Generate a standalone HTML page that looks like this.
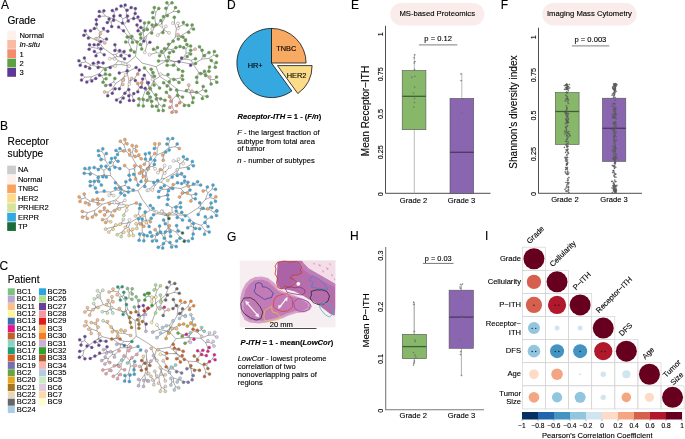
<!DOCTYPE html>
<html><head><meta charset="utf-8"><style>
html,body{margin:0;padding:0;background:#fff;width:685px;height:439px;overflow:hidden}
svg{display:block;will-change:transform}
text{font-family:"Liberation Sans", sans-serif;stroke:currentColor;stroke-width:0.12px}
</style></head><body>
<svg width="685" height="439" viewBox="0 0 685 439" font-family='"Liberation Sans", sans-serif'>
<rect width="685" height="439" fill="#fff"/>
<g id="tissue">
<defs><filter id="tb" x="-5%" y="-5%" width="110%" height="110%"><feGaussianBlur stdDeviation="0.6"/></filter><clipPath id="tc"><rect x="239.7" y="260.6" width="95.8" height="67.2"/></clipPath></defs>
<rect x="239.7" y="260.6" width="95.8" height="66.8" fill="#F7EEF1"/>
<line x1="282" y1="261" x2="335.5" y2="261" stroke="#ddd3d8" stroke-width="0.6"/>
<g filter="url(#tb)" clip-path="url(#tc)">
<!-- fringe (stroma) -->
<path d="M300,260.8 L335.5,260.8 L335.5,284 L326,278.5 L317.3,273.5 L308.7,268.5 L303.5,262.9 Z" fill="#F3DEE8"/>
<path d="M318,264 l3,1 l-1,2 z M326,267 l3,2 l-2,1 z M322,270 l2,1 l-1,2z M331,274 l2,1 l-1,2z M313,262.5 l2,1 l-1,1.5z M329,263 l2,1 l-1,1.5z M334,278 l1.5,1 l-1,1.5z" fill="#E394BA"/>
<!-- left lobe + middle band -->
<path d="M240.3,297.5 L242,290.6 L245.5,283.7 L249.8,279.4 L255,277.1 L262,276.4 L268,278.1 L273.2,282 L277.5,286.3 L280.1,289.7 L287.9,293.2 L293.1,294.1 L301.8,297.5 L308.7,301 L312.1,306.2 L310.4,309.6 L305.2,312.2 L296.6,313.1 L287.9,315.7 L282.7,318.3 L275.8,320 L267.1,322.6 L258.5,323.5 L249.8,322.6 L244.7,320 L241.2,313.1 L240.3,304.5 Z" fill="#D4A2C8"/>
<path d="M243.5,298 L245.5,290 L249,284.5 L254,280.5 L262,279.5 L268,281.5 L273,286 L278,291 L287,295.5 L295,297 L302,300 L307.5,303.5 L308.5,307.5 L303,310.5 L295,311 L287,313.5 L280,316.5 L272,319 L264,320.5 L256,320.8 L249,319.5 L245,315.5 L243.5,309 Z" fill="#C27CB5"/>
<!-- right lobe -->
<path d="M277.5,262 L282.7,260.8 L301.8,260.8 L303.5,262.9 L308.7,268.5 L317.3,273.5 L326,278.5 L335.5,284 L335.5,308 L334.6,315.7 L330.3,314 L322.5,308 L315.6,302.7 L308.7,299.3 L301.8,294.9 L294.8,291.5 L287.9,289.7 L281,288.9 L277.5,285.4 L276.7,276.8 L277.5,268.1 Z" fill="#B56DAB"/>
<path d="M300,262 L303.5,263 L308.7,268.5 L317.3,273.5 L326,278.5 L335.5,284 L335.5,288 L326,283 L316,278 L308,273 L302,268 Z" fill="#C586BD" opacity="0.7"/>
<path d="M278,263 L296,262 L301,268 L300,274 L292,276 L295,281 L289,287 L280,288 L277,282 L277,272 Z" fill="#A65CA5" opacity="0.6"/>
</g>
<!-- white gap and spot -->
<path d="M277.5,288.2 L285,290.6 L294.8,294.4 L302,297.3 L310.4,301.3 L310.1,302.1 L301.7,298.3 L294.4,295.4 L284.7,291.5 L277.3,289 Z" fill="#F6ECF1"/>
<circle cx="298.3" cy="283.8" r="1.9" fill="#fff"/>
<!-- outlines -->
<g fill="none" stroke-width="0.75" stroke-linejoin="round">
<path d="M277.5,262.3 L284,261.2 L290,262 L296.7,261.5 L300.5,265 L301.8,268 L300,270 L302.2,272.5 L298.3,274.9 L292,275.3 L290.2,278 L294,279.5 L296.5,282 L293,285 L289,287.5 L285,286 L282,289 L278.5,288 L276.5,283 L277.5,278 L275,274 L276,269 L275,266 Z" stroke="#C0402A" stroke-width="0.85"/>
<path d="M285.3,288.3 L290,286.8 L295,287.8 L300,287 L304.5,289.5 L305.2,292.5 L302,295 L297,294.3 L292,293.5 L287,292.3 Z" stroke="#8E2F6E"/>
<path d="M255.5,284 L259,282.5 L262,284 L262.5,287 L266,287 L270,289.5 L272.5,292.5 L273.3,292.9 L271.4,297.7 L267,298.5 L264.7,299.6 L261,297 L259,295.7 L256,294 L254,291 L255.5,288 Z" stroke="#3E3BA8"/>
<path d="M240.8,303.4 L243.7,298.1 L250.4,297.7 L255.1,300.5 L259.9,306.3 L262.8,312 L260.9,318.7 L256.1,320.1 L250.4,317.8 L244.6,313.9 L241.3,309.1 Z" stroke="#2a2040"/>
<path d="M276.2,296.7 L282,294.3 L287.7,293.8 L292.5,299.6 L292.5,307.2 L287.7,311 L281.9,311.5 L276.2,309.1 L273.3,306.3 L273.8,300.5 Z" stroke="#E23A3A"/>
<path d="M264.7,310.6 L268,308.5 L271.4,306.3 L272.4,312 L277.1,313 L281,317.8 L278.1,319.7 L271.4,320.6 L264.7,320.6 L263.8,316.8 Z" stroke="#EBC038"/>
<path d="M293.5,302 L298,298.5 L303,299.5 L307.5,301.5 L310.5,305 L309,309.5 L304,311.5 L298.5,311 L294.5,308 Z" stroke="#9A3EAC"/>
<path d="M312.3,275.7 L315,277 L318.8,279 L322,281.5 L324.6,283.9 L327.8,289.2 L322,289 L316,288 L311.4,287.2 L313.1,282.3 L309,280.2 Z" stroke="#3C86D6"/>
<path d="M311,291.5 L316,290 L322,289.8 L327,291.5 L329.5,296 L328,301 L324,304 L318,304.5 L313,302.5 L310,298 L311.5,295 Z" stroke="#222"/>
<path d="M319.5,305 L324,303.5 L328,304 L331,306 L333.5,309.5 L333,314 L329.5,317 L325.5,315 L322,311 L320,308 Z" stroke="#3FB3C4"/>
</g>
<!-- arrows -->
<g stroke="#fff" stroke-width="1.2" fill="#fff">
<line x1="246.6" y1="302.7" x2="258" y2="315.6"/>
<path d="M259.2,317.2 L255.3,315.8 L258.1,313.5 Z" stroke-width="0.3"/>
<path d="M245.4,301.1 L249.3,302.5 L246.5,304.8 Z" stroke-width="0.3"/>
<line x1="286.4" y1="298.6" x2="279.4" y2="307.3"/>
<path d="M287.4,297.1 L287.1,300.9 L284.5,299.5 Z" stroke-width="0.3"/>
<path d="M278.4,308.8 L278.7,305.0 L281.3,306.4 Z" stroke-width="0.3"/>
</g>
<!-- scale bar -->
<line x1="245" y1="328.5" x2="316.5" y2="328.5" stroke="#4a4a4a" stroke-width="1"/>
<text x="281.3" y="326.6" font-size="7.6" text-anchor="middle">20 mm</text>
</g>

<path d="M123.4,79.5L123.3,79.7 M123.4,79.5L123.1,80.3 M184.2,39.0L185.5,39.7 M184.2,39.0L185.3,40.5 M147.7,92.5L147.5,93.2 M147.7,92.5L148.5,93.2 M148.2,83.5L147.5,82.7 M148.2,83.5L148.5,82.7 M140.7,34.9L140.3,34.2 M140.7,34.9L140.9,38.0 M208.3,70.4L209.5,67.1 M208.3,70.4L209.0,71.2 M171.7,51.3L173.5,51.6 M171.7,51.3L169.5,52.8 M152.9,26.8L152.2,25.0 M152.9,26.8L152.2,28.9 M137.3,74.1L139.3,70.0 M137.3,74.1L137.8,74.0 M102.9,41.3L100.7,41.6 M102.9,41.3L104.7,42.9 M214.4,63.6L216.3,62.6 M214.4,63.6L215.3,67.3 M164.5,49.2L164.5,48.7 M164.5,49.2L161.5,51.4 M176.0,47.9L175.9,47.6 M176.0,47.9L180.1,46.5 M150.9,99.9L150.3,97.1 M150.9,99.9L151.7,101.3 M207.0,75.4L205.6,75.5 M207.0,75.4L209.8,77.0 M96.9,45.5L94.1,44.7 M96.9,45.5L98.3,44.4 M213.4,55.2L214.4,51.4 M213.4,55.2L216.8,55.8 M156.8,97.3L155.9,94.8 M156.8,97.3L156.4,99.0 M214.5,79.6L216.5,77.0 M214.5,79.6L216.8,82.2 M191.5,50.7L190.6,50.2 M191.5,50.7L195.1,49.1 M141.7,84.5L141.2,87.2 M141.7,84.5L141.7,82.7 M173.4,109.8L172.0,112.2 M173.4,109.8L176.2,111.8 M164.5,18.1L167.4,15.6 M164.5,18.1L163.5,16.6 M184.6,104.2L184.3,105.5 M184.6,104.2L188.8,105.5 M102.9,12.8L99.3,11.4 M102.9,12.8L103.9,10.8 M88.8,66.6L85.5,66.6 M88.8,66.6L89.7,68.2 M113.4,18.5L113.8,16.0 M113.4,18.5L113.6,20.3 M96.6,24.1L96.3,19.7 M96.6,24.1L96.5,24.2 M86.7,34.6L85.2,30.8 M86.7,34.6L83.9,35.2 M190.9,28.7L192.1,24.9 M190.9,28.7L193.5,29.1 M187.8,46.5L186.9,44.4 M187.8,46.5L190.6,46.0 M201.5,50.6L199.5,46.8 M201.5,50.6L202.1,50.3 M157.9,106.8L156.4,106.2 M157.9,106.8L158.5,110.4 M166.5,84.8L163.6,82.7 M166.5,84.8L167.1,85.9 M124.2,7.3L121.0,6.0 M124.2,7.3L125.2,5.0 M203.6,72.9L204.5,71.2 M203.6,72.9L200.6,73.6 M92.6,79.6L95.8,78.4 M92.6,79.6L91.8,80.9 M178.7,68.7L178.3,69.6 M178.7,68.7L182.7,71.3 M192.3,98.1L193.4,97.8 M192.3,98.1L192.7,102.4 M193.1,91.6L196.6,92.2 M193.1,91.6L191.9,91.1 M188.8,54.4L190.6,53.9 M188.8,54.4L187.1,56.6 M99.5,63.1L98.3,62.3 M99.5,63.1L103.1,62.9 M109.2,21.3L109.1,18.9 M109.2,21.3L107.3,22.6 M114.2,12.2L112.3,10.5 M114.2,12.2L116.5,9.1 M202.5,95.9L207.1,96.4 M202.5,95.9L202.4,98.5 M137.1,18.7L138.0,17.0 M137.1,18.7L140.3,20.7 M134.8,12.9L135.4,8.6 M134.8,12.9L135.2,13.5 M81.6,62.6L78.9,60.7 M81.6,62.6L80.2,65.2 M113.8,58.0L109.8,58.7 M113.8,58.0L114.7,58.9 M121.6,99.1L123.3,98.0 M121.6,99.1L120.4,102.0 M93.9,29.2L94.4,28.4 M93.9,29.2L90.5,30.8 M179.0,103.2L179.7,102.7 M179.0,103.2L176.6,105.5 M127.1,18.2L127.5,16.0 M127.1,18.2L128.3,21.0 M183.3,24.7L183.4,22.4 M183.3,24.7L187.1,25.0 M168.5,5.1L166.9,2.8 M168.5,5.1L172.0,2.8 M170.0,98.2L169.5,96.7 M170.0,98.2L170.9,101.3 M202.3,90.0L203.2,86.4 M202.3,90.0L205.8,90.9 M103.6,79.0L106.0,78.7 M103.6,79.0L103.1,82.2 M103.8,30.5L103.5,28.4 M103.8,30.5L107.8,31.2 M180.5,37.5L183.0,37.1 M180.5,37.5L178.3,39.1 M173.2,11.6L175.5,7.6 M173.2,11.6L178.5,11.6 M154.3,10.9L154.3,7.6 M154.3,10.9L152.7,12.6 M110.3,67.2L110.2,67.5 M110.3,67.2L115.1,66.1 M180.2,78.0L182.2,75.7 M180.2,78.0L182.7,79.4 M91.8,47.4L89.5,44.7 M91.8,47.4L89.1,49.2 M179.4,95.7L177.6,95.6 M179.4,95.7L182.5,97.1 M113.3,90.2L115.1,88.8 M113.3,90.2L112.3,93.2 M192.4,63.0L195.5,63.4 M192.4,63.0L190.6,65.2 M105.9,74.7L105.4,74.0 M105.9,74.7L109.8,74.7 M121.4,84.7L119.4,88.8 M121.4,84.7L122.8,84.5 M205.4,54.4L209.0,52.6 M205.4,54.4L204.4,55.8 M169.7,44.3L173.2,41.1 M169.7,44.3L168.5,44.2 M109.9,84.2L110.5,85.1 M109.9,84.2L105.7,85.4 M129.4,96.7L128.8,95.7 M129.4,96.7L129.4,100.4 M161.6,22.7L160.9,20.5 M161.6,22.7L161.3,25.5 M84.9,77.2L81.8,74.7 M84.9,77.2L81.5,80.1 M162.0,106.6L164.0,105.5 M162.0,106.6L163.2,110.6 M128.2,9.6L131.2,7.6 M128.2,9.6L127.0,10.2 M197.4,77.3L196.6,77.3 M197.4,77.3L196.9,82.4 M178.5,26.1L178.0,23.3 M178.5,26.1L178.0,28.4 M138.6,29.4L137.0,24.9 M138.6,29.4L138.0,30.8 M161.2,99.0L160.6,98.8 M161.2,99.0L165.0,100.3 M185.9,49.1L183.7,47.6 M185.9,49.1L187.8,46.5 M176.1,80.3L173.8,79.4 M176.1,80.3L179.0,82.4 M97.0,53.3L94.4,51.4 M97.0,53.3L96.0,55.8 M122.4,51.7L119.6,50.5 M122.4,51.7L124.1,51.4 M126.3,91.8L128.8,89.6 M126.3,91.8L124.9,93.2 M105.6,16.1L99.3,16.3 M105.6,16.1L102.9,12.8 M174.5,23.1L174.3,17.3 M174.5,23.1L172.9,23.1 M142.9,28.2L140.9,27.6 M142.9,28.2L143.8,30.2 M171.8,65.2L167.1,65.2 M171.8,65.2L173.4,65.2 M143.1,100.9L143.3,99.5 M143.1,100.9L143.3,105.9 M154.3,26.4L156.1,24.7 M154.3,26.4L152.9,26.8 M211.5,60.8L211.3,60.5 M211.5,60.8L214.4,63.6 M140.1,100.5L138.9,98.8 M140.1,100.5L138.5,105.3 M148.6,85.0L150.3,88.5 M148.6,85.0L148.2,83.5 M141.7,44.9L140.3,44.4 M141.7,44.9L141.7,48.9 M172.0,105.5L169.9,107.4 M172.0,105.5L173.4,109.8 M91.1,37.9L88.4,38.0 M91.1,37.9L86.7,34.6 M180.1,36.4L178.0,34.7 M180.1,36.4L180.5,37.5 M156.0,12.4L158.8,8.4 M156.0,12.4L154.3,10.9 M108.2,92.1L107.7,95.7 M108.2,92.1L104.6,92.0 M123.4,31.2L118.6,27.1 M123.4,31.2L123.5,30.7 M166.6,9.6L165.9,8.2 M166.6,9.6L168.5,5.1 M205.6,73.8L207.0,75.4 M205.6,73.8L203.6,72.9 M210.2,79.5L211.1,84.0 M210.2,79.5L214.5,79.6 M146.9,27.0L147.3,29.4 M146.9,27.0L148.8,22.6 M182.1,59.6L181.6,57.9 M182.1,59.6L179.0,61.8 M98.2,47.5L100.9,48.7 M98.2,47.5L96.9,45.5 M130.7,80.8L131.5,78.4 M130.7,80.8L129.3,84.1 M187.0,32.1L188.7,32.3 M187.0,32.1L190.9,28.7 M163.5,30.3L162.9,32.6 M163.5,30.3L165.9,26.3 M147.1,91.2L145.2,88.3 M147.1,91.2L147.7,92.5 M111.3,22.3L111.7,26.5 M111.3,22.3L109.2,21.3 M150.6,101.4L152.2,106.2 M150.6,101.4L150.9,99.9 M132.4,96.0L133.8,93.6 M132.4,96.0L133.6,100.4 M131.5,39.0L131.9,36.4 M131.5,39.0L132.5,42.3 M168.8,85.7L170.6,89.4 M168.8,85.7L166.5,84.8 M155.8,49.8L157.5,47.6 M155.8,49.8L153.5,49.2 M90.3,79.5L86.8,82.0 M90.3,79.5L92.6,79.6 M97.2,64.2L93.3,63.3 M97.2,64.2L99.5,63.1 M103.4,39.3L106.5,39.1 M103.4,39.3L102.9,41.3 M153.2,74.0L153.0,72.6 M153.2,74.0L154.5,76.3 M144.1,26.7L144.5,22.9 M144.1,26.7L142.9,28.2 M153.8,27.6L151.7,33.1 M153.8,27.6L154.3,26.4 M153.8,82.1L152.7,79.4 M153.8,82.1L154.1,85.1 M142.2,83.5L142.7,78.9 M142.2,83.5L141.7,84.5 M206.3,73.0L208.3,70.4 M206.3,73.0L205.6,73.8 M188.7,89.1L186.4,90.6 M188.7,89.1L188.8,85.1 M85.7,61.9L84.4,57.9 M85.7,61.9L81.6,62.6 M120.8,56.9L121.0,55.6 M120.8,56.9L124.6,58.7 M148.8,98.2L147.3,100.3 M148.8,98.2L150.6,101.4 M191.2,60.3L195.5,58.7 M191.2,60.3L192.4,63.0 M121.1,97.2L116.5,99.9 M121.1,97.2L121.6,99.1 M122.7,18.8L120.1,15.6 M122.7,18.8L122.5,23.1 M126.3,11.0L124.2,7.3 M126.3,11.0L128.2,9.6 M169.7,96.5L166.4,92.2 M169.7,96.5L170.0,98.2 M178.1,94.3L176.6,90.1 M178.1,94.3L179.4,95.7 M133.8,16.6L133.6,18.6 M133.8,16.6L134.8,12.9 M98.8,66.3L98.1,67.6 M98.8,66.3L97.2,64.2 M188.8,52.7L191.5,50.7 M188.8,52.7L188.8,54.4 M105.6,68.0L105.4,69.7 M105.6,68.0L110.3,67.2 M102.4,75.3L99.6,75.2 M102.4,75.3L105.9,74.7 M131.2,48.3L130.7,50.2 M131.2,48.3L134.3,51.9 M99.0,36.6L100.4,33.6 M99.0,36.6L96.0,38.6 M190.8,91.6L193.1,91.6 M190.8,91.6L188.7,89.1 M179.4,26.6L183.3,24.7 M179.4,26.6L178.5,26.1 M162.5,22.2L164.5,18.1 M162.5,22.2L161.6,22.7 M112.9,19.2L113.4,18.5 M112.9,19.2L111.3,22.3 M181.9,36.9L184.2,39.0 M181.9,36.9L180.1,36.4 M158.7,103.7L157.9,106.8 M158.7,103.7L162.0,106.6 M154.8,17.8L153.0,17.7 M154.8,17.8L156.0,12.4 M139.3,87.5L137.8,91.7 M139.3,87.5L137.8,83.5 M197.9,92.7L202.5,95.9 M197.9,92.7L202.3,90.0 M142.8,97.3L143.1,100.9 M142.8,97.3L140.1,100.5 M129.9,93.9L129.4,96.7 M129.9,93.9L132.4,96.0 M202.9,54.7L201.5,50.6 M202.9,54.7L205.4,54.4 M132.9,18.3L137.1,18.7 M132.9,18.3L133.8,16.6 M165.0,60.6L158.5,61.0 M165.0,60.6L167.2,61.0 M123.7,78.4L125.7,74.7 M123.7,78.4L123.4,79.5 M134.7,78.2L135.4,80.6 M134.7,78.2L137.3,74.1 M180.7,101.5L184.6,104.2 M180.7,101.5L179.0,103.2 M156.3,52.7L149.6,54.7 M156.3,52.7L155.8,49.8 M172.0,49.5L171.7,51.3 M172.0,49.5L176.0,47.9 M125.2,71.6L127.2,70.8 M125.2,71.6L119.3,72.9 M123.4,53.3L129.4,55.8 M123.4,53.3L122.4,51.7 M112.4,88.6L113.3,90.2 M112.4,88.6L108.2,92.1 M100.7,37.6L103.4,39.3 M100.7,37.6L99.0,36.6 M96.9,28.4L96.6,24.1 M96.9,28.4L93.9,29.2 M208.9,58.4L213.4,55.2 M208.9,58.4L211.5,60.8 M100.5,52.6L104.2,54.7 M100.5,52.6L97.0,53.3 M96.8,48.2L91.8,47.4 M96.8,48.2L98.2,47.5 M130.1,38.2L127.2,37.0 M130.1,38.2L131.5,39.0 M158.1,98.0L156.8,97.3 M158.1,98.0L161.2,99.0 M161.8,31.9L157.8,35.2 M161.8,31.9L163.5,30.3 M140.8,32.5L140.7,34.9 M140.8,32.5L138.6,29.4 M101.7,76.0L103.6,79.0 M101.7,76.0L102.4,75.3 M144.7,28.9L146.9,27.0 M144.7,28.9L144.1,26.7 M169.2,83.0L169.2,81.7 M169.2,83.0L168.8,85.7 M154.6,81.8L159.6,88.0 M154.6,81.8L153.8,82.1 M125.4,17.7L127.1,18.2 M125.4,17.7L122.7,18.8 M91.1,65.1L88.8,66.6 M91.1,65.1L85.7,61.9 M175.6,79.0L180.2,78.0 M175.6,79.0L176.1,80.3 M113.5,82.0L114.9,78.4 M113.5,82.0L109.9,84.2 M166.4,75.8L168.0,74.5 M166.4,75.8L160.6,74.2 M165.5,15.5L173.2,11.6 M165.5,15.5L166.6,9.6 M148.4,92.8L147.1,91.2 M148.4,92.8L148.8,98.2 M116.1,49.2L114.9,44.7 M116.1,49.2L114.9,50.5 M169.4,59.8L168.5,57.0 M169.4,59.8L165.0,60.6 M143.2,41.3L143.8,41.1 M143.2,41.3L141.7,44.9 M186.1,53.1L185.9,49.1 M186.1,53.1L188.8,52.7 M91.5,76.8L84.9,77.2 M91.5,76.8L90.3,79.5 M167.5,47.6L164.5,49.2 M167.5,47.6L169.7,44.3 M125.1,92.7L126.3,91.8 M125.1,92.7L121.1,97.2 M190.7,94.0L192.3,98.1 M190.7,94.0L190.8,91.6 M176.4,28.9L174.5,23.1 M176.4,28.9L179.4,26.6 M128.6,42.7L125.7,41.9 M128.6,42.7L131.2,48.3 M164.1,30.2L169.0,32.9 M164.1,30.2L161.8,31.9 M156.2,97.7L158.7,103.7 M156.2,97.7L158.1,98.0 M100.3,49.7L100.5,52.6 M100.3,49.7L96.8,48.2 M118.5,52.3L123.4,53.3 M118.5,52.3L116.1,49.2 M205.0,74.9L210.2,79.5 M205.0,74.9L206.3,73.0 M152.2,73.1L151.2,69.2 M152.2,73.1L153.2,74.0 M122.1,80.9L121.4,84.7 M122.1,80.9L123.7,78.4 M147.4,83.1L144.3,75.2 M147.4,83.1L148.6,85.0 M178.4,97.1L178.1,94.3 M178.4,97.1L180.7,101.5 M146.9,44.7L144.8,52.4 M146.9,44.7L149.9,42.3 M113.9,16.9L114.2,12.2 M113.9,16.9L112.9,19.2 M100.1,31.9L103.8,30.5 M100.1,31.9L96.9,28.4 M175.0,65.2L178.7,68.7 M175.0,65.2L171.8,65.2 M142.2,87.2L142.2,83.5 M142.2,87.2L139.3,87.5 M126.5,16.2L126.3,11.0 M126.5,16.2L125.4,17.7 M143.2,33.1L140.8,32.5 M143.2,33.1L144.7,28.9 M181.4,35.4L187.0,32.1 M181.4,35.4L181.9,36.9 M114.6,19.2L105.6,16.1 M114.6,19.2L113.9,16.9 M116.9,56.5L113.8,58.0 M116.9,56.5L120.8,56.9 M201.7,59.2L202.9,54.7 M201.7,59.2L208.9,58.4 M131.7,38.7L137.0,41.9 M131.7,38.7L130.1,38.2 M188.9,92.3L197.9,92.7 M188.9,92.3L190.7,94.0 M115.7,83.4L112.4,88.6 M115.7,83.4L113.5,82.0 M198.6,72.2L197.4,77.3 M198.6,72.2L205.0,74.9 M185.7,59.1L182.1,59.6 M185.7,59.1L191.2,60.3 M101.1,67.0L98.8,66.3 M101.1,67.0L105.6,68.0 M172.7,99.1L172.0,105.5 M172.7,99.1L169.7,96.5 M122.3,64.7L122.8,63.3 M122.3,64.7L129.1,66.1 M161.5,25.7L162.5,22.2 M161.5,25.7L164.1,30.2 M128.0,89.1L129.9,93.9 M128.0,89.1L125.1,92.7 M168.3,49.3L172.0,49.5 M168.3,49.3L167.5,47.6 M99.7,36.9L100.7,37.6 M99.7,36.9L100.1,31.9 M176.4,95.5L178.4,97.1 M176.4,95.5L172.7,99.1 M127.9,19.7L132.9,18.3 M127.9,19.7L126.5,16.2 M165.3,50.7L159.6,55.8 M165.3,50.7L168.3,49.3 M149.2,89.1L148.4,92.8 M149.2,89.1L147.4,83.1 M98.2,41.1L91.1,37.9 M98.2,41.1L99.7,36.9 M155.5,23.4L153.8,27.6 M155.5,23.4L154.8,17.8 M131.4,79.8L130.7,80.8 M131.4,79.8L134.7,78.2 M170.6,78.8L175.6,79.0 M170.6,78.8L166.4,75.8 M183.7,57.5L186.1,53.1 M183.7,57.5L185.7,59.1 M144.1,38.0L143.2,41.3 M144.1,38.0L143.2,33.1 M121.2,79.6L122.1,80.9 M121.2,79.6L115.7,83.4 M99.2,73.7L101.7,76.0 M99.2,73.7L91.5,76.8 M128.0,35.9L123.4,31.2 M128.0,35.9L131.7,38.7 M175.3,37.1L176.4,28.9 M175.3,37.1L181.4,35.4 M129.0,71.2L136.1,67.5 M129.0,71.2L125.2,71.6 M145.1,90.6L142.8,97.3 M145.1,90.6L142.2,87.2 M169.7,81.5L169.2,83.0 M169.7,81.5L170.6,78.8 M157.9,24.8L161.5,25.7 M157.9,24.8L155.5,23.4 M150.5,75.3L144.5,67.9 M150.5,75.3L154.6,81.8 M98.8,66.9L91.1,65.1 M98.8,66.9L101.1,67.0 M129.0,37.8L128.6,42.7 M129.0,37.8L128.0,35.9 M152.0,91.4L156.2,97.7 M152.0,91.4L149.2,89.1 M174.6,61.8L169.4,59.8 M174.6,61.8L175.0,65.2 M116.0,54.4L118.5,52.3 M116.0,54.4L116.9,56.5 M193.3,64.4L201.7,59.2 M193.3,64.4L198.6,72.2 M103.7,48.4L100.3,49.7 M103.7,48.4L98.2,41.1 M104.3,68.4L99.2,73.7 M104.3,68.4L98.8,66.9 M156.7,25.3L165.5,15.5 M156.7,25.3L157.9,24.8 M128.9,80.6L128.0,89.1 M128.9,80.6L131.4,79.8 M152.3,76.1L152.2,73.1 M152.3,76.1L150.5,75.3 M125.8,74.6L121.2,79.6 M125.8,74.6L129.0,71.2 M179.4,60.4L183.7,57.5 M179.4,60.4L174.6,61.8 M145.9,39.5L146.9,44.7 M145.9,39.5L144.1,38.0 M178.2,90.1L188.9,92.3 M178.2,90.1L176.4,95.5 M124.2,24.6L114.6,19.2 M124.2,24.6L127.9,19.7 M168.1,47.1L165.3,50.7 M168.1,47.1L175.3,37.1 M150.4,87.3L145.1,90.6 M150.4,87.3L152.0,91.4 M169.2,82.7L169.7,81.5 M169.2,82.7L178.2,90.1 M112.6,54.6L116.0,54.4 M112.6,54.6L103.7,48.4 M130.2,34.9L129.0,37.8 M130.2,34.9L124.2,24.6 M179.7,61.8L193.3,64.4 M179.7,61.8L179.4,60.4 M114.9,64.6L122.3,64.7 M114.9,64.6L104.3,68.4 M163.7,53.5L156.3,52.7 M163.7,53.5L168.1,47.1 M127.2,72.8L128.9,80.6 M127.2,72.8L125.8,74.6 M146.7,35.7L156.7,25.3 M146.7,35.7L145.9,39.5 M154.2,80.0L152.3,76.1 M154.2,80.0L150.4,87.3 M118.2,60.8L112.6,54.6 M118.2,60.8L114.9,64.6 M166.5,60.7L179.7,61.8 M166.5,60.7L163.7,53.5 M159.8,76.5L169.2,82.7 M159.8,76.5L154.2,80.0 M137.5,42.3L130.2,34.9 M137.5,42.3L146.7,35.7 M127.0,63.3L127.2,72.8 M127.0,63.3L118.2,60.8 M156.1,66.7L166.5,60.7 M156.1,66.7L159.8,76.5 M135.5,56.2L137.5,42.3 M135.5,56.2L127.0,63.3 M142.0,63.0L156.1,66.7 M142.0,63.0L135.5,56.2" stroke="#5a5a5a" stroke-width="0.5" fill="none"/>
<g stroke="#808080" stroke-width="0.4">
<circle cx="121.0" cy="6.0" r="1.5" fill="#643A9A"/>
<circle cx="125.2" cy="5.0" r="1.5" fill="#643A9A"/>
<circle cx="131.2" cy="7.6" r="1.5" fill="#643A9A"/>
<circle cx="135.4" cy="8.6" r="1.5" fill="#643A9A"/>
<circle cx="127.0" cy="10.2" r="1.5" fill="#643A9A"/>
<circle cx="112.3" cy="10.5" r="1.5" fill="#643A9A"/>
<circle cx="116.5" cy="9.1" r="1.5" fill="#643A9A"/>
<circle cx="99.3" cy="11.4" r="1.5" fill="#643A9A"/>
<circle cx="103.9" cy="10.8" r="1.5" fill="#643A9A"/>
<circle cx="135.2" cy="13.5" r="1.5" fill="#643A9A"/>
<circle cx="113.8" cy="16.0" r="1.5" fill="#643A9A"/>
<circle cx="120.1" cy="15.6" r="1.5" fill="#643A9A"/>
<circle cx="127.5" cy="16.0" r="1.5" fill="#643A9A"/>
<circle cx="138.0" cy="17.0" r="1.5" fill="#643A9A"/>
<circle cx="99.3" cy="16.3" r="1.5" fill="#643A9A"/>
<circle cx="109.1" cy="18.9" r="1.5" fill="#643A9A"/>
<circle cx="113.6" cy="20.3" r="1.5" fill="#643A9A"/>
<circle cx="133.6" cy="18.6" r="1.5" fill="#643A9A"/>
<circle cx="140.3" cy="20.7" r="1.5" fill="#643A9A"/>
<circle cx="96.3" cy="19.7" r="1.5" fill="#643A9A"/>
<circle cx="107.3" cy="22.6" r="1.5" fill="#643A9A"/>
<circle cx="122.5" cy="23.1" r="1.5" fill="#643A9A"/>
<circle cx="128.3" cy="21.0" r="1.5" fill="#643A9A"/>
<circle cx="137.0" cy="24.9" r="1.5" fill="#643A9A"/>
<circle cx="96.5" cy="24.2" r="1.5" fill="#643A9A"/>
<circle cx="111.7" cy="26.5" r="1.5" fill="#643A9A"/>
<circle cx="118.6" cy="27.1" r="1.5" fill="#643A9A"/>
<circle cx="103.5" cy="28.4" r="1.5" fill="#643A9A"/>
<circle cx="94.4" cy="28.4" r="1.5" fill="#643A9A"/>
<circle cx="90.5" cy="30.8" r="1.5" fill="#643A9A"/>
<circle cx="85.2" cy="30.8" r="1.5" fill="#643A9A"/>
<circle cx="107.8" cy="31.2" r="1.5" fill="#643A9A"/>
<circle cx="123.5" cy="30.7" r="1.5" fill="#643A9A"/>
<circle cx="138.0" cy="30.8" r="1.5" fill="#643A9A"/>
<circle cx="140.9" cy="27.6" r="1.5" fill="#643A9A"/>
<circle cx="83.9" cy="35.2" r="1.5" fill="#643A9A"/>
<circle cx="88.4" cy="38.0" r="1.5" fill="#643A9A"/>
<circle cx="106.5" cy="39.1" r="1.5" fill="#643A9A"/>
<circle cx="100.4" cy="33.6" r="1.5" fill="#F9BBA4"/>
<circle cx="96.0" cy="38.6" r="1.5" fill="#F9BBA4"/>
<circle cx="144.5" cy="22.9" r="1.5" fill="#5BA23F"/>
<circle cx="127.2" cy="37.0" r="1.5" fill="#5BA23F"/>
<circle cx="131.9" cy="36.4" r="1.5" fill="#5BA23F"/>
<circle cx="143.8" cy="30.2" r="1.5" fill="#5BA23F"/>
<circle cx="140.3" cy="34.2" r="1.5" fill="#5BA23F"/>
<circle cx="140.9" cy="38.0" r="1.5" fill="#5BA23F"/>
<circle cx="147.3" cy="29.4" r="1.5" fill="#5BA23F"/>
<circle cx="166.9" cy="2.8" r="1.5" fill="#5BA23F"/>
<circle cx="172.0" cy="2.8" r="1.5" fill="#5BA23F"/>
<circle cx="154.3" cy="7.6" r="1.5" fill="#5BA23F"/>
<circle cx="158.8" cy="8.4" r="1.5" fill="#5BA23F"/>
<circle cx="165.9" cy="8.2" r="1.5" fill="#5BA23F"/>
<circle cx="175.5" cy="7.6" r="1.5" fill="#5BA23F"/>
<circle cx="178.5" cy="11.6" r="1.5" fill="#5BA23F"/>
<circle cx="152.7" cy="12.6" r="1.5" fill="#5BA23F"/>
<circle cx="167.4" cy="15.6" r="1.5" fill="#5BA23F"/>
<circle cx="163.5" cy="16.6" r="1.5" fill="#5BA23F"/>
<circle cx="174.3" cy="17.3" r="1.5" fill="#5BA23F"/>
<circle cx="153.0" cy="17.7" r="1.5" fill="#5BA23F"/>
<circle cx="160.9" cy="20.5" r="1.5" fill="#5BA23F"/>
<circle cx="148.8" cy="22.6" r="1.5" fill="#5BA23F"/>
<circle cx="152.2" cy="25.0" r="1.5" fill="#5BA23F"/>
<circle cx="156.1" cy="24.7" r="1.5" fill="#5BA23F"/>
<circle cx="183.4" cy="22.4" r="1.5" fill="#5BA23F"/>
<circle cx="187.1" cy="25.0" r="1.5" fill="#5BA23F"/>
<circle cx="192.1" cy="24.9" r="1.5" fill="#5BA23F"/>
<circle cx="193.5" cy="29.1" r="1.5" fill="#5BA23F"/>
<circle cx="188.7" cy="32.3" r="1.5" fill="#5BA23F"/>
<circle cx="162.9" cy="32.6" r="1.5" fill="#5BA23F"/>
<circle cx="151.7" cy="33.1" r="1.5" fill="#5BA23F"/>
<circle cx="183.0" cy="37.1" r="1.5" fill="#5BA23F"/>
<circle cx="178.3" cy="39.1" r="1.5" fill="#5BA23F"/>
<circle cx="185.5" cy="39.7" r="1.5" fill="#5BA23F"/>
<circle cx="172.9" cy="23.1" r="1.5" fill="#FEF0EA"/>
<circle cx="178.0" cy="23.3" r="1.5" fill="#FEF0EA"/>
<circle cx="161.3" cy="25.5" r="1.5" fill="#FEF0EA"/>
<circle cx="165.9" cy="26.3" r="1.5" fill="#FEF0EA"/>
<circle cx="178.0" cy="28.4" r="1.5" fill="#FEF0EA"/>
<circle cx="152.2" cy="28.9" r="1.5" fill="#FEF0EA"/>
<circle cx="169.0" cy="32.9" r="1.5" fill="#FEF0EA"/>
<circle cx="157.8" cy="35.2" r="1.5" fill="#FEF0EA"/>
<circle cx="178.0" cy="34.7" r="1.5" fill="#F9BBA4"/>
<circle cx="100.7" cy="41.6" r="1.5" fill="#643A9A"/>
<circle cx="89.5" cy="44.7" r="1.5" fill="#643A9A"/>
<circle cx="94.1" cy="44.7" r="1.5" fill="#643A9A"/>
<circle cx="98.3" cy="44.4" r="1.5" fill="#643A9A"/>
<circle cx="114.9" cy="44.7" r="1.5" fill="#643A9A"/>
<circle cx="89.1" cy="49.2" r="1.5" fill="#643A9A"/>
<circle cx="100.9" cy="48.7" r="1.5" fill="#643A9A"/>
<circle cx="94.4" cy="51.4" r="1.5" fill="#643A9A"/>
<circle cx="114.9" cy="50.5" r="1.5" fill="#643A9A"/>
<circle cx="119.6" cy="50.5" r="1.5" fill="#643A9A"/>
<circle cx="124.1" cy="51.4" r="1.5" fill="#643A9A"/>
<circle cx="96.0" cy="55.8" r="1.5" fill="#643A9A"/>
<circle cx="104.2" cy="54.7" r="1.5" fill="#643A9A"/>
<circle cx="121.0" cy="55.6" r="1.5" fill="#643A9A"/>
<circle cx="129.4" cy="55.8" r="1.5" fill="#643A9A"/>
<circle cx="124.6" cy="58.7" r="1.5" fill="#643A9A"/>
<circle cx="84.4" cy="57.9" r="1.5" fill="#643A9A"/>
<circle cx="78.9" cy="60.7" r="1.5" fill="#643A9A"/>
<circle cx="93.3" cy="63.3" r="1.5" fill="#643A9A"/>
<circle cx="98.3" cy="62.3" r="1.5" fill="#643A9A"/>
<circle cx="103.1" cy="62.9" r="1.5" fill="#643A9A"/>
<circle cx="80.2" cy="65.2" r="1.5" fill="#643A9A"/>
<circle cx="85.5" cy="66.6" r="1.5" fill="#643A9A"/>
<circle cx="89.7" cy="68.2" r="1.5" fill="#643A9A"/>
<circle cx="98.1" cy="67.6" r="1.5" fill="#643A9A"/>
<circle cx="110.2" cy="67.5" r="1.5" fill="#643A9A"/>
<circle cx="136.1" cy="67.5" r="1.5" fill="#643A9A"/>
<circle cx="139.3" cy="70.0" r="1.5" fill="#643A9A"/>
<circle cx="127.2" cy="70.8" r="1.5" fill="#643A9A"/>
<circle cx="119.3" cy="72.9" r="1.5" fill="#643A9A"/>
<circle cx="81.8" cy="74.7" r="1.5" fill="#643A9A"/>
<circle cx="99.6" cy="75.2" r="1.5" fill="#643A9A"/>
<circle cx="95.8" cy="78.4" r="1.5" fill="#643A9A"/>
<circle cx="144.3" cy="75.2" r="1.5" fill="#643A9A"/>
<circle cx="142.7" cy="78.9" r="1.5" fill="#643A9A"/>
<circle cx="143.8" cy="41.1" r="1.5" fill="#643A9A"/>
<circle cx="125.7" cy="41.9" r="1.5" fill="#5BA23F"/>
<circle cx="132.5" cy="42.3" r="1.5" fill="#5BA23F"/>
<circle cx="137.0" cy="41.9" r="1.5" fill="#5BA23F"/>
<circle cx="140.3" cy="44.4" r="1.5" fill="#5BA23F"/>
<circle cx="130.7" cy="50.2" r="1.5" fill="#5BA23F"/>
<circle cx="134.3" cy="51.9" r="1.5" fill="#5BA23F"/>
<circle cx="141.7" cy="48.9" r="1.5" fill="#5BA23F"/>
<circle cx="105.4" cy="69.7" r="1.5" fill="#5BA23F"/>
<circle cx="105.4" cy="74.0" r="1.5" fill="#5BA23F"/>
<circle cx="109.8" cy="74.7" r="1.5" fill="#5BA23F"/>
<circle cx="106.0" cy="78.7" r="1.5" fill="#5BA23F"/>
<circle cx="114.9" cy="78.4" r="1.5" fill="#5BA23F"/>
<circle cx="144.5" cy="67.9" r="1.5" fill="#5BA23F"/>
<circle cx="109.8" cy="58.7" r="1.5" fill="#FEF0EA"/>
<circle cx="114.7" cy="58.9" r="1.5" fill="#FEF0EA"/>
<circle cx="122.8" cy="63.3" r="1.5" fill="#FEF0EA"/>
<circle cx="115.1" cy="66.1" r="1.5" fill="#FEF0EA"/>
<circle cx="129.1" cy="66.1" r="1.5" fill="#FEF0EA"/>
<circle cx="125.7" cy="74.7" r="1.5" fill="#FEF0EA"/>
<circle cx="144.8" cy="52.4" r="1.5" fill="#FEF0EA"/>
<circle cx="104.7" cy="42.9" r="1.5" fill="#F9BBA4"/>
<circle cx="137.8" cy="74.0" r="1.5" fill="#F48C6E"/>
<circle cx="131.5" cy="78.4" r="1.5" fill="#F9BBA4"/>
<circle cx="123.3" cy="79.7" r="1.5" fill="#F9BBA4"/>
<circle cx="173.2" cy="41.1" r="1.5" fill="#5BA23F"/>
<circle cx="185.3" cy="40.5" r="1.5" fill="#5BA23F"/>
<circle cx="168.5" cy="44.2" r="1.5" fill="#5BA23F"/>
<circle cx="186.9" cy="44.4" r="1.5" fill="#5BA23F"/>
<circle cx="190.6" cy="46.0" r="1.5" fill="#5BA23F"/>
<circle cx="199.5" cy="46.8" r="1.5" fill="#5BA23F"/>
<circle cx="175.9" cy="47.6" r="1.5" fill="#5BA23F"/>
<circle cx="180.1" cy="46.5" r="1.5" fill="#5BA23F"/>
<circle cx="183.7" cy="47.6" r="1.5" fill="#5BA23F"/>
<circle cx="157.5" cy="47.6" r="1.5" fill="#5BA23F"/>
<circle cx="153.5" cy="49.2" r="1.5" fill="#5BA23F"/>
<circle cx="164.5" cy="48.7" r="1.5" fill="#5BA23F"/>
<circle cx="190.6" cy="50.2" r="1.5" fill="#5BA23F"/>
<circle cx="202.1" cy="50.3" r="1.5" fill="#5BA23F"/>
<circle cx="161.5" cy="51.4" r="1.5" fill="#5BA23F"/>
<circle cx="173.5" cy="51.6" r="1.5" fill="#5BA23F"/>
<circle cx="169.5" cy="52.8" r="1.5" fill="#5BA23F"/>
<circle cx="190.6" cy="53.9" r="1.5" fill="#5BA23F"/>
<circle cx="209.0" cy="52.6" r="1.5" fill="#5BA23F"/>
<circle cx="214.4" cy="51.4" r="1.5" fill="#5BA23F"/>
<circle cx="159.6" cy="55.8" r="1.5" fill="#5BA23F"/>
<circle cx="204.4" cy="55.8" r="1.5" fill="#5BA23F"/>
<circle cx="216.8" cy="55.8" r="1.5" fill="#5BA23F"/>
<circle cx="168.5" cy="57.0" r="1.5" fill="#5BA23F"/>
<circle cx="187.1" cy="56.6" r="1.5" fill="#5BA23F"/>
<circle cx="195.5" cy="58.7" r="1.5" fill="#5BA23F"/>
<circle cx="158.5" cy="61.0" r="1.5" fill="#5BA23F"/>
<circle cx="167.2" cy="61.0" r="1.5" fill="#5BA23F"/>
<circle cx="211.3" cy="60.5" r="1.5" fill="#5BA23F"/>
<circle cx="216.3" cy="62.6" r="1.5" fill="#5BA23F"/>
<circle cx="195.5" cy="63.4" r="1.5" fill="#5BA23F"/>
<circle cx="167.1" cy="65.2" r="1.5" fill="#5BA23F"/>
<circle cx="173.4" cy="65.2" r="1.5" fill="#5BA23F"/>
<circle cx="209.5" cy="67.1" r="1.5" fill="#5BA23F"/>
<circle cx="215.3" cy="67.3" r="1.5" fill="#5BA23F"/>
<circle cx="151.2" cy="69.2" r="1.5" fill="#5BA23F"/>
<circle cx="178.3" cy="69.6" r="1.5" fill="#5BA23F"/>
<circle cx="182.7" cy="71.3" r="1.5" fill="#5BA23F"/>
<circle cx="204.5" cy="71.2" r="1.5" fill="#5BA23F"/>
<circle cx="209.0" cy="71.2" r="1.5" fill="#5BA23F"/>
<circle cx="153.0" cy="72.6" r="1.5" fill="#5BA23F"/>
<circle cx="200.6" cy="73.6" r="1.5" fill="#5BA23F"/>
<circle cx="168.0" cy="74.5" r="1.5" fill="#5BA23F"/>
<circle cx="182.2" cy="75.7" r="1.5" fill="#5BA23F"/>
<circle cx="205.6" cy="75.5" r="1.5" fill="#5BA23F"/>
<circle cx="154.5" cy="76.3" r="1.5" fill="#5BA23F"/>
<circle cx="196.6" cy="77.3" r="1.5" fill="#5BA23F"/>
<circle cx="216.5" cy="77.0" r="1.5" fill="#5BA23F"/>
<circle cx="173.8" cy="79.4" r="1.5" fill="#5BA23F"/>
<circle cx="182.7" cy="79.4" r="1.5" fill="#5BA23F"/>
<circle cx="149.9" cy="42.3" r="1.5" fill="#643A9A"/>
<circle cx="181.6" cy="57.9" r="1.5" fill="#643A9A"/>
<circle cx="179.0" cy="61.8" r="1.5" fill="#643A9A"/>
<circle cx="190.6" cy="65.2" r="1.5" fill="#643A9A"/>
<circle cx="149.6" cy="54.7" r="1.5" fill="#FEF0EA"/>
<circle cx="160.6" cy="74.2" r="1.5" fill="#FEF0EA"/>
<circle cx="152.7" cy="79.4" r="1.5" fill="#FEF0EA"/>
<circle cx="195.1" cy="49.1" r="1.5" fill="#F9BBA4"/>
<circle cx="209.8" cy="77.0" r="1.5" fill="#F9BBA4"/>
<circle cx="81.5" cy="80.1" r="1.5" fill="#643A9A"/>
<circle cx="86.8" cy="82.0" r="1.5" fill="#643A9A"/>
<circle cx="91.8" cy="80.9" r="1.5" fill="#643A9A"/>
<circle cx="110.5" cy="85.1" r="1.5" fill="#643A9A"/>
<circle cx="115.1" cy="88.8" r="1.5" fill="#643A9A"/>
<circle cx="119.4" cy="88.8" r="1.5" fill="#643A9A"/>
<circle cx="112.3" cy="93.2" r="1.5" fill="#643A9A"/>
<circle cx="107.7" cy="95.7" r="1.5" fill="#643A9A"/>
<circle cx="135.4" cy="80.6" r="1.5" fill="#643A9A"/>
<circle cx="141.2" cy="87.2" r="1.5" fill="#643A9A"/>
<circle cx="145.2" cy="88.3" r="1.5" fill="#643A9A"/>
<circle cx="128.8" cy="89.6" r="1.5" fill="#643A9A"/>
<circle cx="137.8" cy="91.7" r="1.5" fill="#643A9A"/>
<circle cx="133.8" cy="93.6" r="1.5" fill="#643A9A"/>
<circle cx="124.9" cy="93.2" r="1.5" fill="#643A9A"/>
<circle cx="128.8" cy="95.7" r="1.5" fill="#643A9A"/>
<circle cx="123.3" cy="98.0" r="1.5" fill="#643A9A"/>
<circle cx="116.5" cy="99.9" r="1.5" fill="#643A9A"/>
<circle cx="120.4" cy="102.0" r="1.5" fill="#643A9A"/>
<circle cx="129.4" cy="100.4" r="1.5" fill="#643A9A"/>
<circle cx="133.6" cy="100.4" r="1.5" fill="#643A9A"/>
<circle cx="147.5" cy="82.7" r="1.5" fill="#643A9A"/>
<circle cx="103.1" cy="82.2" r="1.5" fill="#5BA23F"/>
<circle cx="105.7" cy="85.4" r="1.5" fill="#5BA23F"/>
<circle cx="138.9" cy="98.8" r="1.5" fill="#5BA23F"/>
<circle cx="143.3" cy="99.5" r="1.5" fill="#5BA23F"/>
<circle cx="147.3" cy="100.3" r="1.5" fill="#5BA23F"/>
<circle cx="138.5" cy="105.3" r="1.5" fill="#5BA23F"/>
<circle cx="143.3" cy="105.9" r="1.5" fill="#5BA23F"/>
<circle cx="147.5" cy="93.2" r="1.5" fill="#5BA23F"/>
<circle cx="123.1" cy="80.3" r="1.5" fill="#F9BBA4"/>
<circle cx="122.8" cy="84.5" r="1.5" fill="#F9BBA4"/>
<circle cx="104.6" cy="92.0" r="1.5" fill="#F9BBA4"/>
<circle cx="137.8" cy="83.5" r="1.5" fill="#F48C6E"/>
<circle cx="141.7" cy="82.7" r="1.5" fill="#F48C6E"/>
<circle cx="129.3" cy="84.1" r="1.5" fill="#FEF0EA"/>
<circle cx="163.6" cy="82.7" r="1.5" fill="#5BA23F"/>
<circle cx="169.2" cy="81.7" r="1.5" fill="#5BA23F"/>
<circle cx="179.0" cy="82.4" r="1.5" fill="#5BA23F"/>
<circle cx="154.1" cy="85.1" r="1.5" fill="#5BA23F"/>
<circle cx="159.6" cy="88.0" r="1.5" fill="#5BA23F"/>
<circle cx="167.1" cy="85.9" r="1.5" fill="#5BA23F"/>
<circle cx="150.3" cy="88.5" r="1.5" fill="#5BA23F"/>
<circle cx="170.6" cy="89.4" r="1.5" fill="#5BA23F"/>
<circle cx="176.6" cy="90.1" r="1.5" fill="#5BA23F"/>
<circle cx="186.4" cy="90.6" r="1.5" fill="#5BA23F"/>
<circle cx="196.9" cy="82.4" r="1.5" fill="#5BA23F"/>
<circle cx="203.2" cy="86.4" r="1.5" fill="#5BA23F"/>
<circle cx="205.8" cy="90.9" r="1.5" fill="#5BA23F"/>
<circle cx="196.6" cy="92.2" r="1.5" fill="#5BA23F"/>
<circle cx="211.1" cy="84.0" r="1.5" fill="#5BA23F"/>
<circle cx="216.8" cy="82.2" r="1.5" fill="#5BA23F"/>
<circle cx="166.4" cy="92.2" r="1.5" fill="#5BA23F"/>
<circle cx="148.5" cy="93.2" r="1.5" fill="#5BA23F"/>
<circle cx="155.9" cy="94.8" r="1.5" fill="#5BA23F"/>
<circle cx="177.6" cy="95.6" r="1.5" fill="#5BA23F"/>
<circle cx="182.5" cy="97.1" r="1.5" fill="#5BA23F"/>
<circle cx="193.4" cy="97.8" r="1.5" fill="#5BA23F"/>
<circle cx="207.1" cy="96.4" r="1.5" fill="#5BA23F"/>
<circle cx="202.4" cy="98.5" r="1.5" fill="#5BA23F"/>
<circle cx="150.3" cy="97.1" r="1.5" fill="#5BA23F"/>
<circle cx="156.4" cy="99.0" r="1.5" fill="#5BA23F"/>
<circle cx="160.6" cy="98.8" r="1.5" fill="#5BA23F"/>
<circle cx="165.0" cy="100.3" r="1.5" fill="#5BA23F"/>
<circle cx="151.7" cy="101.3" r="1.5" fill="#5BA23F"/>
<circle cx="192.7" cy="102.4" r="1.5" fill="#5BA23F"/>
<circle cx="184.3" cy="105.5" r="1.5" fill="#5BA23F"/>
<circle cx="188.8" cy="105.5" r="1.5" fill="#5BA23F"/>
<circle cx="152.2" cy="106.2" r="1.5" fill="#5BA23F"/>
<circle cx="156.4" cy="106.2" r="1.5" fill="#5BA23F"/>
<circle cx="164.0" cy="105.5" r="1.5" fill="#5BA23F"/>
<circle cx="158.5" cy="110.4" r="1.5" fill="#5BA23F"/>
<circle cx="163.2" cy="110.6" r="1.5" fill="#5BA23F"/>
<circle cx="169.5" cy="96.7" r="1.5" fill="#F48C6E"/>
<circle cx="170.9" cy="101.3" r="1.5" fill="#F48C6E"/>
<circle cx="179.7" cy="102.7" r="1.5" fill="#F48C6E"/>
<circle cx="176.6" cy="105.5" r="1.5" fill="#F48C6E"/>
<circle cx="169.9" cy="107.4" r="1.5" fill="#F48C6E"/>
<circle cx="172.0" cy="112.2" r="1.5" fill="#F48C6E"/>
<circle cx="176.2" cy="111.8" r="1.5" fill="#F48C6E"/>
<circle cx="188.8" cy="85.1" r="1.5" fill="#F9BBA4"/>
<circle cx="191.9" cy="91.1" r="1.5" fill="#F9BBA4"/>
<circle cx="148.5" cy="82.7" r="1.5" fill="#643A9A"/>
</g>
<path d="M215.7,211.3L216.8,210.7 M215.7,211.3L216.8,211.1 M148.7,168.1L147.5,168.8 M148.7,168.1L148.2,168.8 M163.5,212.2L162.2,211.1 M163.5,212.2L161.7,211.6 M160.4,170.6L160.4,169.6 M160.4,170.6L158.0,172.5 M104.4,175.8L102.8,176.7 M104.4,175.8L106.3,177.0 M213.6,212.0L216.5,215.5 M213.6,212.0L215.7,211.3 M162.6,187.6L164.3,185.7 M162.6,187.6L160.8,187.8 M213.7,198.5L215.5,201.2 M213.7,198.5L215.8,196.7 M196.2,228.2L195.5,228.4 M196.2,228.2L199.7,228.7 M153.0,208.4L150.3,205.6 M153.0,208.4L153.0,208.3 M184.1,183.0L181.6,183.6 M184.1,183.0L184.6,180.9 M209.8,207.7L211.9,207.7 M209.8,207.7L207.7,208.8 M88.2,202.8L85.5,202.7 M88.2,202.8L89.1,204.6 M166.5,151.7L169.2,149.9 M166.5,151.7L165.7,152.0 M152.5,234.8L150.1,232.3 M152.5,234.8L151.7,236.3 M154.1,163.7L154.8,160.2 M154.1,163.7L154.3,164.4 M93.0,181.7L90.2,181.5 M93.0,181.7L94.4,181.2 M184.1,239.7L188.5,241.0 M184.1,239.7L184.3,241.3 M115.5,160.5L115.2,157.8 M115.5,160.5L118.0,161.2 M118.6,152.0L116.0,150.4 M118.6,152.0L117.5,154.6 M94.4,214.0L92.3,217.1 M94.4,214.0L96.0,214.7 M212.1,189.1L213.0,185.1 M212.1,189.1L215.5,189.3 M111.1,194.3L109.1,195.3 M111.1,194.3L113.6,195.6 M101.7,158.5L98.9,155.6 M101.7,158.5L101.0,159.6 M187.1,192.1L190.0,190.1 M187.1,192.1L187.4,193.0 M106.4,168.6L106.0,166.2 M106.4,168.6L109.4,169.3 M193.0,233.4L193.2,234.0 M193.0,233.4L192.4,238.4 M97.8,168.5L98.3,169.6 M97.8,168.5L94.1,167.5 M157.3,232.0L157.2,234.0 M157.3,232.0L155.1,229.8 M125.3,142.8L124.9,139.6 M125.3,142.8L127.0,143.8 M88.7,169.9L84.9,168.5 M88.7,169.9L89.5,167.9 M179.4,231.2L178.3,231.0 M179.4,231.2L182.5,232.9 M135.3,148.6L136.4,146.2 M135.3,148.6L136.2,150.9 M155.5,147.0L154.3,148.5 M155.5,147.0L154.8,143.8 M165.6,223.2L163.6,220.0 M165.6,223.2L165.3,223.7 M173.7,185.0L177.6,182.7 M173.7,185.0L173.2,184.6 M190.7,164.8L192.4,161.4 M190.7,164.8L193.4,165.8 M96.5,199.9L92.8,199.9 M96.5,199.9L97.5,199.1 M195.1,183.6L193.4,184.1 M195.1,183.6L197.6,181.8 M179.8,174.6L181.6,173.6 M179.8,174.6L177.2,175.4 M81.5,198.8L79.2,196.9 M81.5,198.8L80.0,201.4 M130.5,152.4L129.3,150.1 M130.5,152.4L129.8,154.9 M170.5,189.0L172.7,188.6 M170.5,189.0L168.5,190.7 M169.7,140.4L167.8,138.8 M169.7,140.4L172.7,138.5 M205.0,230.5L209.2,231.9 M205.0,230.5L204.5,234.2 M118.2,209.2L114.7,210.7 M118.2,209.2L119.3,209.0 M177.7,206.7L175.9,207.2 M177.7,206.7L180.6,207.2 M170.8,244.4L169.9,242.4 M170.8,244.4L171.6,247.0 M122.0,150.2L119.9,148.6 M122.0,150.2L123.8,150.9 M191.2,223.4L189.5,220.5 M191.2,223.4L193.4,223.5 M122.2,233.7L123.8,232.3 M122.2,233.7L121.2,236.6 M184.3,159.4L183.4,156.7 M184.3,159.4L187.1,159.3 M101.9,151.5L102.8,148.8 M101.9,151.5L98.3,150.7 M98.6,180.1L98.3,177.3 M98.6,180.1L98.6,181.2 M206.0,223.9L205.0,222.4 M206.0,223.9L208.1,226.6 M162.9,245.3L163.6,243.4 M162.9,245.3L162.7,248.0 M192.4,198.2L195.3,198.8 M192.4,198.2L190.9,200.9 M175.2,146.7L177.2,143.9 M175.2,146.7L179.3,148.5 M111.9,229.4L113.0,229.2 M111.9,229.4L108.8,232.1 M138.6,156.6L138.9,154.9 M138.6,156.6L141.2,158.8 M145.7,158.1L145.4,153.9 M145.7,158.1L145.4,159.1 M113.9,203.3L109.4,203.7 M113.9,203.3L114.4,202.5 M85.9,216.0L82.5,217.1 M85.9,216.0L87.4,218.4 M111.7,161.1L111.5,158.5 M111.7,161.1L110.2,162.5 M149.8,188.6L147.3,190.4 M149.8,188.6L148.5,190.1 M187.5,184.3L187.9,182.3 M187.5,184.3L188.5,186.2 M135.1,177.0L133.6,174.3 M135.1,177.0L135.7,179.1 M178.8,238.6L180.1,238.2 M178.8,238.6L176.6,241.0 M181.7,213.7L181.8,212.3 M181.7,213.7L185.3,215.8 M209.9,206.7L211.1,203.0 M209.9,206.7L209.8,207.7 M169.6,233.1L170.3,231.5 M169.6,233.1L170.6,236.3 M177.3,161.3L173.5,160.9 M177.3,161.3L178.5,159.1 M93.4,185.4L90.2,185.7 M93.4,185.4L95.4,188.0 M171.2,177.5L172.2,177.0 M171.2,177.5L167.7,180.6 M178.7,217.3L177.2,217.6 M178.7,217.3L182.5,220.0 M107.8,221.0L105.7,222.4 M107.8,221.0L110.7,221.8 M121.8,222.5L120.1,224.2 M121.8,222.5L123.3,219.5 M163.5,156.2L162.7,155.1 M163.5,156.2L163.2,160.2 M206.2,190.2L207.4,186.9 M206.2,190.2L203.2,190.9 M142.7,173.8L142.7,170.9 M142.7,173.8L143.3,176.4 M137.3,224.9L136.8,228.4 M137.3,224.9L136.1,223.7 M129.1,232.2L128.3,230.8 M129.1,232.2L129.1,235.5 M106.5,212.6L107.5,211.1 M106.5,212.6L104.6,215.0 M103.9,210.4L104.4,208.1 M103.9,210.4L100.0,211.4 M129.5,174.9L129.1,175.2 M129.5,174.9L130.1,179.9 M88.7,173.5L84.2,173.3 M88.7,173.5L90.2,174.1 M144.1,236.8L143.8,234.7 M144.1,236.8L143.8,240.8 M121.9,193.1L120.7,193.0 M121.9,193.1L124.6,195.3 M194.2,184.9L200.6,185.1 M194.2,184.9L195.1,183.6 M133.3,148.7L132.2,145.5 M133.3,148.7L135.3,148.6 M145.4,180.8L144.8,186.5 M145.4,180.8L145.9,180.4 M207.2,218.9L205.3,216.8 M207.2,218.9L211.6,217.1 M140.3,235.4L139.6,234.0 M140.3,235.4L139.1,240.3 M154.9,239.2L152.4,241.0 M154.9,239.2L156.6,240.7 M157.3,148.6L159.4,143.8 M157.3,148.6L155.5,147.0 M123.9,145.1L120.4,141.2 M123.9,145.1L125.3,142.8 M171.0,243.9L176.2,246.6 M171.0,243.9L170.8,244.4 M182.4,162.3L183.2,163.5 M182.4,162.3L184.3,159.4 M115.9,167.1L114.9,167.2 M115.9,167.1L119.9,168.6 M209.8,197.6L210.5,194.9 M209.8,197.6L213.7,198.5 M168.6,144.0L166.9,144.1 M168.6,144.0L169.7,140.4 M168.0,226.0L169.5,225.8 M168.0,226.0L165.6,223.2 M147.1,222.9L146.2,222.6 M147.1,222.9L149.1,226.6 M150.4,156.4L149.3,153.0 M150.4,156.4L150.6,159.1 M100.9,168.3L101.2,166.2 M100.9,168.3L97.8,168.5 M184.0,193.1L182.2,193.0 M184.0,193.1L187.1,192.1 M118.3,187.9L115.4,188.3 M118.3,187.9L120.7,188.6 M139.4,208.9L140.1,204.4 M139.4,208.9L139.6,208.3 M155.0,182.8L157.7,180.6 M155.0,182.8L153.8,182.5 M91.7,173.2L88.7,169.9 M91.7,173.2L88.7,173.5 M186.3,167.2L188.5,168.5 M186.3,167.2L190.7,164.8 M201.2,207.1L199.7,202.8 M201.2,207.1L203.2,208.3 M162.4,244.4L158.3,247.3 M162.4,244.4L162.9,245.3 M161.5,234.2L160.6,232.1 M161.5,234.2L164.3,238.2 M149.2,220.1L151.2,218.2 M149.2,220.1L150.3,221.8 M168.0,231.4L165.3,232.1 M168.0,231.4L169.6,233.1 M186.2,184.4L184.1,183.0 M186.2,184.4L187.5,184.3 M144.6,234.9L147.3,235.8 M144.6,234.9L144.1,236.8 M141.5,222.4L140.3,223.9 M141.5,222.4L142.2,218.9 M104.5,155.1L106.3,153.5 M104.5,155.1L101.9,151.5 M132.0,231.6L132.8,229.1 M132.0,231.6L133.3,235.5 M140.7,171.2L140.3,166.4 M140.7,171.2L139.6,173.3 M155.7,211.3L156.4,211.9 M155.7,211.3L153.0,208.4 M85.3,198.0L84.2,194.1 M85.3,198.0L81.5,198.8 M180.5,174.8L184.6,176.7 M180.5,174.8L179.8,174.6 M113.9,227.0L115.9,225.0 M113.9,227.0L111.9,229.4 M99.1,200.7L102.8,199.6 M99.1,200.7L96.5,199.9 M94.5,182.4L93.0,181.7 M94.5,182.4L93.4,185.4 M151.4,157.0L154.8,153.5 M151.4,157.0L150.4,156.4 M87.7,212.6L82.3,211.4 M87.7,212.6L85.9,216.0 M122.2,151.1L118.6,152.0 M122.2,151.1L122.0,150.2 M121.7,232.1L117.2,234.7 M121.7,232.1L122.2,233.7 M191.0,195.0L195.8,194.1 M191.0,195.0L192.4,198.2 M153.2,166.4L155.1,168.8 M153.2,166.4L154.1,163.7 M146.3,161.2L144.3,164.3 M146.3,161.2L145.7,158.1 M135.7,156.1L135.1,156.5 M135.7,156.1L138.6,156.6 M98.0,202.5L98.1,204.1 M98.0,202.5L99.1,200.7 M103.9,191.8L104.2,191.1 M103.9,191.8L96.8,192.2 M177.3,229.6L176.6,225.6 M177.3,229.6L179.4,231.2 M162.8,169.8L164.6,165.6 M162.8,169.8L160.4,170.6 M99.0,181.8L101.4,185.1 M99.0,181.8L98.6,180.1 M178.1,213.0L176.2,211.1 M178.1,213.0L181.7,213.7 M166.0,171.2L169.9,167.0 M166.0,171.2L164.8,173.3 M113.4,162.4L115.5,160.5 M113.4,162.4L111.7,161.1 M138.9,222.6L138.5,218.7 M138.9,222.6L137.3,224.9 M204.8,222.7L206.0,223.9 M204.8,222.7L207.2,218.9 M126.8,225.1L125.4,227.3 M126.8,225.1L129.4,220.0 M129.0,187.8L128.6,187.8 M129.0,187.8L133.3,190.1 M155.8,235.8L152.5,234.8 M155.8,235.8L154.9,239.2 M164.5,153.3L166.5,151.7 M164.5,153.3L163.5,156.2 M107.3,211.6L106.5,212.6 M107.3,211.6L103.9,210.4 M176.7,205.7L180.4,202.8 M176.7,205.7L177.7,206.7 M129.9,230.2L129.1,232.2 M129.9,230.2L132.0,231.6 M105.3,160.3L101.7,158.5 M105.3,160.3L104.5,155.1 M190.8,226.2L187.7,227.7 M190.8,226.2L191.2,223.4 M106.9,218.7L102.5,219.7 M106.9,218.7L107.8,221.0 M142.1,224.3L143.8,226.3 M142.1,224.3L141.5,222.4 M166.5,213.9L169.5,213.7 M166.5,213.9L163.5,212.2 M179.6,236.7L184.1,239.7 M179.6,236.7L178.8,238.6 M208.7,209.3L213.6,212.0 M208.7,209.3L209.9,206.7 M126.1,210.3L126.7,210.0 M126.1,210.3L123.8,215.3 M113.8,226.7L105.6,229.1 M113.8,226.7L113.9,227.0 M135.9,177.6L138.0,185.1 M135.9,177.6L135.1,177.0 M162.8,189.4L158.7,191.4 M162.8,189.4L162.6,187.6 M145.0,215.6L143.8,215.3 M145.0,215.6L145.2,211.9 M142.1,174.0L142.7,173.8 M142.1,174.0L140.7,171.2 M207.9,192.9L212.1,189.1 M207.9,192.9L206.2,190.2 M193.5,227.4L196.2,228.2 M193.5,227.4L190.8,226.2 M164.4,195.8L167.8,195.1 M164.4,195.8L158.7,197.2 M159.5,232.2L157.3,232.0 M159.5,232.2L161.5,234.2 M132.4,152.1L130.5,152.4 M132.4,152.1L133.3,148.7 M110.3,215.4L112.6,215.8 M110.3,215.4L106.9,218.7 M177.1,173.1L177.2,169.8 M177.1,173.1L180.5,174.8 M179.8,164.0L177.3,161.3 M179.8,164.0L182.4,162.3 M166.5,215.8L169.0,218.4 M166.5,215.8L166.5,213.9 M97.0,180.1L94.5,182.4 M97.0,180.1L99.0,181.8 M90.1,201.2L88.2,202.8 M90.1,201.2L85.3,198.0 M121.4,202.6L124.9,200.4 M121.4,202.6L121.4,203.7 M182.8,194.2L179.5,197.0 M182.8,194.2L184.0,193.1 M113.0,165.6L115.9,167.1 M113.0,165.6L113.4,162.4 M170.4,187.8L173.7,185.0 M170.4,187.8L170.5,189.0 M176.3,214.3L178.7,217.3 M176.3,214.3L178.1,213.0 M118.7,186.9L115.4,182.7 M118.7,186.9L118.3,187.9 M142.3,232.0L140.3,235.4 M142.3,232.0L144.6,234.9 M125.0,185.4L125.9,181.7 M125.0,185.4L129.0,187.8 M120.7,207.9L127.0,206.2 M120.7,207.9L118.2,209.2 M94.8,210.3L94.4,214.0 M94.8,210.3L87.7,212.6 M200.6,210.2L198.2,214.4 M200.6,210.2L201.2,207.1 M142.9,177.0L141.0,181.5 M142.9,177.0L142.1,174.0 M205.3,199.5L209.8,197.6 M205.3,199.5L207.9,192.9 M159.7,230.6L159.6,226.0 M159.7,230.6L159.5,232.2 M103.8,170.2L106.4,168.6 M103.8,170.2L100.9,168.3 M166.8,195.2L168.0,199.3 M166.8,195.2L164.4,195.8 M149.0,161.3L151.4,157.0 M149.0,161.3L146.3,161.2 M169.1,147.6L175.2,146.7 M169.1,147.6L168.6,144.0 M133.4,155.2L135.7,156.1 M133.4,155.2L132.4,152.1 M163.4,173.3L162.8,169.8 M163.4,173.3L166.0,171.2 M201.2,225.3L205.0,230.5 M201.2,225.3L204.8,222.7 M138.5,214.1L135.4,216.1 M138.5,214.1L139.4,208.9 M193.4,227.9L193.0,233.4 M193.4,227.9L193.5,227.4 M117.9,203.7L113.9,203.3 M117.9,203.7L121.4,202.6 M187.0,186.0L194.2,184.9 M187.0,186.0L186.2,184.4 M110.7,192.0L111.1,194.3 M110.7,192.0L103.9,191.8 M173.7,174.8L171.2,177.5 M173.7,174.8L177.1,173.1 M126.1,151.2L123.9,145.1 M126.1,151.2L122.2,151.1 M146.1,219.6L147.1,222.9 M146.1,219.6L145.0,215.6 M172.0,207.6L167.1,204.6 M172.0,207.6L176.7,205.7 M153.5,185.4L149.8,188.6 M153.5,185.4L155.0,182.8 M175.9,231.9L177.3,229.6 M175.9,231.9L179.6,236.7 M169.0,228.9L168.0,226.0 M169.0,228.9L168.0,231.4 M184.7,192.6L191.0,195.0 M184.7,192.6L182.8,194.2 M104.1,173.8L104.4,175.8 M104.1,173.8L103.8,170.2 M150.4,166.7L148.7,168.1 M150.4,166.7L153.2,166.4 M122.5,189.9L128.3,192.0 M122.5,189.9L118.7,186.9 M125.8,228.1L121.7,232.1 M125.8,228.1L126.8,225.1 M129.2,169.7L124.6,165.6 M129.2,169.7L129.5,174.9 M166.0,240.8L171.0,243.9 M166.0,240.8L162.4,244.4 M122.0,223.9L121.8,222.5 M122.0,223.9L113.8,226.7 M179.6,168.3L186.3,167.2 M179.6,168.3L179.8,164.0 M141.1,224.2L138.9,222.6 M141.1,224.2L142.1,224.3 M202.5,209.1L208.7,209.3 M202.5,209.1L200.6,210.2 M134.8,170.7L134.7,165.8 M134.8,170.7L135.9,177.6 M149.2,165.5L149.0,161.3 M149.2,165.5L150.4,166.7 M146.1,220.3L149.2,220.1 M146.1,220.3L146.1,219.6 M96.9,202.6L98.0,202.5 M96.9,202.6L90.1,201.2 M163.5,152.0L164.5,153.3 M163.5,152.0L169.1,147.6 M127.7,205.6L136.4,203.0 M127.7,205.6L126.1,210.3 M167.0,189.2L162.8,189.4 M167.0,189.2L170.4,187.8 M160.1,233.4L155.8,235.8 M160.1,233.4L159.7,230.6 M128.7,226.9L129.9,230.2 M128.7,226.9L125.8,228.1 M97.6,176.2L91.7,173.2 M97.6,176.2L97.0,180.1 M111.5,211.8L107.3,211.6 M111.5,211.8L110.3,215.4 M157.8,213.7L153.5,214.7 M157.8,213.7L155.7,211.3 M120.5,191.0L121.9,193.1 M120.5,191.0L122.5,189.9 M172.1,212.5L176.3,214.3 M172.1,212.5L172.0,207.6 M155.8,184.8L152.4,190.1 M155.8,184.8L153.5,185.4 M193.8,222.8L201.2,225.3 M193.8,222.8L193.4,227.9 M109.7,167.2L105.3,160.3 M109.7,167.2L113.0,165.6 M156.9,155.1L157.3,148.6 M156.9,155.1L163.5,152.0 M142.1,225.8L142.3,232.0 M142.1,225.8L141.1,224.2 M180.5,188.6L187.0,186.0 M180.5,188.6L184.7,192.6 M170.9,229.5L175.9,231.9 M170.9,229.5L169.0,228.9 M133.6,168.6L129.2,169.7 M133.6,168.6L134.8,170.7 M198.2,207.9L205.3,199.5 M198.2,207.9L202.5,209.1 M116.9,208.3L120.7,207.9 M116.9,208.3L111.5,211.8 M164.6,233.9L166.0,240.8 M164.6,233.9L160.1,233.4 M145.5,175.5L145.4,180.8 M145.5,175.5L142.9,177.0 M132.1,157.3L133.4,155.2 M132.1,157.3L126.1,151.2 M172.8,173.8L173.7,174.8 M172.8,173.8L179.6,168.3 M104.1,175.2L104.1,173.8 M104.1,175.2L97.6,176.2 M164.1,215.0L166.5,215.8 M164.1,215.0L157.8,213.7 M102.4,204.3L94.8,210.3 M102.4,204.3L96.9,202.6 M161.4,178.8L163.4,173.3 M161.4,178.8L155.8,184.8 M148.3,168.6L149.2,165.5 M148.3,168.6L145.5,175.5 M117.1,189.9L110.7,192.0 M117.1,189.9L120.5,191.0 M118.5,205.2L117.9,203.7 M118.5,205.2L116.9,208.3 M130.3,222.5L122.0,223.9 M130.3,222.5L128.7,226.9 M142.9,221.1L146.1,220.3 M142.9,221.1L142.1,225.8 M167.8,190.5L166.8,195.2 M167.8,190.5L167.0,189.2 M167.9,227.6L170.9,229.5 M167.9,227.6L164.6,233.9 M169.7,187.1L180.5,188.6 M169.7,187.1L167.8,190.5 M120.6,203.6L127.7,205.6 M120.6,203.6L118.5,205.2 M186.8,215.2L193.8,222.8 M186.8,215.2L198.2,207.9 M110.7,175.7L109.7,167.2 M110.7,175.7L104.1,175.2 M136.9,165.5L133.6,168.6 M136.9,165.5L132.1,157.3 M168.1,215.6L172.1,212.5 M168.1,215.6L164.1,215.0 M140.6,217.3L138.5,214.1 M140.6,217.3L142.9,221.1 M165.0,178.3L172.8,173.8 M165.0,178.3L161.4,178.8 M150.1,164.7L156.9,155.1 M150.1,164.7L148.3,168.6 M115.7,199.9L102.4,204.3 M115.7,199.9L120.6,203.6 M120.1,186.7L125.0,185.4 M120.1,186.7L117.1,189.9 M118.3,184.7L110.7,175.7 M118.3,184.7L120.1,186.7 M160.9,182.2L169.7,187.1 M160.9,182.2L165.0,178.3 M168.1,219.3L167.9,227.6 M168.1,219.3L168.1,215.6 M145.0,170.4L136.9,165.5 M145.0,170.4L150.1,164.7 M140.4,216.6L130.3,222.5 M140.4,216.6L140.6,217.3 M168.4,214.9L186.8,215.2 M168.4,214.9L168.1,219.3 M124.0,191.8L115.7,199.9 M124.0,191.8L118.3,184.7 M148.0,181.1L160.9,182.2 M148.0,181.1L145.0,170.4 M150.3,210.2L140.4,216.6 M150.3,210.2L168.4,214.9 M138.0,190.6L124.0,191.8 M138.0,190.6L148.0,181.1 M142.0,199.0L150.3,210.2 M142.0,199.0L138.0,190.6" stroke="#5a5a5a" stroke-width="0.5" fill="none"/>
<g stroke="#808080" stroke-width="0.4">
<circle cx="102.8" cy="148.8" r="1.5" fill="#35A8E0"/>
<circle cx="98.3" cy="150.7" r="1.5" fill="#35A8E0"/>
<circle cx="106.3" cy="153.5" r="1.5" fill="#35A8E0"/>
<circle cx="98.9" cy="155.6" r="1.5" fill="#35A8E0"/>
<circle cx="101.0" cy="159.6" r="1.5" fill="#35A8E0"/>
<circle cx="116.0" cy="150.4" r="1.5" fill="#35A8E0"/>
<circle cx="119.9" cy="148.6" r="1.5" fill="#35A8E0"/>
<circle cx="117.5" cy="154.6" r="1.5" fill="#35A8E0"/>
<circle cx="115.2" cy="157.8" r="1.5" fill="#35A8E0"/>
<circle cx="111.5" cy="158.5" r="1.5" fill="#35A8E0"/>
<circle cx="118.0" cy="161.2" r="1.5" fill="#35A8E0"/>
<circle cx="110.2" cy="162.5" r="1.5" fill="#35A8E0"/>
<circle cx="101.2" cy="166.2" r="1.5" fill="#35A8E0"/>
<circle cx="106.0" cy="166.2" r="1.5" fill="#35A8E0"/>
<circle cx="114.9" cy="167.2" r="1.5" fill="#35A8E0"/>
<circle cx="119.9" cy="168.6" r="1.5" fill="#35A8E0"/>
<circle cx="109.4" cy="169.3" r="1.5" fill="#35A8E0"/>
<circle cx="98.3" cy="169.6" r="1.5" fill="#35A8E0"/>
<circle cx="84.9" cy="168.5" r="1.5" fill="#35A8E0"/>
<circle cx="89.5" cy="167.9" r="1.5" fill="#35A8E0"/>
<circle cx="94.1" cy="167.5" r="1.5" fill="#35A8E0"/>
<circle cx="145.4" cy="153.9" r="1.5" fill="#35A8E0"/>
<circle cx="145.4" cy="159.1" r="1.5" fill="#35A8E0"/>
<circle cx="147.5" cy="168.8" r="1.5" fill="#35A8E0"/>
<circle cx="120.4" cy="141.2" r="1.5" fill="#F7A35E"/>
<circle cx="124.9" cy="139.6" r="1.5" fill="#F7A35E"/>
<circle cx="127.0" cy="143.8" r="1.5" fill="#F7A35E"/>
<circle cx="132.2" cy="145.5" r="1.5" fill="#F7A35E"/>
<circle cx="136.4" cy="146.2" r="1.5" fill="#F7A35E"/>
<circle cx="123.8" cy="150.9" r="1.5" fill="#F7A35E"/>
<circle cx="129.3" cy="150.1" r="1.5" fill="#F7A35E"/>
<circle cx="136.2" cy="150.9" r="1.5" fill="#F7A35E"/>
<circle cx="129.8" cy="154.9" r="1.5" fill="#F7A35E"/>
<circle cx="135.1" cy="156.5" r="1.5" fill="#F7A35E"/>
<circle cx="138.9" cy="154.9" r="1.5" fill="#F7A35E"/>
<circle cx="141.2" cy="158.8" r="1.5" fill="#F7A35E"/>
<circle cx="124.6" cy="165.6" r="1.5" fill="#F7A35E"/>
<circle cx="134.7" cy="165.8" r="1.5" fill="#F7A35E"/>
<circle cx="140.3" cy="166.4" r="1.5" fill="#F7A35E"/>
<circle cx="144.3" cy="164.3" r="1.5" fill="#F7A35E"/>
<circle cx="142.7" cy="170.9" r="1.5" fill="#F7A35E"/>
<circle cx="167.8" cy="138.8" r="1.5" fill="#35A8E0"/>
<circle cx="172.7" cy="138.5" r="1.5" fill="#35A8E0"/>
<circle cx="166.9" cy="144.1" r="1.5" fill="#35A8E0"/>
<circle cx="177.2" cy="143.9" r="1.5" fill="#35A8E0"/>
<circle cx="154.3" cy="148.5" r="1.5" fill="#35A8E0"/>
<circle cx="169.2" cy="149.9" r="1.5" fill="#35A8E0"/>
<circle cx="165.7" cy="152.0" r="1.5" fill="#35A8E0"/>
<circle cx="149.3" cy="153.0" r="1.5" fill="#35A8E0"/>
<circle cx="183.4" cy="156.7" r="1.5" fill="#35A8E0"/>
<circle cx="187.1" cy="159.3" r="1.5" fill="#35A8E0"/>
<circle cx="150.6" cy="159.1" r="1.5" fill="#35A8E0"/>
<circle cx="154.8" cy="160.2" r="1.5" fill="#35A8E0"/>
<circle cx="154.3" cy="164.4" r="1.5" fill="#35A8E0"/>
<circle cx="192.4" cy="161.4" r="1.5" fill="#35A8E0"/>
<circle cx="193.4" cy="165.8" r="1.5" fill="#35A8E0"/>
<circle cx="188.5" cy="168.5" r="1.5" fill="#35A8E0"/>
<circle cx="154.8" cy="143.8" r="1.5" fill="#F7A35E"/>
<circle cx="159.4" cy="143.8" r="1.5" fill="#F7A35E"/>
<circle cx="179.3" cy="148.5" r="1.5" fill="#F7A35E"/>
<circle cx="154.8" cy="153.5" r="1.5" fill="#F7A35E"/>
<circle cx="162.7" cy="155.1" r="1.5" fill="#F7A35E"/>
<circle cx="163.2" cy="160.2" r="1.5" fill="#F7A35E"/>
<circle cx="160.4" cy="169.6" r="1.5" fill="#F7A35E"/>
<circle cx="148.2" cy="168.8" r="1.5" fill="#F7A35E"/>
<circle cx="173.5" cy="160.9" r="1.5" fill="#FEF0EA"/>
<circle cx="178.5" cy="159.1" r="1.5" fill="#FEF0EA"/>
<circle cx="164.6" cy="165.6" r="1.5" fill="#FEF0EA"/>
<circle cx="169.9" cy="167.0" r="1.5" fill="#FEF0EA"/>
<circle cx="183.2" cy="163.5" r="1.5" fill="#FEF0EA"/>
<circle cx="155.1" cy="168.8" r="1.5" fill="#FEF0EA"/>
<circle cx="177.2" cy="169.8" r="1.5" fill="#DDDDDD"/>
<circle cx="84.2" cy="173.3" r="1.5" fill="#35A8E0"/>
<circle cx="90.2" cy="174.1" r="1.5" fill="#35A8E0"/>
<circle cx="98.3" cy="177.3" r="1.5" fill="#35A8E0"/>
<circle cx="102.8" cy="176.7" r="1.5" fill="#35A8E0"/>
<circle cx="106.3" cy="177.0" r="1.5" fill="#35A8E0"/>
<circle cx="90.2" cy="181.5" r="1.5" fill="#35A8E0"/>
<circle cx="94.4" cy="181.2" r="1.5" fill="#35A8E0"/>
<circle cx="98.6" cy="181.2" r="1.5" fill="#35A8E0"/>
<circle cx="90.2" cy="185.7" r="1.5" fill="#35A8E0"/>
<circle cx="101.4" cy="185.1" r="1.5" fill="#35A8E0"/>
<circle cx="95.4" cy="188.0" r="1.5" fill="#35A8E0"/>
<circle cx="104.2" cy="191.1" r="1.5" fill="#35A8E0"/>
<circle cx="96.8" cy="192.2" r="1.5" fill="#35A8E0"/>
<circle cx="129.1" cy="175.2" r="1.5" fill="#35A8E0"/>
<circle cx="133.6" cy="174.3" r="1.5" fill="#35A8E0"/>
<circle cx="130.1" cy="179.9" r="1.5" fill="#35A8E0"/>
<circle cx="125.9" cy="181.7" r="1.5" fill="#35A8E0"/>
<circle cx="115.4" cy="182.7" r="1.5" fill="#35A8E0"/>
<circle cx="141.0" cy="181.5" r="1.5" fill="#35A8E0"/>
<circle cx="138.0" cy="185.1" r="1.5" fill="#35A8E0"/>
<circle cx="144.8" cy="186.5" r="1.5" fill="#35A8E0"/>
<circle cx="115.4" cy="188.3" r="1.5" fill="#35A8E0"/>
<circle cx="120.7" cy="188.6" r="1.5" fill="#35A8E0"/>
<circle cx="128.6" cy="187.8" r="1.5" fill="#35A8E0"/>
<circle cx="133.3" cy="190.1" r="1.5" fill="#35A8E0"/>
<circle cx="120.7" cy="193.0" r="1.5" fill="#35A8E0"/>
<circle cx="128.3" cy="192.0" r="1.5" fill="#35A8E0"/>
<circle cx="124.6" cy="195.3" r="1.5" fill="#35A8E0"/>
<circle cx="140.1" cy="204.4" r="1.5" fill="#35A8E0"/>
<circle cx="139.6" cy="208.3" r="1.5" fill="#35A8E0"/>
<circle cx="139.6" cy="173.3" r="1.5" fill="#F7A35E"/>
<circle cx="143.3" cy="176.4" r="1.5" fill="#F7A35E"/>
<circle cx="135.7" cy="179.1" r="1.5" fill="#F7A35E"/>
<circle cx="145.9" cy="180.4" r="1.5" fill="#F7A35E"/>
<circle cx="84.2" cy="194.1" r="1.5" fill="#F7A35E"/>
<circle cx="79.2" cy="196.9" r="1.5" fill="#F7A35E"/>
<circle cx="80.0" cy="201.4" r="1.5" fill="#F7A35E"/>
<circle cx="85.5" cy="202.7" r="1.5" fill="#F7A35E"/>
<circle cx="89.1" cy="204.6" r="1.5" fill="#F7A35E"/>
<circle cx="92.8" cy="199.9" r="1.5" fill="#F7A35E"/>
<circle cx="97.5" cy="199.1" r="1.5" fill="#F7A35E"/>
<circle cx="102.8" cy="199.6" r="1.5" fill="#F7A35E"/>
<circle cx="98.1" cy="204.1" r="1.5" fill="#F7A35E"/>
<circle cx="109.4" cy="203.7" r="1.5" fill="#F7A35E"/>
<circle cx="104.4" cy="208.1" r="1.5" fill="#F7A35E"/>
<circle cx="136.4" cy="203.0" r="1.5" fill="#F7A35E"/>
<circle cx="82.3" cy="211.4" r="1.5" fill="#F7A35E"/>
<circle cx="100.0" cy="211.4" r="1.5" fill="#F7A35E"/>
<circle cx="107.5" cy="211.1" r="1.5" fill="#F7A35E"/>
<circle cx="114.7" cy="210.7" r="1.5" fill="#F7A35E"/>
<circle cx="109.1" cy="195.3" r="1.5" fill="#FEF0EA"/>
<circle cx="113.6" cy="195.6" r="1.5" fill="#FEF0EA"/>
<circle cx="124.9" cy="200.4" r="1.5" fill="#FEF0EA"/>
<circle cx="114.4" cy="202.5" r="1.5" fill="#FEF0EA"/>
<circle cx="121.4" cy="203.7" r="1.5" fill="#FEF0EA"/>
<circle cx="126.7" cy="210.0" r="1.5" fill="#FEF0EA"/>
<circle cx="147.3" cy="190.4" r="1.5" fill="#FEF0EA"/>
<circle cx="127.0" cy="206.2" r="1.5" fill="#FDDB8D"/>
<circle cx="119.3" cy="209.0" r="1.5" fill="#FDDB8D"/>
<circle cx="181.6" cy="173.6" r="1.5" fill="#35A8E0"/>
<circle cx="177.2" cy="175.4" r="1.5" fill="#35A8E0"/>
<circle cx="172.2" cy="177.0" r="1.5" fill="#35A8E0"/>
<circle cx="184.6" cy="176.7" r="1.5" fill="#35A8E0"/>
<circle cx="157.7" cy="180.6" r="1.5" fill="#35A8E0"/>
<circle cx="153.8" cy="182.5" r="1.5" fill="#35A8E0"/>
<circle cx="177.6" cy="182.7" r="1.5" fill="#35A8E0"/>
<circle cx="181.6" cy="183.6" r="1.5" fill="#35A8E0"/>
<circle cx="184.6" cy="180.9" r="1.5" fill="#35A8E0"/>
<circle cx="187.9" cy="182.3" r="1.5" fill="#35A8E0"/>
<circle cx="164.3" cy="185.7" r="1.5" fill="#35A8E0"/>
<circle cx="160.8" cy="187.8" r="1.5" fill="#35A8E0"/>
<circle cx="172.7" cy="188.6" r="1.5" fill="#35A8E0"/>
<circle cx="193.4" cy="184.1" r="1.5" fill="#35A8E0"/>
<circle cx="197.6" cy="181.8" r="1.5" fill="#35A8E0"/>
<circle cx="200.6" cy="185.1" r="1.5" fill="#35A8E0"/>
<circle cx="207.4" cy="186.9" r="1.5" fill="#35A8E0"/>
<circle cx="213.0" cy="185.1" r="1.5" fill="#35A8E0"/>
<circle cx="215.5" cy="189.3" r="1.5" fill="#35A8E0"/>
<circle cx="190.0" cy="190.1" r="1.5" fill="#35A8E0"/>
<circle cx="168.5" cy="190.7" r="1.5" fill="#35A8E0"/>
<circle cx="158.7" cy="191.4" r="1.5" fill="#35A8E0"/>
<circle cx="167.8" cy="195.1" r="1.5" fill="#35A8E0"/>
<circle cx="195.8" cy="194.1" r="1.5" fill="#35A8E0"/>
<circle cx="210.5" cy="194.9" r="1.5" fill="#35A8E0"/>
<circle cx="158.7" cy="197.2" r="1.5" fill="#35A8E0"/>
<circle cx="168.0" cy="199.3" r="1.5" fill="#35A8E0"/>
<circle cx="195.3" cy="198.8" r="1.5" fill="#35A8E0"/>
<circle cx="215.5" cy="201.2" r="1.5" fill="#35A8E0"/>
<circle cx="180.4" cy="202.8" r="1.5" fill="#35A8E0"/>
<circle cx="199.7" cy="202.8" r="1.5" fill="#35A8E0"/>
<circle cx="211.1" cy="203.0" r="1.5" fill="#35A8E0"/>
<circle cx="167.1" cy="204.6" r="1.5" fill="#35A8E0"/>
<circle cx="150.3" cy="205.6" r="1.5" fill="#35A8E0"/>
<circle cx="153.0" cy="208.3" r="1.5" fill="#35A8E0"/>
<circle cx="175.9" cy="207.2" r="1.5" fill="#35A8E0"/>
<circle cx="180.6" cy="207.2" r="1.5" fill="#35A8E0"/>
<circle cx="203.2" cy="208.3" r="1.5" fill="#35A8E0"/>
<circle cx="211.9" cy="207.7" r="1.5" fill="#35A8E0"/>
<circle cx="216.8" cy="210.7" r="1.5" fill="#35A8E0"/>
<circle cx="176.2" cy="211.1" r="1.5" fill="#35A8E0"/>
<circle cx="173.2" cy="184.6" r="1.5" fill="#F7A35E"/>
<circle cx="188.5" cy="186.2" r="1.5" fill="#F7A35E"/>
<circle cx="203.2" cy="190.9" r="1.5" fill="#F7A35E"/>
<circle cx="182.2" cy="193.0" r="1.5" fill="#F7A35E"/>
<circle cx="187.4" cy="193.0" r="1.5" fill="#F7A35E"/>
<circle cx="179.5" cy="197.0" r="1.5" fill="#F7A35E"/>
<circle cx="215.8" cy="196.7" r="1.5" fill="#F7A35E"/>
<circle cx="190.9" cy="200.9" r="1.5" fill="#F7A35E"/>
<circle cx="207.7" cy="208.8" r="1.5" fill="#F7A35E"/>
<circle cx="167.7" cy="180.6" r="1.5" fill="#D3E49C"/>
<circle cx="164.8" cy="173.3" r="1.5" fill="#FEF0EA"/>
<circle cx="158.0" cy="172.5" r="1.5" fill="#FEF0EA"/>
<circle cx="152.4" cy="190.1" r="1.5" fill="#FEF0EA"/>
<circle cx="148.5" cy="190.1" r="1.5" fill="#FEF0EA"/>
<circle cx="162.2" cy="211.1" r="1.5" fill="#FEF0EA"/>
<circle cx="82.5" cy="217.1" r="1.5" fill="#F7A35E"/>
<circle cx="87.4" cy="218.4" r="1.5" fill="#F7A35E"/>
<circle cx="92.3" cy="217.1" r="1.5" fill="#F7A35E"/>
<circle cx="96.0" cy="214.7" r="1.5" fill="#F7A35E"/>
<circle cx="104.6" cy="215.0" r="1.5" fill="#F7A35E"/>
<circle cx="112.6" cy="215.8" r="1.5" fill="#F7A35E"/>
<circle cx="102.5" cy="219.7" r="1.5" fill="#F7A35E"/>
<circle cx="105.7" cy="222.4" r="1.5" fill="#F7A35E"/>
<circle cx="140.3" cy="223.9" r="1.5" fill="#F7A35E"/>
<circle cx="143.8" cy="226.3" r="1.5" fill="#F7A35E"/>
<circle cx="110.7" cy="221.8" r="1.5" fill="#FDDB8D"/>
<circle cx="115.9" cy="225.0" r="1.5" fill="#FDDB8D"/>
<circle cx="120.1" cy="224.2" r="1.5" fill="#FDDB8D"/>
<circle cx="113.0" cy="229.2" r="1.5" fill="#FDDB8D"/>
<circle cx="108.8" cy="232.1" r="1.5" fill="#FDDB8D"/>
<circle cx="125.4" cy="227.3" r="1.5" fill="#FDDB8D"/>
<circle cx="128.3" cy="230.8" r="1.5" fill="#FDDB8D"/>
<circle cx="132.8" cy="229.1" r="1.5" fill="#FDDB8D"/>
<circle cx="136.8" cy="228.4" r="1.5" fill="#FDDB8D"/>
<circle cx="123.8" cy="232.3" r="1.5" fill="#FDDB8D"/>
<circle cx="129.1" cy="235.5" r="1.5" fill="#FDDB8D"/>
<circle cx="133.3" cy="235.5" r="1.5" fill="#FDDB8D"/>
<circle cx="135.4" cy="216.1" r="1.5" fill="#FDDB8D"/>
<circle cx="136.1" cy="223.7" r="1.5" fill="#FDDB8D"/>
<circle cx="143.8" cy="215.3" r="1.5" fill="#FDDB8D"/>
<circle cx="146.2" cy="222.6" r="1.5" fill="#FDDB8D"/>
<circle cx="123.8" cy="215.3" r="1.5" fill="#D3E49C"/>
<circle cx="105.6" cy="229.1" r="1.5" fill="#D3E49C"/>
<circle cx="117.2" cy="234.7" r="1.5" fill="#D3E49C"/>
<circle cx="121.2" cy="236.6" r="1.5" fill="#D3E49C"/>
<circle cx="129.4" cy="220.0" r="1.5" fill="#FEF0EA"/>
<circle cx="123.3" cy="219.5" r="1.5" fill="#DDDDDD"/>
<circle cx="138.5" cy="218.7" r="1.5" fill="#35A8E0"/>
<circle cx="142.2" cy="218.9" r="1.5" fill="#35A8E0"/>
<circle cx="145.2" cy="211.9" r="1.5" fill="#35A8E0"/>
<circle cx="139.6" cy="234.0" r="1.5" fill="#35A8E0"/>
<circle cx="143.8" cy="234.7" r="1.5" fill="#35A8E0"/>
<circle cx="147.3" cy="235.8" r="1.5" fill="#35A8E0"/>
<circle cx="139.1" cy="240.3" r="1.5" fill="#35A8E0"/>
<circle cx="143.8" cy="240.8" r="1.5" fill="#35A8E0"/>
<circle cx="181.8" cy="212.3" r="1.5" fill="#35A8E0"/>
<circle cx="153.5" cy="214.7" r="1.5" fill="#35A8E0"/>
<circle cx="185.3" cy="215.8" r="1.5" fill="#35A8E0"/>
<circle cx="151.2" cy="218.2" r="1.5" fill="#35A8E0"/>
<circle cx="177.2" cy="217.6" r="1.5" fill="#35A8E0"/>
<circle cx="182.5" cy="220.0" r="1.5" fill="#35A8E0"/>
<circle cx="163.6" cy="220.0" r="1.5" fill="#35A8E0"/>
<circle cx="165.3" cy="223.7" r="1.5" fill="#35A8E0"/>
<circle cx="159.6" cy="226.0" r="1.5" fill="#35A8E0"/>
<circle cx="149.1" cy="226.6" r="1.5" fill="#35A8E0"/>
<circle cx="176.6" cy="225.6" r="1.5" fill="#35A8E0"/>
<circle cx="187.7" cy="227.7" r="1.5" fill="#35A8E0"/>
<circle cx="178.3" cy="231.0" r="1.5" fill="#35A8E0"/>
<circle cx="170.3" cy="231.5" r="1.5" fill="#35A8E0"/>
<circle cx="150.1" cy="232.3" r="1.5" fill="#35A8E0"/>
<circle cx="160.6" cy="232.1" r="1.5" fill="#35A8E0"/>
<circle cx="165.3" cy="232.1" r="1.5" fill="#35A8E0"/>
<circle cx="157.2" cy="234.0" r="1.5" fill="#35A8E0"/>
<circle cx="193.2" cy="234.0" r="1.5" fill="#35A8E0"/>
<circle cx="151.7" cy="236.3" r="1.5" fill="#35A8E0"/>
<circle cx="170.6" cy="236.3" r="1.5" fill="#35A8E0"/>
<circle cx="180.1" cy="238.2" r="1.5" fill="#35A8E0"/>
<circle cx="164.3" cy="238.2" r="1.5" fill="#35A8E0"/>
<circle cx="192.4" cy="238.4" r="1.5" fill="#35A8E0"/>
<circle cx="152.4" cy="241.0" r="1.5" fill="#35A8E0"/>
<circle cx="156.6" cy="240.7" r="1.5" fill="#35A8E0"/>
<circle cx="176.6" cy="241.0" r="1.5" fill="#35A8E0"/>
<circle cx="188.5" cy="241.0" r="1.5" fill="#35A8E0"/>
<circle cx="169.9" cy="242.4" r="1.5" fill="#35A8E0"/>
<circle cx="163.6" cy="243.4" r="1.5" fill="#35A8E0"/>
<circle cx="171.6" cy="247.0" r="1.5" fill="#35A8E0"/>
<circle cx="176.2" cy="246.6" r="1.5" fill="#35A8E0"/>
<circle cx="158.3" cy="247.3" r="1.5" fill="#35A8E0"/>
<circle cx="162.7" cy="248.0" r="1.5" fill="#35A8E0"/>
<circle cx="198.2" cy="214.4" r="1.5" fill="#35A8E0"/>
<circle cx="205.3" cy="216.8" r="1.5" fill="#35A8E0"/>
<circle cx="211.6" cy="217.1" r="1.5" fill="#35A8E0"/>
<circle cx="216.8" cy="211.1" r="1.5" fill="#35A8E0"/>
<circle cx="216.5" cy="215.5" r="1.5" fill="#35A8E0"/>
<circle cx="189.5" cy="220.5" r="1.5" fill="#35A8E0"/>
<circle cx="193.4" cy="223.5" r="1.5" fill="#35A8E0"/>
<circle cx="205.0" cy="222.4" r="1.5" fill="#35A8E0"/>
<circle cx="208.1" cy="226.6" r="1.5" fill="#35A8E0"/>
<circle cx="195.5" cy="228.4" r="1.5" fill="#35A8E0"/>
<circle cx="199.7" cy="228.7" r="1.5" fill="#35A8E0"/>
<circle cx="209.2" cy="231.9" r="1.5" fill="#35A8E0"/>
<circle cx="204.5" cy="234.2" r="1.5" fill="#35A8E0"/>
<circle cx="169.5" cy="213.7" r="1.5" fill="#F7A35E"/>
<circle cx="150.3" cy="221.8" r="1.5" fill="#F7A35E"/>
<circle cx="169.5" cy="225.8" r="1.5" fill="#F7A35E"/>
<circle cx="155.1" cy="229.8" r="1.5" fill="#F7A35E"/>
<circle cx="169.0" cy="218.4" r="1.5" fill="#1B6B38"/>
<circle cx="182.5" cy="232.9" r="1.5" fill="#1B6B38"/>
<circle cx="184.3" cy="241.3" r="1.5" fill="#1B6B38"/>
<circle cx="156.4" cy="211.9" r="1.5" fill="#FEF0EA"/>
<circle cx="161.7" cy="211.6" r="1.5" fill="#FEF0EA"/>
</g>
<path d="M184.1,315.9L185.3,315.7 M184.1,315.9L185.3,316.3 M146.9,309.4L147.5,308.4 M146.9,309.4L148.2,308.1 M147.1,380.3L147.5,380.8 M147.1,380.3L148.5,381.1 M147.6,371.9L147.5,373.8 M147.6,371.9L148.5,373.4 M148.5,294.3L147.5,293.3 M148.5,294.3L149.1,293.3 M152.1,301.9L151.7,301.4 M152.1,301.9L152.0,305.4 M94.3,323.2L91.2,322.6 M94.3,323.2L95.4,323.5 M207.6,347.1L209.2,347.4 M207.6,347.1L207.9,351.3 M108.0,352.0L110.7,351.8 M108.0,352.0L106.5,353.1 M177.3,349.1L174.3,348.2 M177.3,349.1L178.7,349.2 M187.1,334.0L190.6,332.7 M187.1,334.0L186.4,334.2 M152.6,379.0L150.9,376.3 M152.6,379.0L152.7,380.1 M211.9,343.3L213.2,341.5 M211.9,343.3L214.0,346.1 M87.4,325.5L86.0,321.6 M87.4,325.5L84.6,325.8 M97.6,297.7L97.9,295.8 M97.6,297.7L94.4,298.9 M107.8,323.6L107.5,321.6 M107.8,323.6L103.1,320.8 M138.6,322.1L137.5,319.8 M138.6,322.1L138.9,324.2 M134.4,368.2L135.4,365.4 M134.4,368.2L134.0,369.8 M119.4,288.6L117.8,287.0 M119.4,288.6L122.2,286.7 M175.0,306.2L176.6,305.6 M175.0,306.2L173.0,308.6 M178.9,325.5L179.3,324.7 M178.9,325.5L183.7,324.0 M212.5,359.0L214.4,354.8 M212.5,359.0L215.1,359.8 M202.7,355.1L201.6,354.5 M202.7,355.1L206.3,355.6 M144.7,311.6L144.1,310.7 M144.7,311.6L145.6,314.4 M87.9,310.2L87.4,307.7 M87.9,310.2L84.9,312.0 M196.3,330.1L193.0,329.2 M196.3,330.1L197.4,330.3 M213.1,335.0L214.7,332.4 M213.1,335.0L216.8,337.1 M192.0,374.4L193.2,375.5 M192.0,374.4L192.1,379.8 M136.0,310.4L134.3,307.0 M136.0,310.4L135.9,311.7 M190.3,324.6L187.4,326.1 M190.3,324.6L190.9,322.9 M88.8,345.7L87.0,346.1 M88.8,345.7L91.8,347.4 M118.5,375.6L120.4,374.5 M118.5,375.6L117.5,378.7 M137.9,301.2L136.1,296.8 M137.9,301.2L138.9,300.4 M183.4,381.4L183.5,382.2 M183.4,381.4L188.2,382.2 M123.4,331.4L121.0,330.0 M123.4,331.4L125.2,330.8 M164.0,388.4L165.3,386.4 M164.0,388.4L165.3,391.3 M178.6,359.0L176.6,358.7 M178.6,359.0L180.4,361.9 M201.5,329.9L201.6,327.5 M201.5,329.9L204.2,331.3 M195.3,369.7L194.5,370.3 M195.3,369.7L199.5,370.3 M113.4,291.1L113.0,289.1 M113.4,291.1L109.1,292.0 M100.2,293.1L97.5,290.7 M100.2,293.1L102.8,290.2 M131.2,291.8L132.2,288.8 M131.2,291.8L132.2,293.9 M165.1,298.8L167.4,295.1 M165.1,298.8L165.7,300.0 M155.6,288.4L155.6,284.9 M155.6,288.4L154.1,289.9 M107.7,361.6L104.9,364.0 M107.7,361.6L109.8,362.6 M166.2,326.1L166.4,325.8 M166.2,326.1L162.5,327.5 M108.3,302.8L108.1,300.4 M108.3,302.8L106.5,304.6 M95.2,356.1L90.2,358.4 M95.2,356.1L94.9,356.1 M146.1,297.0L144.5,294.7 M146.1,297.0L144.8,300.0 M90.6,330.5L88.8,329.2 M90.6,330.5L91.2,333.4 M156.0,375.1L154.8,371.3 M156.0,375.1L156.9,376.1 M111.8,300.7L112.0,296.8 M111.8,300.7L113.0,301.8 M200.2,352.1L197.6,350.8 M200.2,352.1L202.9,350.3 M106.4,311.4L102.3,311.7 M106.4,311.4L107.3,313.0 M105.8,349.2L107.0,346.8 M105.8,349.2L103.5,349.7 M81.8,341.8L79.7,339.8 M81.8,341.8L81.0,345.0 M105.1,358.6L105.2,356.9 M105.1,358.6L101.8,360.5 M205.8,372.0L209.5,374.0 M205.8,372.0L204.5,376.6 M174.0,292.4L176.9,288.8 M174.0,292.4L179.3,293.3 M188.5,341.4L185.0,343.2 M188.5,341.4L190.3,342.2 M190.3,307.3L193.7,305.7 M190.3,307.3L189.5,309.4 M114.1,330.7L112.3,331.7 M114.1,330.7L117.2,331.7 M170.7,284.9L169.5,282.1 M170.7,284.9L174.8,283.4 M206.7,365.3L204.2,364.3 M206.7,365.3L207.9,368.5 M101.9,340.9L100.4,340.8 M101.9,340.9L106.0,341.3 M82.8,355.5L79.4,357.2 M82.8,355.5L84.9,358.7 M181.3,311.8L182.5,308.8 M181.3,311.8L179.7,313.5 M192.3,319.5L190.9,314.7 M192.3,319.5L193.0,318.7 M181.8,357.2L182.2,355.6 M181.8,357.2L184.3,359.5 M181.1,303.6L180.4,300.7 M181.1,303.6L185.0,302.3 M175.5,386.6L178.7,387.8 M175.5,386.6L174.3,389.9 M142.9,359.9L141.7,360.5 M142.9,359.9L143.5,356.3 M177.2,371.2L176.6,371.7 M177.2,371.2L181.6,372.9 M108.7,371.1L110.9,370.6 M108.7,371.1L106.0,373.8 M196.5,358.1L194.2,355.9 M196.5,358.1L197.6,360.1 M95.5,307.7L93.0,309.6 M95.5,307.7L98.1,307.5 M153.4,297.7L151.7,297.2 M153.4,297.7L155.9,297.0 M144.2,381.9L143.8,380.3 M144.2,381.9L143.5,386.4 M146.7,368.4L146.2,368.9 M146.7,368.4L147.6,371.9 M173.5,329.1L172.0,328.5 M173.5,329.1L176.6,328.7 M95.3,306.1L93.7,303.5 M95.3,306.1L95.5,307.7 M97.7,342.6L94.9,341.9 M97.7,342.6L98.9,345.3 M123.8,295.6L123.8,292.3 M123.8,295.6L125.9,298.1 M119.8,297.0L117.2,294.7 M119.8,297.0L120.4,300.0 M178.6,379.9L180.1,378.2 M178.6,379.9L177.2,381.9 M154.9,357.1L153.5,355.6 M154.9,357.1L156.9,360.5 M96.3,323.5L97.5,320.0 M96.3,323.5L94.3,323.2 M111.4,310.1L111.7,307.7 M111.4,310.1L112.8,313.0 M189.9,367.7L190.9,365.8 M189.9,367.7L186.9,368.7 M136.5,354.1L140.6,349.9 M136.5,354.1L136.8,354.5 M126.0,376.6L124.9,375.5 M126.0,376.6L124.6,381.1 M181.8,315.8L179.5,318.4 M181.8,315.8L184.1,315.9 M140.6,379.9L138.5,379.4 M140.6,379.9L138.5,385.7 M192.7,324.9L194.8,325.0 M192.7,324.9L190.3,324.6 M129.2,292.6L127.5,288.4 M129.2,292.6L131.2,291.8 M208.1,363.1L209.5,361.6 M208.1,363.1L206.7,365.3 M117.2,365.2L114.4,365.8 M117.2,365.2L118.9,366.4 M121.4,359.8L124.1,355.9 M121.4,359.8L121.7,360.1 M163.2,374.9L161.1,374.0 M163.2,374.9L165.3,374.8 M167.4,368.4L166.1,366.8 M167.4,368.4L169.5,372.4 M208.5,342.2L207.9,340.8 M208.5,342.2L211.9,343.3 M91.4,310.8L89.7,315.1 M91.4,310.8L87.9,310.2 M207.8,335.4L209.5,332.9 M207.8,335.4L213.1,335.0 M130.5,359.5L131.9,357.7 M130.5,359.5L127.5,362.9 M162.2,308.2L159.8,308.8 M162.2,308.2L164.3,307.3 M200.2,355.1L202.7,355.1 M200.2,355.1L200.2,352.1 M154.3,380.5L153.8,384.7 M154.3,380.5L152.6,379.0 M148.9,296.2L148.5,294.3 M148.9,296.2L146.1,297.0 M157.0,290.3L160.4,285.8 M157.0,290.3L155.6,288.4 M149.4,362.8L150.9,361.1 M149.4,362.8L149.9,365.4 M122.7,311.5L119.3,308.6 M122.7,311.5L123.1,314.4 M118.1,337.8L117.8,335.9 M118.1,337.8L120.1,339.0 M129.4,376.6L130.1,375.0 M129.4,376.6L129.4,381.5 M129.8,320.1L129.6,317.4 M129.8,320.1L130.4,322.4 M141.5,366.5L139.6,366.4 M141.5,366.5L141.4,370.3 M184.2,335.0L182.2,336.3 M184.2,335.0L187.1,334.0 M187.8,306.7L190.9,301.2 M187.8,306.7L190.3,307.3 M97.2,327.2L98.1,327.1 M97.2,327.2L96.3,323.5 M178.9,349.8L183.2,351.3 M178.9,349.8L177.3,349.1 M152.5,299.0L152.1,301.9 M152.5,299.0L153.4,297.7 M137.8,312.4L138.5,315.1 M137.8,312.4L136.0,310.4 M145.3,325.4L146.2,324.0 M145.3,325.4L145.9,331.3 M144.4,309.6L143.3,305.6 M144.4,309.6L144.7,311.6 M171.8,381.8L170.9,378.4 M171.8,381.8L170.9,385.0 M161.3,387.5L160.4,391.3 M161.3,387.5L164.0,388.4 M167.8,289.1L166.9,287.4 M167.8,289.1L170.7,284.9 M84.0,350.5L79.7,351.3 M84.0,350.5L82.8,355.5 M161.2,299.5L160.4,295.1 M161.2,299.5L160.8,302.1 M163.3,375.9L165.3,380.8 M163.3,375.9L163.2,374.9 M117.7,373.6L113.3,376.3 M117.7,373.6L118.5,375.6 M133.9,369.4L134.3,374.2 M133.9,369.4L134.4,368.2 M84.8,340.7L84.9,336.6 M84.8,340.7L81.8,341.8 M110.3,303.5L108.3,302.8 M110.3,303.5L111.8,300.7 M164.7,311.2L163.2,315.4 M164.7,311.2L168.5,309.8 M109.2,368.8L102.8,370.0 M109.2,368.8L108.7,371.1 M112.7,328.8L111.2,327.1 M112.7,328.8L114.1,330.7 M173.4,367.1L175.5,365.0 M173.4,367.1L171.3,367.1 M145.3,378.9L147.1,380.3 M145.3,378.9L144.2,381.9 M99.4,340.5L101.9,340.9 M99.4,340.5L97.7,342.6 M138.6,306.5L138.9,306.5 M138.6,306.5L137.9,301.2 M198.6,330.9L196.3,330.1 M198.6,330.9L201.5,329.9 M190.1,338.9L194.0,339.2 M190.1,338.9L188.5,341.4 M100.4,298.5L97.6,297.7 M100.4,298.5L100.2,293.1 M145.1,311.6L146.9,309.4 M145.1,311.6L144.4,309.6 M165.0,355.4L160.4,354.2 M165.0,355.4L167.1,358.4 M205.6,342.6L207.6,347.1 M205.6,342.6L208.5,342.2 M100.6,353.8L99.6,353.1 M100.6,353.8L95.2,356.1 M159.5,329.5L156.9,325.0 M159.5,329.5L152.7,332.1 M178.5,379.7L183.4,381.4 M178.5,379.7L178.6,379.9 M128.6,373.2L126.0,376.6 M128.6,373.2L129.4,376.6 M172.1,330.0L169.0,333.1 M172.1,330.0L173.5,329.1 M162.3,301.4L165.1,298.8 M162.3,301.4L161.2,299.5 M106.9,351.1L108.0,352.0 M106.9,351.1L105.8,349.2 M121.8,343.7L116.8,344.3 M121.8,343.7L124.3,345.5 M178.9,356.4L178.6,359.0 M178.9,356.4L181.8,357.2 M139.3,322.2L138.9,328.2 M139.3,322.2L138.6,322.1 M192.0,368.5L195.3,369.7 M192.0,368.5L189.9,367.7 M121.8,296.4L123.8,295.6 M121.8,296.4L119.8,297.0 M127.7,309.5L126.5,304.4 M127.7,309.5L130.9,312.6 M116.3,338.6L111.7,339.0 M116.3,338.6L118.1,337.8 M181.8,313.1L181.3,311.8 M181.8,313.1L181.8,315.8 M128.8,297.7L131.9,299.3 M128.8,297.7L129.2,292.6 M108.3,358.3L107.7,361.6 M108.3,358.3L105.1,358.6 M197.9,332.7L201.6,336.3 M197.9,332.7L198.6,330.9 M175.4,304.5L173.4,299.6 M175.4,304.5L175.0,306.2 M159.6,382.8L158.5,383.2 M159.6,382.8L161.3,387.5 M91.7,329.0L87.4,325.5 M91.7,329.0L90.6,330.5 M173.3,369.1L177.2,371.2 M173.3,369.1L173.4,367.1 M173.6,382.1L175.5,386.6 M173.6,382.1L171.8,381.8 M109.6,309.5L106.4,311.4 M109.6,309.5L111.4,310.1 M96.7,307.2L95.3,306.1 M96.7,307.2L91.4,310.8 M197.7,358.3L196.5,358.1 M197.7,358.3L200.2,355.1 M183.4,334.7L178.0,333.1 M183.4,334.7L184.2,335.0 M131.4,348.3L128.8,350.8 M131.4,348.3L138.0,346.4 M161.4,372.1L160.1,367.5 M161.4,372.1L163.3,375.9 M124.0,333.3L130.7,335.5 M124.0,333.3L123.4,331.4 M154.8,314.3L155.6,313.0 M154.8,314.3L151.7,322.4 M192.9,325.1L192.3,319.5 M192.9,325.1L192.7,324.9 M118.2,292.1L119.4,288.6 M118.2,292.1L113.4,291.1 M169.7,325.0L173.0,320.8 M169.7,325.0L166.2,326.1 M164.1,352.2L158.0,349.7 M164.1,352.2L166.7,353.1 M115.2,354.1L119.1,350.8 M115.2,354.1L114.4,356.9 M121.1,369.0L124.6,369.8 M121.1,369.0L117.7,373.6 M177.9,307.8L181.1,303.6 M177.9,307.8L175.4,304.5 M166.7,366.1L163.2,360.8 M166.7,366.1L167.4,368.4 M143.5,362.8L142.9,359.9 M143.5,362.8L141.5,366.5 M208.0,362.5L212.5,359.0 M208.0,362.5L208.1,363.1 M146.3,364.5L144.8,363.2 M146.3,364.5L146.7,368.4 M190.7,368.0L192.0,374.4 M190.7,368.0L192.0,368.5 M87.7,343.7L88.8,345.7 M87.7,343.7L84.8,340.7 M162.5,308.4L162.2,308.2 M162.5,308.4L164.7,311.2 M173.6,327.9L178.9,325.5 M173.6,327.9L172.1,330.0 M156.4,377.8L156.0,375.1 M156.4,377.8L154.3,380.5 M97.0,331.0L97.2,327.2 M97.0,331.0L91.7,329.0 M176.1,349.0L173.2,344.3 M176.1,349.0L178.9,349.8 M165.7,295.0L174.0,292.4 M165.7,295.0L167.8,289.1 M133.0,365.7L134.7,361.4 M133.0,365.7L133.9,369.4 M118.3,363.4L117.2,365.2 M118.3,363.4L121.4,359.8 M152.1,297.3L148.9,296.2 M152.1,297.3L152.5,299.0 M121.8,296.5L121.8,296.4 M121.8,296.5L118.2,292.1 M161.3,334.0L160.6,333.1 M161.3,334.0L156.9,337.6 M129.4,320.4L131.5,327.5 M129.4,320.4L129.8,320.1 M167.6,353.7L165.0,355.4 M167.6,353.7L164.1,352.2 M200.8,338.4L207.8,335.4 M200.8,338.4L205.6,342.6 M98.5,338.0L99.3,333.8 M98.5,338.0L99.4,340.5 M144.7,374.6L140.6,379.9 M144.7,374.6L145.3,378.9 M138.9,311.8L137.8,312.4 M138.9,311.8L138.6,306.5 M173.4,377.9L178.5,379.7 M173.4,377.9L173.6,382.1 M111.0,307.1L110.3,303.5 M111.0,307.1L109.6,309.5 M127.3,347.6L130.4,346.8 M127.3,347.6L131.4,348.3 M143.9,321.0L142.4,321.6 M143.9,321.0L145.3,325.4 M182.3,311.7L187.8,306.7 M182.3,311.7L181.8,313.1 M203.4,365.4L205.8,372.0 M203.4,365.4L208.0,362.5 M106.9,352.2L100.6,353.8 M106.9,352.2L106.9,351.1 M112.7,328.4L107.8,323.6 M112.7,328.4L112.7,328.8 M132.2,358.0L136.5,354.1 M132.2,358.0L130.5,359.5 M169.4,369.0L173.3,369.1 M169.4,369.0L166.7,366.1 M130.4,366.4L128.6,373.2 M130.4,366.4L133.0,365.7 M89.5,344.7L84.0,350.5 M89.5,344.7L87.7,343.7 M147.4,361.9L149.4,362.8 M147.4,361.9L146.3,364.5 M125.8,311.6L122.7,311.5 M125.8,311.6L127.7,309.5 M155.0,296.8L157.0,290.3 M155.0,296.8L152.1,297.3 M112.2,354.6L108.3,358.3 M112.2,354.6L115.2,354.1 M187.9,336.1L190.1,338.9 M187.9,336.1L183.4,334.7 M160.6,305.8L162.3,301.4 M160.6,305.8L162.5,308.4 M158.9,377.8L159.6,382.8 M158.9,377.8L156.4,377.8 M193.7,330.8L197.9,332.7 M193.7,330.8L192.9,325.1 M124.2,341.4L131.9,341.5 M124.2,341.4L121.8,343.7 M154.2,355.3L151.2,348.2 M154.2,355.3L154.9,357.1 M125.4,301.1L128.8,297.7 M125.4,301.1L121.8,296.5 M113.1,351.5L106.9,352.2 M113.1,351.5L112.2,354.6 M116.2,365.3L109.2,368.8 M116.2,365.3L118.3,363.4 M196.4,361.6L197.7,358.3 M196.4,361.6L203.4,365.4 M127.0,313.7L129.4,320.4 M127.0,313.7L125.8,311.6 M177.2,315.2L177.9,307.8 M177.2,315.2L182.3,311.7 M103.3,304.6L100.4,298.5 M103.3,304.6L96.7,307.2 M160.7,372.7L161.4,372.1 M160.7,372.7L158.9,377.8 M144.0,315.9L145.1,311.6 M144.0,315.9L143.9,321.0 M119.1,339.1L116.3,338.6 M119.1,339.1L124.2,341.4 M117.8,333.0L124.0,333.3 M117.8,333.0L112.7,328.4 M146.6,358.3L146.2,351.0 M146.6,358.3L147.4,361.9 M121.2,363.6L121.1,369.0 M121.2,363.6L116.2,365.3 M169.9,328.1L169.7,325.0 M169.9,328.1L173.6,327.9 M176.2,353.0L178.9,356.4 M176.2,353.0L176.1,349.0 M168.2,371.7L173.4,377.9 M168.2,371.7L169.4,369.0 M112.9,308.1L111.0,307.1 M112.9,308.1L103.3,304.6 M190.2,334.7L187.9,336.1 M190.2,334.7L193.7,330.8 M166.4,331.4L161.3,334.0 M166.4,331.4L169.9,328.1 M96.8,339.8L98.5,338.0 M96.8,339.8L89.5,344.7 M140.4,316.4L139.3,322.2 M140.4,316.4L138.9,311.8 M146.1,362.0L143.5,362.8 M146.1,362.0L146.6,358.3 M157.1,307.6L154.8,314.3 M157.1,307.6L160.6,305.8 M188.1,361.2L190.7,368.0 M188.1,361.2L196.4,361.6 M148.2,365.0L144.7,374.6 M148.2,365.0L146.1,362.0 M142.9,315.2L144.0,315.9 M142.9,315.2L140.4,316.4 M129.6,360.3L132.2,358.0 M129.6,360.3L130.4,366.4 M155.8,302.7L155.0,296.8 M155.8,302.7L157.1,307.6 M102.3,336.7L97.0,331.0 M102.3,336.7L96.8,339.8 M167.9,332.0L166.1,338.4 M167.9,332.0L166.4,331.4 M173.7,353.6L167.6,353.7 M173.7,353.6L176.2,353.0 M189.0,337.3L200.8,338.4 M189.0,337.3L190.2,334.7 M155.3,303.6L165.7,295.0 M155.3,303.6L155.8,302.7 M125.7,309.2L125.4,301.1 M125.7,309.2L127.0,313.7 M126.1,356.5L121.2,363.6 M126.1,356.5L129.6,360.3 M161.9,368.4L160.7,372.7 M161.9,368.4L168.2,371.7 M116.6,337.1L119.1,339.1 M116.6,337.1L117.8,333.0 M120.3,347.8L127.3,347.6 M120.3,347.8L113.1,351.5 M171.3,326.2L177.2,315.2 M171.3,326.2L167.9,332.0 M124.6,312.6L112.9,308.1 M124.6,312.6L125.7,309.2 M156.6,360.7L154.2,355.3 M156.6,360.7L161.9,368.4 M177.3,354.0L188.1,361.2 M177.3,354.0L173.7,353.6 M113.1,339.4L102.3,336.7 M113.1,339.4L116.6,337.1 M168.9,331.5L159.5,329.5 M168.9,331.5L171.3,326.2 M144.4,313.2L142.9,315.2 M144.4,313.2L155.3,303.6 M120.3,344.3L120.3,347.8 M120.3,344.3L113.1,339.4 M175.9,338.7L189.0,337.3 M175.9,338.7L168.9,331.5 M153.8,358.3L148.2,365.0 M153.8,358.3L156.6,360.7 M169.9,347.3L177.3,354.0 M169.9,347.3L175.9,338.7 M135.1,320.6L124.6,312.6 M135.1,320.6L144.4,313.2 M127.5,345.6L126.1,356.5 M127.5,345.6L120.3,344.3 M156.6,349.2L153.8,358.3 M156.6,349.2L169.9,347.3 M136.2,336.1L135.1,320.6 M136.2,336.1L127.5,345.6 M146.0,342.0L156.6,349.2 M146.0,342.0L136.2,336.1" stroke="#5a5a5a" stroke-width="0.5" fill="none"/>
<g stroke="#808080" stroke-width="0.4">
<circle cx="97.5" cy="290.7" r="1.5" fill="#CCEBC5"/>
<circle cx="102.8" cy="290.2" r="1.5" fill="#CCEBC5"/>
<circle cx="97.9" cy="295.8" r="1.5" fill="#CCEBC5"/>
<circle cx="94.4" cy="298.9" r="1.5" fill="#CCEBC5"/>
<circle cx="93.7" cy="303.5" r="1.5" fill="#CCEBC5"/>
<circle cx="113.0" cy="289.1" r="1.5" fill="#FDBF87"/>
<circle cx="109.1" cy="292.0" r="1.5" fill="#FDBF87"/>
<circle cx="117.2" cy="294.7" r="1.5" fill="#FDBF87"/>
<circle cx="112.0" cy="296.8" r="1.5" fill="#FDBF87"/>
<circle cx="108.1" cy="300.4" r="1.5" fill="#FDBF87"/>
<circle cx="113.0" cy="301.8" r="1.5" fill="#FDBF87"/>
<circle cx="106.5" cy="304.6" r="1.5" fill="#FDBF6F"/>
<circle cx="119.3" cy="308.6" r="1.5" fill="#FDBF6F"/>
<circle cx="87.4" cy="307.7" r="1.5" fill="#FDBF87"/>
<circle cx="93.0" cy="309.6" r="1.5" fill="#FDBF87"/>
<circle cx="98.1" cy="307.5" r="1.5" fill="#FDBF87"/>
<circle cx="84.9" cy="312.0" r="1.5" fill="#FDBF87"/>
<circle cx="89.7" cy="315.1" r="1.5" fill="#FDBF87"/>
<circle cx="111.7" cy="307.7" r="1.5" fill="#CCEBC5"/>
<circle cx="102.3" cy="311.7" r="1.5" fill="#CCEBC5"/>
<circle cx="107.3" cy="313.0" r="1.5" fill="#CCEBC5"/>
<circle cx="112.8" cy="313.0" r="1.5" fill="#CCEBC5"/>
<circle cx="117.8" cy="287.0" r="1.5" fill="#1C9D77"/>
<circle cx="122.2" cy="286.7" r="1.5" fill="#1C9D77"/>
<circle cx="123.8" cy="292.3" r="1.5" fill="#1C9D77"/>
<circle cx="125.9" cy="298.1" r="1.5" fill="#1C9D77"/>
<circle cx="120.4" cy="300.0" r="1.5" fill="#1C9D77"/>
<circle cx="126.5" cy="304.4" r="1.5" fill="#1C9D77"/>
<circle cx="123.1" cy="314.4" r="1.5" fill="#1C9D77"/>
<circle cx="127.5" cy="288.4" r="1.5" fill="#7CC47E"/>
<circle cx="132.2" cy="288.8" r="1.5" fill="#7CC47E"/>
<circle cx="132.2" cy="293.9" r="1.5" fill="#7CC47E"/>
<circle cx="136.1" cy="296.8" r="1.5" fill="#7CC47E"/>
<circle cx="131.9" cy="299.3" r="1.5" fill="#7CC47E"/>
<circle cx="138.9" cy="300.4" r="1.5" fill="#7CC47E"/>
<circle cx="134.3" cy="307.0" r="1.5" fill="#7CC47E"/>
<circle cx="144.5" cy="294.7" r="1.5" fill="#33A02C"/>
<circle cx="144.8" cy="300.0" r="1.5" fill="#33A02C"/>
<circle cx="147.5" cy="293.3" r="1.5" fill="#33A02C"/>
<circle cx="138.9" cy="306.5" r="1.5" fill="#6A3D9A"/>
<circle cx="143.3" cy="305.6" r="1.5" fill="#6A3D9A"/>
<circle cx="144.1" cy="310.7" r="1.5" fill="#E31A1C"/>
<circle cx="147.5" cy="308.4" r="1.5" fill="#E31A1C"/>
<circle cx="138.5" cy="315.1" r="1.5" fill="#6A3D9A"/>
<circle cx="145.6" cy="314.4" r="1.5" fill="#CAB2D6"/>
<circle cx="130.9" cy="312.6" r="1.5" fill="#A6761D"/>
<circle cx="135.9" cy="311.7" r="1.5" fill="#A6761D"/>
<circle cx="169.5" cy="282.1" r="1.5" fill="#666666"/>
<circle cx="174.8" cy="283.4" r="1.5" fill="#666666"/>
<circle cx="166.9" cy="287.4" r="1.5" fill="#666666"/>
<circle cx="176.9" cy="288.8" r="1.5" fill="#666666"/>
<circle cx="179.3" cy="293.3" r="1.5" fill="#666666"/>
<circle cx="167.4" cy="295.1" r="1.5" fill="#666666"/>
<circle cx="165.7" cy="300.0" r="1.5" fill="#666666"/>
<circle cx="173.4" cy="299.6" r="1.5" fill="#666666"/>
<circle cx="176.6" cy="305.6" r="1.5" fill="#666666"/>
<circle cx="173.0" cy="308.6" r="1.5" fill="#666666"/>
<circle cx="182.5" cy="308.8" r="1.5" fill="#666666"/>
<circle cx="179.7" cy="313.5" r="1.5" fill="#666666"/>
<circle cx="163.2" cy="315.4" r="1.5" fill="#666666"/>
<circle cx="155.6" cy="284.9" r="1.5" fill="#B2DF8A"/>
<circle cx="160.4" cy="285.8" r="1.5" fill="#B2DF8A"/>
<circle cx="154.1" cy="289.9" r="1.5" fill="#B2DF8A"/>
<circle cx="160.4" cy="295.1" r="1.5" fill="#B2DF8A"/>
<circle cx="160.8" cy="302.1" r="1.5" fill="#B2DF8A"/>
<circle cx="159.8" cy="308.8" r="1.5" fill="#B2DF8A"/>
<circle cx="155.6" cy="313.0" r="1.5" fill="#B2DF8A"/>
<circle cx="151.7" cy="297.2" r="1.5" fill="#FEF69E"/>
<circle cx="155.9" cy="297.0" r="1.5" fill="#FEF69E"/>
<circle cx="151.7" cy="301.4" r="1.5" fill="#FEF69E"/>
<circle cx="149.1" cy="293.3" r="1.5" fill="#33A02C"/>
<circle cx="152.0" cy="305.4" r="1.5" fill="#33A02C"/>
<circle cx="148.2" cy="308.1" r="1.5" fill="#E31A1C"/>
<circle cx="164.3" cy="307.3" r="1.5" fill="#E7158A"/>
<circle cx="168.5" cy="309.8" r="1.5" fill="#FDBF87"/>
<circle cx="180.4" cy="300.7" r="1.5" fill="#F57E21"/>
<circle cx="185.0" cy="302.3" r="1.5" fill="#F57E21"/>
<circle cx="190.9" cy="301.2" r="1.5" fill="#F57E21"/>
<circle cx="193.7" cy="305.7" r="1.5" fill="#F57E21"/>
<circle cx="189.5" cy="309.4" r="1.5" fill="#F57E21"/>
<circle cx="185.3" cy="315.7" r="1.5" fill="#A7CEE4"/>
<circle cx="190.9" cy="314.7" r="1.5" fill="#A7CEE4"/>
<circle cx="86.0" cy="321.6" r="1.5" fill="#FDBF87"/>
<circle cx="91.2" cy="322.6" r="1.5" fill="#FDBF87"/>
<circle cx="97.5" cy="320.0" r="1.5" fill="#FDBF87"/>
<circle cx="95.4" cy="323.5" r="1.5" fill="#FDBF87"/>
<circle cx="107.5" cy="321.6" r="1.5" fill="#FDBF87"/>
<circle cx="84.6" cy="325.8" r="1.5" fill="#FDBF87"/>
<circle cx="98.1" cy="327.1" r="1.5" fill="#FDBF87"/>
<circle cx="88.8" cy="329.2" r="1.5" fill="#FDBF87"/>
<circle cx="91.2" cy="333.4" r="1.5" fill="#FDBF87"/>
<circle cx="99.3" cy="333.8" r="1.5" fill="#FDBF87"/>
<circle cx="111.2" cy="327.1" r="1.5" fill="#FDBF6F"/>
<circle cx="112.3" cy="331.7" r="1.5" fill="#FDBF6F"/>
<circle cx="117.2" cy="331.7" r="1.5" fill="#FDBF6F"/>
<circle cx="121.0" cy="330.0" r="1.5" fill="#FDBF6F"/>
<circle cx="125.2" cy="330.8" r="1.5" fill="#FDBF6F"/>
<circle cx="117.8" cy="335.9" r="1.5" fill="#FDBF6F"/>
<circle cx="130.7" cy="335.5" r="1.5" fill="#FDBF6F"/>
<circle cx="103.1" cy="320.8" r="1.5" fill="#CCEBC5"/>
<circle cx="129.6" cy="317.4" r="1.5" fill="#A6761D"/>
<circle cx="130.4" cy="322.4" r="1.5" fill="#A6761D"/>
<circle cx="131.5" cy="327.5" r="1.5" fill="#A6761D"/>
<circle cx="137.5" cy="319.8" r="1.5" fill="#A6761D"/>
<circle cx="138.9" cy="324.2" r="1.5" fill="#A6761D"/>
<circle cx="142.4" cy="321.6" r="1.5" fill="#A6761D"/>
<circle cx="138.9" cy="328.2" r="1.5" fill="#A6761D"/>
<circle cx="146.2" cy="324.0" r="1.5" fill="#6A3D9A"/>
<circle cx="111.7" cy="339.0" r="1.5" fill="#D95E1E"/>
<circle cx="120.1" cy="339.0" r="1.5" fill="#D95E1E"/>
<circle cx="131.9" cy="341.5" r="1.5" fill="#1C9D77"/>
<circle cx="84.9" cy="336.6" r="1.5" fill="#6A3D9A"/>
<circle cx="79.7" cy="339.8" r="1.5" fill="#6A3D9A"/>
<circle cx="94.9" cy="341.9" r="1.5" fill="#6A3D9A"/>
<circle cx="100.4" cy="340.8" r="1.5" fill="#6A3D9A"/>
<circle cx="106.0" cy="341.3" r="1.5" fill="#6A3D9A"/>
<circle cx="81.0" cy="345.0" r="1.5" fill="#6A3D9A"/>
<circle cx="87.0" cy="346.1" r="1.5" fill="#6A3D9A"/>
<circle cx="91.8" cy="347.4" r="1.5" fill="#6A3D9A"/>
<circle cx="98.9" cy="345.3" r="1.5" fill="#6A3D9A"/>
<circle cx="107.0" cy="346.8" r="1.5" fill="#6A3D9A"/>
<circle cx="79.7" cy="351.3" r="1.5" fill="#6A3D9A"/>
<circle cx="99.6" cy="353.1" r="1.5" fill="#6A3D9A"/>
<circle cx="116.8" cy="344.3" r="1.5" fill="#CAB2D6"/>
<circle cx="103.5" cy="349.7" r="1.5" fill="#CAB2D6"/>
<circle cx="110.7" cy="351.8" r="1.5" fill="#CAB2D6"/>
<circle cx="106.5" cy="353.1" r="1.5" fill="#CAB2D6"/>
<circle cx="145.9" cy="331.3" r="1.5" fill="#CAB2D6"/>
<circle cx="146.2" cy="351.0" r="1.5" fill="#CAB2D6"/>
<circle cx="124.3" cy="345.5" r="1.5" fill="#3B6CB4"/>
<circle cx="130.4" cy="346.8" r="1.5" fill="#F39BA3"/>
<circle cx="119.1" cy="350.8" r="1.5" fill="#F39BA3"/>
<circle cx="128.8" cy="350.8" r="1.5" fill="#F39BA3"/>
<circle cx="138.0" cy="346.4" r="1.5" fill="#2CA6E0"/>
<circle cx="140.6" cy="349.9" r="1.5" fill="#2CA6E0"/>
<circle cx="185.3" cy="316.3" r="1.5" fill="#A7CEE4"/>
<circle cx="179.5" cy="318.4" r="1.5" fill="#A7CEE4"/>
<circle cx="193.0" cy="318.7" r="1.5" fill="#A7CEE4"/>
<circle cx="173.0" cy="320.8" r="1.5" fill="#A7CEE4"/>
<circle cx="166.4" cy="325.8" r="1.5" fill="#A7CEE4"/>
<circle cx="162.5" cy="327.5" r="1.5" fill="#A7CEE4"/>
<circle cx="160.6" cy="333.1" r="1.5" fill="#A7CEE4"/>
<circle cx="156.9" cy="337.6" r="1.5" fill="#A7CEE4"/>
<circle cx="151.7" cy="322.4" r="1.5" fill="#FEF69E"/>
<circle cx="156.9" cy="325.0" r="1.5" fill="#FEFDD0"/>
<circle cx="152.7" cy="332.1" r="1.5" fill="#CAB2D6"/>
<circle cx="179.3" cy="324.7" r="1.5" fill="#E5A722"/>
<circle cx="183.7" cy="324.0" r="1.5" fill="#E5A722"/>
<circle cx="187.4" cy="326.1" r="1.5" fill="#E5A722"/>
<circle cx="190.9" cy="322.9" r="1.5" fill="#E5A722"/>
<circle cx="194.8" cy="325.0" r="1.5" fill="#E5A722"/>
<circle cx="169.0" cy="333.1" r="1.5" fill="#E5A722"/>
<circle cx="166.1" cy="338.4" r="1.5" fill="#E5A722"/>
<circle cx="172.0" cy="328.5" r="1.5" fill="#FDBF87"/>
<circle cx="176.6" cy="328.7" r="1.5" fill="#FDBF87"/>
<circle cx="151.2" cy="348.2" r="1.5" fill="#FDBF87"/>
<circle cx="158.0" cy="349.7" r="1.5" fill="#FDBF87"/>
<circle cx="193.0" cy="329.2" r="1.5" fill="#D95E1E"/>
<circle cx="197.4" cy="330.3" r="1.5" fill="#D95E1E"/>
<circle cx="173.2" cy="344.3" r="1.5" fill="#D95E1E"/>
<circle cx="174.3" cy="348.2" r="1.5" fill="#D95E1E"/>
<circle cx="178.7" cy="349.2" r="1.5" fill="#D95E1E"/>
<circle cx="183.2" cy="351.3" r="1.5" fill="#D95E1E"/>
<circle cx="166.7" cy="353.1" r="1.5" fill="#D95E1E"/>
<circle cx="201.6" cy="327.5" r="1.5" fill="#8DD2C5"/>
<circle cx="204.2" cy="331.3" r="1.5" fill="#8DD2C5"/>
<circle cx="190.6" cy="332.7" r="1.5" fill="#8DD2C5"/>
<circle cx="178.0" cy="333.1" r="1.5" fill="#66A641"/>
<circle cx="182.2" cy="336.3" r="1.5" fill="#66A641"/>
<circle cx="185.0" cy="343.2" r="1.5" fill="#66A641"/>
<circle cx="186.4" cy="334.2" r="1.5" fill="#E7158A"/>
<circle cx="194.0" cy="339.2" r="1.5" fill="#E7158A"/>
<circle cx="209.2" cy="347.4" r="1.5" fill="#E7158A"/>
<circle cx="197.6" cy="350.8" r="1.5" fill="#E7158A"/>
<circle cx="202.9" cy="350.3" r="1.5" fill="#E7158A"/>
<circle cx="207.9" cy="351.3" r="1.5" fill="#E7158A"/>
<circle cx="209.5" cy="332.9" r="1.5" fill="#DECBE4"/>
<circle cx="214.7" cy="332.4" r="1.5" fill="#DECBE4"/>
<circle cx="216.8" cy="337.1" r="1.5" fill="#DECBE4"/>
<circle cx="201.6" cy="336.3" r="1.5" fill="#DECBE4"/>
<circle cx="207.9" cy="340.8" r="1.5" fill="#DECBE4"/>
<circle cx="213.2" cy="341.5" r="1.5" fill="#DECBE4"/>
<circle cx="214.0" cy="346.1" r="1.5" fill="#DECBE4"/>
<circle cx="190.3" cy="342.2" r="1.5" fill="#DECBE4"/>
<circle cx="79.4" cy="357.2" r="1.5" fill="#6A3D9A"/>
<circle cx="84.9" cy="358.7" r="1.5" fill="#6A3D9A"/>
<circle cx="90.2" cy="358.4" r="1.5" fill="#6A3D9A"/>
<circle cx="94.9" cy="356.1" r="1.5" fill="#6A3D9A"/>
<circle cx="105.2" cy="356.9" r="1.5" fill="#CAB2D6"/>
<circle cx="114.4" cy="356.9" r="1.5" fill="#CAB2D6"/>
<circle cx="101.8" cy="360.5" r="1.5" fill="#CAB2D6"/>
<circle cx="104.9" cy="364.0" r="1.5" fill="#CAB2D6"/>
<circle cx="138.5" cy="379.4" r="1.5" fill="#CAB2D6"/>
<circle cx="143.8" cy="380.3" r="1.5" fill="#CAB2D6"/>
<circle cx="138.5" cy="385.7" r="1.5" fill="#CAB2D6"/>
<circle cx="143.5" cy="386.4" r="1.5" fill="#CAB2D6"/>
<circle cx="147.5" cy="380.8" r="1.5" fill="#CAB2D6"/>
<circle cx="124.1" cy="355.9" r="1.5" fill="#F39BA3"/>
<circle cx="131.9" cy="357.7" r="1.5" fill="#F39BA3"/>
<circle cx="136.8" cy="354.5" r="1.5" fill="#F39BA3"/>
<circle cx="109.8" cy="362.6" r="1.5" fill="#F39BA3"/>
<circle cx="114.4" cy="365.8" r="1.5" fill="#F39BA3"/>
<circle cx="118.9" cy="366.4" r="1.5" fill="#F39BA3"/>
<circle cx="102.8" cy="370.0" r="1.5" fill="#F39BA3"/>
<circle cx="110.9" cy="370.6" r="1.5" fill="#F39BA3"/>
<circle cx="106.0" cy="373.8" r="1.5" fill="#F39BA3"/>
<circle cx="124.6" cy="369.8" r="1.5" fill="#F39BA3"/>
<circle cx="113.3" cy="376.3" r="1.5" fill="#F39BA3"/>
<circle cx="120.4" cy="374.5" r="1.5" fill="#F39BA3"/>
<circle cx="117.5" cy="378.7" r="1.5" fill="#F39BA3"/>
<circle cx="135.4" cy="365.4" r="1.5" fill="#FBB4AE"/>
<circle cx="139.6" cy="366.4" r="1.5" fill="#FBB4AE"/>
<circle cx="121.7" cy="360.1" r="1.5" fill="#8DD2C5"/>
<circle cx="127.5" cy="362.9" r="1.5" fill="#8DD2C5"/>
<circle cx="134.7" cy="361.4" r="1.5" fill="#2CA6E0"/>
<circle cx="134.0" cy="369.8" r="1.5" fill="#2CA6E0"/>
<circle cx="134.3" cy="374.2" r="1.5" fill="#2CA6E0"/>
<circle cx="124.9" cy="375.5" r="1.5" fill="#2CA6E0"/>
<circle cx="130.1" cy="375.0" r="1.5" fill="#2CA6E0"/>
<circle cx="124.6" cy="381.1" r="1.5" fill="#2CA6E0"/>
<circle cx="129.4" cy="381.5" r="1.5" fill="#2CA6E0"/>
<circle cx="141.7" cy="360.5" r="1.5" fill="#B15928"/>
<circle cx="144.8" cy="363.2" r="1.5" fill="#B15928"/>
<circle cx="141.4" cy="370.3" r="1.5" fill="#B15928"/>
<circle cx="146.2" cy="368.9" r="1.5" fill="#B15928"/>
<circle cx="143.5" cy="356.3" r="1.5" fill="#FED9A6"/>
<circle cx="147.5" cy="373.8" r="1.5" fill="#E7D6BA"/>
<circle cx="153.5" cy="355.6" r="1.5" fill="#CAB2D6"/>
<circle cx="150.9" cy="361.1" r="1.5" fill="#CAB2D6"/>
<circle cx="148.5" cy="381.1" r="1.5" fill="#CAB2D6"/>
<circle cx="160.4" cy="354.2" r="1.5" fill="#FEF69E"/>
<circle cx="182.2" cy="355.6" r="1.5" fill="#D95E1E"/>
<circle cx="167.1" cy="358.4" r="1.5" fill="#D95E1E"/>
<circle cx="176.6" cy="358.7" r="1.5" fill="#D95E1E"/>
<circle cx="184.3" cy="359.5" r="1.5" fill="#D95E1E"/>
<circle cx="180.4" cy="361.9" r="1.5" fill="#D95E1E"/>
<circle cx="166.1" cy="366.8" r="1.5" fill="#D95E1E"/>
<circle cx="149.9" cy="365.4" r="1.5" fill="#BF6129"/>
<circle cx="194.2" cy="355.9" r="1.5" fill="#BF6129"/>
<circle cx="197.6" cy="360.1" r="1.5" fill="#BF6129"/>
<circle cx="190.9" cy="365.8" r="1.5" fill="#BF6129"/>
<circle cx="204.2" cy="364.3" r="1.5" fill="#BF6129"/>
<circle cx="194.5" cy="370.3" r="1.5" fill="#BF6129"/>
<circle cx="199.5" cy="370.3" r="1.5" fill="#BF6129"/>
<circle cx="207.9" cy="368.5" r="1.5" fill="#BF6129"/>
<circle cx="209.5" cy="374.0" r="1.5" fill="#BF6129"/>
<circle cx="204.5" cy="376.6" r="1.5" fill="#BF6129"/>
<circle cx="201.6" cy="354.5" r="1.5" fill="#E7158A"/>
<circle cx="206.3" cy="355.6" r="1.5" fill="#E7158A"/>
<circle cx="214.4" cy="354.8" r="1.5" fill="#E7158A"/>
<circle cx="209.5" cy="361.6" r="1.5" fill="#E7158A"/>
<circle cx="215.1" cy="359.8" r="1.5" fill="#E7158A"/>
<circle cx="156.9" cy="360.5" r="1.5" fill="#E7D6BA"/>
<circle cx="163.2" cy="360.8" r="1.5" fill="#E7D6BA"/>
<circle cx="160.1" cy="367.5" r="1.5" fill="#E7D6BA"/>
<circle cx="154.8" cy="371.3" r="1.5" fill="#E7D6BA"/>
<circle cx="161.1" cy="374.0" r="1.5" fill="#E7D6BA"/>
<circle cx="165.3" cy="374.8" r="1.5" fill="#E7D6BA"/>
<circle cx="148.5" cy="373.4" r="1.5" fill="#E7D6BA"/>
<circle cx="150.9" cy="376.3" r="1.5" fill="#E7D6BA"/>
<circle cx="156.9" cy="376.1" r="1.5" fill="#E7D6BA"/>
<circle cx="152.7" cy="380.1" r="1.5" fill="#E7D6BA"/>
<circle cx="158.5" cy="383.2" r="1.5" fill="#E7D6BA"/>
<circle cx="153.8" cy="384.7" r="1.5" fill="#E7D6BA"/>
<circle cx="165.3" cy="380.8" r="1.5" fill="#E7D6BA"/>
<circle cx="165.3" cy="386.4" r="1.5" fill="#E7D6BA"/>
<circle cx="160.4" cy="391.3" r="1.5" fill="#E7D6BA"/>
<circle cx="165.3" cy="391.3" r="1.5" fill="#E7D6BA"/>
<circle cx="175.5" cy="365.0" r="1.5" fill="#8DD2C5"/>
<circle cx="171.3" cy="367.1" r="1.5" fill="#8DD2C5"/>
<circle cx="169.5" cy="372.4" r="1.5" fill="#B3CDE3"/>
<circle cx="170.9" cy="378.4" r="1.5" fill="#B3CDE3"/>
<circle cx="180.1" cy="378.2" r="1.5" fill="#B3CDE3"/>
<circle cx="177.2" cy="381.9" r="1.5" fill="#B3CDE3"/>
<circle cx="170.9" cy="385.0" r="1.5" fill="#B3CDE3"/>
<circle cx="178.7" cy="387.8" r="1.5" fill="#B3CDE3"/>
<circle cx="174.3" cy="389.9" r="1.5" fill="#B3CDE3"/>
<circle cx="186.9" cy="368.7" r="1.5" fill="#7570B3"/>
<circle cx="176.6" cy="371.7" r="1.5" fill="#7570B3"/>
<circle cx="181.6" cy="372.9" r="1.5" fill="#7570B3"/>
<circle cx="193.2" cy="375.5" r="1.5" fill="#7570B3"/>
<circle cx="192.1" cy="379.8" r="1.5" fill="#7570B3"/>
<circle cx="183.5" cy="382.2" r="1.5" fill="#7570B3"/>
<circle cx="188.2" cy="382.2" r="1.5" fill="#7570B3"/>
</g>
<text x="0.90" y="8.90" font-size="12" fill="#000">A</text>
<text x="0.10" y="130.00" font-size="12" fill="#000">B</text>
<text x="-0.40" y="269.60" font-size="12" fill="#000">C</text>
<text x="227.00" y="8.90" font-size="12" fill="#000">D</text>
<text x="350.90" y="8.90" font-size="12" fill="#000">E</text>
<text x="500.80" y="8.80" font-size="12" fill="#000">F</text>
<text x="227.10" y="241.00" font-size="12" fill="#000">G</text>
<text x="349.90" y="240.40" font-size="12" fill="#000">H</text>
<text x="484.90" y="240.00" font-size="12" fill="#000">I</text>
<text x="7.40" y="24.10" font-size="10.2" fill="#000">Grade</text>
<rect x="7.30" y="30.60" width="8.70" height="8.80" fill="#FEF0EA"/>
<text x="19.40" y="37.80" font-size="7.6" fill="#000">Normal</text>
<rect x="7.30" y="39.95" width="8.70" height="8.80" fill="#F9BBA4"/>
<text x="19.40" y="47.15" font-size="7.6" fill="#000"><tspan font-style="italic">In-situ</tspan></text>
<rect x="7.30" y="49.30" width="8.70" height="8.80" fill="#F48C6E"/>
<text x="19.40" y="56.50" font-size="7.6" fill="#000">1</text>
<rect x="7.30" y="58.65" width="8.70" height="8.80" fill="#5DA145"/>
<text x="19.40" y="65.85" font-size="7.6" fill="#000">2</text>
<rect x="7.30" y="68.00" width="8.70" height="8.80" fill="#5F3795"/>
<text x="19.40" y="75.20" font-size="7.6" fill="#000">3</text>
<text x="7.60" y="145.30" font-size="10.2" fill="#000">Receptor</text>
<text x="7.60" y="157.10" font-size="10.2" fill="#000">subtype</text>
<rect x="7.20" y="165.60" width="8.70" height="8.70" fill="#CCCCCC"/>
<text x="17.90" y="172.40" font-size="7.6" fill="#000">NA</text>
<rect x="7.20" y="175.04" width="8.70" height="8.70" fill="#FEF0EA"/>
<text x="17.90" y="181.84" font-size="7.6" fill="#000">Normal</text>
<rect x="7.20" y="184.48" width="8.70" height="8.70" fill="#F7A35E"/>
<text x="17.90" y="191.28" font-size="7.6" fill="#000">TNBC</text>
<rect x="7.20" y="193.92" width="8.70" height="8.70" fill="#FDDB8D"/>
<text x="17.90" y="200.72" font-size="7.6" fill="#000">HER2</text>
<rect x="7.20" y="203.36" width="8.70" height="8.70" fill="#D3E49C"/>
<text x="17.90" y="210.16" font-size="7.6" fill="#000">PRHER2</text>
<rect x="7.20" y="212.80" width="8.70" height="8.70" fill="#35A8E0"/>
<text x="17.90" y="219.60" font-size="7.6" fill="#000">ERPR</text>
<rect x="7.20" y="222.24" width="8.70" height="8.70" fill="#1B6B38"/>
<text x="17.90" y="229.04" font-size="7.6" fill="#000">TP</text>
<text x="7.80" y="282.50" font-size="10.2" fill="#000">Patient</text>
<rect x="7.80" y="288.30" width="7.00" height="7.00" fill="#7CC47E"/>
<text x="16.80" y="294.00" font-size="7.5" fill="#000">BC1</text>
<rect x="7.80" y="295.66" width="7.00" height="7.00" fill="#BBA7D5"/>
<text x="16.80" y="301.36" font-size="7.5" fill="#000">BC10</text>
<rect x="7.80" y="303.02" width="7.00" height="7.00" fill="#FDBF87"/>
<text x="16.80" y="308.72" font-size="7.5" fill="#000">BC11</text>
<rect x="7.80" y="310.38" width="7.00" height="7.00" fill="#FEF69E"/>
<text x="16.80" y="316.08" font-size="7.5" fill="#000">BC12</text>
<rect x="7.80" y="317.74" width="7.00" height="7.00" fill="#3B6CB4"/>
<text x="16.80" y="323.44" font-size="7.5" fill="#000">BC13</text>
<rect x="7.80" y="325.10" width="7.00" height="7.00" fill="#E7158A"/>
<text x="16.80" y="330.80" font-size="7.5" fill="#000">BC14</text>
<rect x="7.80" y="332.46" width="7.00" height="7.00" fill="#BF6129"/>
<text x="16.80" y="338.16" font-size="7.5" fill="#000">BC15</text>
<rect x="7.80" y="339.82" width="7.00" height="7.00" fill="#8DD2C5"/>
<text x="16.80" y="345.52" font-size="7.5" fill="#000">BC16</text>
<rect x="7.80" y="347.18" width="7.00" height="7.00" fill="#1C9D77"/>
<text x="16.80" y="352.88" font-size="7.5" fill="#000">BC17</text>
<rect x="7.80" y="354.54" width="7.00" height="7.00" fill="#D95E1E"/>
<text x="16.80" y="360.24" font-size="7.5" fill="#000">BC18</text>
<rect x="7.80" y="361.90" width="7.00" height="7.00" fill="#7570B3"/>
<text x="16.80" y="367.60" font-size="7.5" fill="#000">BC19</text>
<rect x="7.80" y="369.26" width="7.00" height="7.00" fill="#66A641"/>
<text x="16.80" y="374.96" font-size="7.5" fill="#000">BC2</text>
<rect x="7.80" y="376.62" width="7.00" height="7.00" fill="#E5A722"/>
<text x="16.80" y="382.32" font-size="7.5" fill="#000">BC20</text>
<rect x="7.80" y="383.98" width="7.00" height="7.00" fill="#A6761D"/>
<text x="16.80" y="389.68" font-size="7.5" fill="#000">BC21</text>
<rect x="7.80" y="391.34" width="7.00" height="7.00" fill="#E7D6BA"/>
<text x="16.80" y="397.04" font-size="7.5" fill="#000">BC22</text>
<rect x="7.80" y="398.70" width="7.00" height="7.00" fill="#666666"/>
<text x="16.80" y="404.40" font-size="7.5" fill="#000">BC23</text>
<rect x="7.80" y="406.06" width="7.00" height="7.00" fill="#A7CEE4"/>
<text x="16.80" y="411.76" font-size="7.5" fill="#000">BC24</text>
<rect x="39.00" y="288.30" width="7.00" height="7.00" fill="#2CA6E0"/>
<text x="47.60" y="294.00" font-size="7.5" fill="#000">BC25</text>
<rect x="39.00" y="295.66" width="7.00" height="7.00" fill="#B2DF8A"/>
<text x="47.60" y="301.36" font-size="7.5" fill="#000">BC26</text>
<rect x="39.00" y="303.02" width="7.00" height="7.00" fill="#6A3D9A"/>
<text x="47.60" y="308.72" font-size="7.5" fill="#000">BC27</text>
<rect x="39.00" y="310.38" width="7.00" height="7.00" fill="#F39BA3"/>
<text x="47.60" y="316.08" font-size="7.5" fill="#000">BC28</text>
<rect x="39.00" y="317.74" width="7.00" height="7.00" fill="#E31A1C"/>
<text x="47.60" y="323.44" font-size="7.5" fill="#000">BC29</text>
<rect x="39.00" y="325.10" width="7.00" height="7.00" fill="#FDBF6F"/>
<text x="47.60" y="330.80" font-size="7.5" fill="#000">BC3</text>
<rect x="39.00" y="332.46" width="7.00" height="7.00" fill="#F57E21"/>
<text x="47.60" y="338.16" font-size="7.5" fill="#000">BC30</text>
<rect x="39.00" y="339.82" width="7.00" height="7.00" fill="#CAB2D6"/>
<text x="47.60" y="345.52" font-size="7.5" fill="#000">BC31</text>
<rect x="39.00" y="347.18" width="7.00" height="7.00" fill="#33A02C"/>
<text x="47.60" y="352.88" font-size="7.5" fill="#000">BC32</text>
<rect x="39.00" y="354.54" width="7.00" height="7.00" fill="#B15928"/>
<text x="47.60" y="360.24" font-size="7.5" fill="#000">BC33</text>
<rect x="39.00" y="361.90" width="7.00" height="7.00" fill="#FBB4AE"/>
<text x="47.60" y="367.60" font-size="7.5" fill="#000">BC34</text>
<rect x="39.00" y="369.26" width="7.00" height="7.00" fill="#B3CDE3"/>
<text x="47.60" y="374.96" font-size="7.5" fill="#000">BC35</text>
<rect x="39.00" y="376.62" width="7.00" height="7.00" fill="#CCEBC5"/>
<text x="47.60" y="382.32" font-size="7.5" fill="#000">BC5</text>
<rect x="39.00" y="383.98" width="7.00" height="7.00" fill="#DECBE4"/>
<text x="47.60" y="389.68" font-size="7.5" fill="#000">BC6</text>
<rect x="39.00" y="391.34" width="7.00" height="7.00" fill="#FED9A6"/>
<text x="47.60" y="397.04" font-size="7.5" fill="#000">BC7</text>
<rect x="39.00" y="398.70" width="7.00" height="7.00" fill="#FEFDD0"/>
<text x="47.60" y="404.40" font-size="7.5" fill="#000">BC9</text>
<path d="M271.50,63.00 L291.84,90.99 A34.6,34.6 0 1 1 271.50,28.40 Z" fill="#35A8E0" stroke="#111" stroke-width="0.8"/>
<path d="M271.50,63.00 L271.50,28.40 A34.6,34.6 0 0 1 306.10,63.00 Z" fill="#F8AA62" stroke="#111" stroke-width="0.8"/>
<path d="M277.50,65.60 L312.10,65.60 A34.6,34.6 0 0 1 297.84,93.59 Z" fill="#FCDC89" stroke="#111" stroke-width="0.8"/>
<text x="286.20" y="51.00" font-size="7.4" text-anchor="middle" fill="#000">TNBC</text>
<text x="255.20" y="67.70" font-size="7.4" text-anchor="middle" fill="#000">HR+</text>
<text x="296.50" y="77.90" font-size="7.4" text-anchor="middle" fill="#000">HER2</text>
<text x="237.5" y="119.1" font-size="7.6" font-weight="bold" font-style="italic">Receptor-ITH <tspan font-style="normal">= 1 - (</tspan>F/n<tspan font-style="normal">)</tspan></text>
<text x="237.2" y="134.8" font-size="7.6"><tspan font-style="italic">F</tspan> - the largest fraction of</text>
<text x="237.20" y="143.60" font-size="7.6" fill="#000">subtype from total area</text>
<text x="237.20" y="151.40" font-size="7.6" fill="#000">of tumor</text>
<text x="237.2" y="163.2" font-size="7.6"><tspan font-style="italic">n</tspan> - number of subtypes</text>
<text x="240.6" y="345.0" font-size="7.6" font-weight="bold"><tspan font-style="italic">P-ITH</tspan> = 1 - mean(<tspan font-style="italic">LowCor</tspan>)</text>
<text x="237.8" y="360.6" font-size="7.6"><tspan font-style="italic">LowCor</tspan> - lowest proteome</text>
<text x="237.80" y="369.40" font-size="7.6" fill="#000">correlation of two</text>
<text x="237.80" y="377.40" font-size="7.6" fill="#000">nonoverlapping pairs of</text>
<text x="237.80" y="385.20" font-size="7.6" fill="#000">regions</text>
<rect x="390.30" y="2.90" width="93.90" height="22.70" rx="11.35" fill="#F9ECEB"/>
<text x="437.25" y="15.90" font-size="7.7" text-anchor="middle" fill="#000">MS-based Proteomics</text>
<path d="M385.5,25.8 L385.5,193.3 L490.5,193.3" fill="none" stroke="#222" stroke-width="0.8"/>
<text x="382.90" y="194.30" font-size="7.3" text-anchor="middle" fill="#000" transform="rotate(-90 382.90 194.30)">0</text>
<text x="382.90" y="152.20" font-size="7.3" text-anchor="middle" fill="#000" transform="rotate(-90 382.90 152.20)">0.25</text>
<text x="382.90" y="114.00" font-size="7.3" text-anchor="middle" fill="#000" transform="rotate(-90 382.90 114.00)">0.5</text>
<text x="382.90" y="74.20" font-size="7.3" text-anchor="middle" fill="#000" transform="rotate(-90 382.90 74.20)">0.75</text>
<text x="382.90" y="34.20" font-size="7.3" text-anchor="middle" fill="#000" transform="rotate(-90 382.90 34.20)">1</text>
<line x1="414.30" y1="54.40" x2="414.30" y2="193.00" stroke="#aaa" stroke-width="0.8"/>
<rect x="402.20" y="70.50" width="23.70" height="59.20" fill="#87B86A" stroke="#555" stroke-width="0.6"/>
<line x1="402.20" y1="96.30" x2="425.90" y2="96.30" stroke="#3F5E36" stroke-width="1.3"/>
<line x1="461.80" y1="73.50" x2="461.80" y2="98.40" stroke="#aaa" stroke-width="0.8"/>
<rect x="450.00" y="98.40" width="23.70" height="94.90" fill="#8966AF" stroke="#555" stroke-width="0.6"/>
<line x1="450.00" y1="152.30" x2="473.70" y2="152.30" stroke="#4B3868" stroke-width="1.3"/>
<circle cx="414.80" cy="54.80" r="0.6" fill="#8a8a8a" stroke="#555" stroke-width="0.3"/>
<circle cx="414.20" cy="57.80" r="0.6" fill="#8a8a8a" stroke="#555" stroke-width="0.3"/>
<circle cx="414.90" cy="61.50" r="0.6" fill="#8a8a8a" stroke="#555" stroke-width="0.3"/>
<circle cx="414.30" cy="63.00" r="0.6" fill="#8a8a8a" stroke="#555" stroke-width="0.3"/>
<circle cx="414.50" cy="69.50" r="0.6" fill="#8a8a8a" stroke="#555" stroke-width="0.3"/>
<circle cx="411.80" cy="77.20" r="0.6" fill="#8a8a8a" stroke="#555" stroke-width="0.3"/>
<circle cx="414.90" cy="76.30" r="0.6" fill="#8a8a8a" stroke="#555" stroke-width="0.3"/>
<circle cx="414.60" cy="87.20" r="0.6" fill="#8a8a8a" stroke="#555" stroke-width="0.3"/>
<circle cx="413.50" cy="93.00" r="0.6" fill="#8a8a8a" stroke="#555" stroke-width="0.3"/>
<circle cx="414.60" cy="98.50" r="0.6" fill="#8a8a8a" stroke="#555" stroke-width="0.3"/>
<circle cx="414.40" cy="102.50" r="0.6" fill="#8a8a8a" stroke="#555" stroke-width="0.3"/>
<circle cx="413.70" cy="107.00" r="0.6" fill="#8a8a8a" stroke="#555" stroke-width="0.3"/>
<circle cx="461.10" cy="73.90" r="0.6" fill="#8a8a8a" stroke="#555" stroke-width="0.3"/>
<circle cx="461.10" cy="80.60" r="0.6" fill="#8a8a8a" stroke="#555" stroke-width="0.3"/>
<circle cx="463.20" cy="99.10" r="0.6" fill="#8a8a8a" stroke="#555" stroke-width="0.3"/>
<circle cx="461.50" cy="112.50" r="0.6" fill="#8a8a8a" stroke="#555" stroke-width="0.3"/>
<line x1="418.90" y1="44.80" x2="457.40" y2="44.80" stroke="#999" stroke-width="1.2"/>
<text x="438.20" y="41.20" font-size="7.6" text-anchor="middle" fill="#000">p = 0.12</text>
<text x="369.40" y="111.00" font-size="10.0" text-anchor="middle" fill="#000" transform="rotate(-90 369.40 111.00)">Mean Receptor−ITH</text>
<text x="413.50" y="202.60" font-size="7.6" text-anchor="middle" fill="#000">Grade 2</text>
<text x="461.50" y="202.60" font-size="7.6" text-anchor="middle" fill="#000">Grade 3</text>
<rect x="542.30" y="2.90" width="94.30" height="22.70" rx="11.35" fill="#F9ECEB"/>
<text x="589.45" y="15.90" font-size="7.7" text-anchor="middle" fill="#000">Imaging Mass Cytometry</text>
<path d="M538.5,27.7 L538.5,193.3 L642,193.3" fill="none" stroke="#222" stroke-width="0.8"/>
<text x="536.00" y="194.00" font-size="7.3" text-anchor="middle" fill="#000" transform="rotate(-90 536.00 194.00)">0</text>
<text x="536.00" y="154.10" font-size="7.3" text-anchor="middle" fill="#000" transform="rotate(-90 536.00 154.10)">0.25</text>
<text x="536.00" y="115.40" font-size="7.3" text-anchor="middle" fill="#000" transform="rotate(-90 536.00 115.40)">0.5</text>
<text x="536.00" y="75.10" font-size="7.3" text-anchor="middle" fill="#000" transform="rotate(-90 536.00 75.10)">0.75</text>
<text x="536.00" y="37.20" font-size="7.3" text-anchor="middle" fill="#000" transform="rotate(-90 536.00 37.20)">1</text>
<rect x="555.30" y="92.50" width="23.80" height="52.00" fill="#87B86A" stroke="#555" stroke-width="0.6"/>
<line x1="555.30" y1="111.50" x2="579.10" y2="111.50" stroke="#3F5E36" stroke-width="1.3"/>
<rect x="602.40" y="98.20" width="23.40" height="63.30" fill="#8966AF" stroke="#555" stroke-width="0.6"/>
<line x1="602.40" y1="128.30" x2="625.80" y2="128.30" stroke="#4B3868" stroke-width="1.3"/>
<circle cx="567.74" cy="88.25" r="0.6" fill="#7a7a7a" stroke="#444" stroke-width="0.3"/>
<circle cx="564.48" cy="89.33" r="0.6" fill="#7a7a7a" stroke="#444" stroke-width="0.3"/>
<circle cx="568.49" cy="86.59" r="0.6" fill="#7a7a7a" stroke="#444" stroke-width="0.3"/>
<circle cx="566.45" cy="84.48" r="0.6" fill="#7a7a7a" stroke="#444" stroke-width="0.3"/>
<circle cx="565.62" cy="85.28" r="0.6" fill="#7a7a7a" stroke="#444" stroke-width="0.3"/>
<circle cx="566.61" cy="85.10" r="0.6" fill="#7a7a7a" stroke="#444" stroke-width="0.3"/>
<circle cx="567.06" cy="89.30" r="0.6" fill="#7a7a7a" stroke="#444" stroke-width="0.3"/>
<circle cx="566.35" cy="84.63" r="0.6" fill="#7a7a7a" stroke="#444" stroke-width="0.3"/>
<circle cx="569.23" cy="84.56" r="0.6" fill="#7a7a7a" stroke="#444" stroke-width="0.3"/>
<circle cx="567.02" cy="85.09" r="0.6" fill="#7a7a7a" stroke="#444" stroke-width="0.3"/>
<circle cx="566.31" cy="89.03" r="0.6" fill="#7a7a7a" stroke="#444" stroke-width="0.3"/>
<circle cx="569.72" cy="87.87" r="0.6" fill="#7a7a7a" stroke="#444" stroke-width="0.3"/>
<circle cx="565.96" cy="89.45" r="0.6" fill="#7a7a7a" stroke="#444" stroke-width="0.3"/>
<circle cx="564.33" cy="85.59" r="0.6" fill="#7a7a7a" stroke="#444" stroke-width="0.3"/>
<circle cx="567.25" cy="84.80" r="0.6" fill="#7a7a7a" stroke="#444" stroke-width="0.3"/>
<circle cx="567.32" cy="87.42" r="0.6" fill="#7a7a7a" stroke="#444" stroke-width="0.3"/>
<circle cx="566.50" cy="87.87" r="0.6" fill="#7a7a7a" stroke="#444" stroke-width="0.3"/>
<circle cx="567.81" cy="86.68" r="0.6" fill="#7a7a7a" stroke="#444" stroke-width="0.3"/>
<circle cx="566.89" cy="86.69" r="0.6" fill="#7a7a7a" stroke="#444" stroke-width="0.3"/>
<circle cx="566.64" cy="83.94" r="0.6" fill="#7a7a7a" stroke="#444" stroke-width="0.3"/>
<circle cx="567.12" cy="164.14" r="0.6" fill="#7a7a7a" stroke="#444" stroke-width="0.3"/>
<circle cx="566.83" cy="168.41" r="0.6" fill="#7a7a7a" stroke="#444" stroke-width="0.3"/>
<circle cx="566.87" cy="121.65" r="0.6" fill="#7a7a7a" stroke="#444" stroke-width="0.3"/>
<circle cx="566.93" cy="88.16" r="0.6" fill="#7a7a7a" stroke="#444" stroke-width="0.3"/>
<circle cx="567.70" cy="101.85" r="0.6" fill="#7a7a7a" stroke="#444" stroke-width="0.3"/>
<circle cx="566.80" cy="164.81" r="0.6" fill="#7a7a7a" stroke="#444" stroke-width="0.3"/>
<circle cx="567.94" cy="184.49" r="0.6" fill="#7a7a7a" stroke="#444" stroke-width="0.3"/>
<circle cx="566.64" cy="120.42" r="0.6" fill="#7a7a7a" stroke="#444" stroke-width="0.3"/>
<circle cx="567.08" cy="139.03" r="0.6" fill="#7a7a7a" stroke="#444" stroke-width="0.3"/>
<circle cx="566.48" cy="163.98" r="0.6" fill="#7a7a7a" stroke="#444" stroke-width="0.3"/>
<circle cx="567.19" cy="169.48" r="0.6" fill="#7a7a7a" stroke="#444" stroke-width="0.3"/>
<circle cx="566.77" cy="186.32" r="0.6" fill="#7a7a7a" stroke="#444" stroke-width="0.3"/>
<circle cx="566.18" cy="92.59" r="0.6" fill="#7a7a7a" stroke="#444" stroke-width="0.3"/>
<circle cx="568.27" cy="183.17" r="0.6" fill="#7a7a7a" stroke="#444" stroke-width="0.3"/>
<circle cx="568.23" cy="118.81" r="0.6" fill="#7a7a7a" stroke="#444" stroke-width="0.3"/>
<circle cx="566.37" cy="115.84" r="0.6" fill="#7a7a7a" stroke="#444" stroke-width="0.3"/>
<circle cx="567.20" cy="116.31" r="0.6" fill="#7a7a7a" stroke="#444" stroke-width="0.3"/>
<circle cx="567.40" cy="98.51" r="0.6" fill="#7a7a7a" stroke="#444" stroke-width="0.3"/>
<circle cx="567.65" cy="157.33" r="0.6" fill="#7a7a7a" stroke="#444" stroke-width="0.3"/>
<circle cx="566.99" cy="88.34" r="0.6" fill="#7a7a7a" stroke="#444" stroke-width="0.3"/>
<circle cx="565.90" cy="190.98" r="0.6" fill="#7a7a7a" stroke="#444" stroke-width="0.3"/>
<circle cx="566.77" cy="107.81" r="0.6" fill="#7a7a7a" stroke="#444" stroke-width="0.3"/>
<circle cx="567.56" cy="146.70" r="0.6" fill="#7a7a7a" stroke="#444" stroke-width="0.3"/>
<circle cx="565.92" cy="127.71" r="0.6" fill="#7a7a7a" stroke="#444" stroke-width="0.3"/>
<circle cx="567.25" cy="89.04" r="0.6" fill="#7a7a7a" stroke="#444" stroke-width="0.3"/>
<circle cx="566.86" cy="135.59" r="0.6" fill="#7a7a7a" stroke="#444" stroke-width="0.3"/>
<circle cx="568.22" cy="174.14" r="0.6" fill="#7a7a7a" stroke="#444" stroke-width="0.3"/>
<circle cx="568.31" cy="186.78" r="0.6" fill="#7a7a7a" stroke="#444" stroke-width="0.3"/>
<circle cx="567.12" cy="150.76" r="0.6" fill="#7a7a7a" stroke="#444" stroke-width="0.3"/>
<circle cx="566.49" cy="129.11" r="0.6" fill="#7a7a7a" stroke="#444" stroke-width="0.3"/>
<circle cx="567.52" cy="98.55" r="0.6" fill="#7a7a7a" stroke="#444" stroke-width="0.3"/>
<circle cx="566.24" cy="131.15" r="0.6" fill="#7a7a7a" stroke="#444" stroke-width="0.3"/>
<circle cx="568.80" cy="192.42" r="0.6" fill="#7a7a7a" stroke="#444" stroke-width="0.3"/>
<circle cx="564.59" cy="131.19" r="0.6" fill="#7a7a7a" stroke="#444" stroke-width="0.3"/>
<circle cx="566.84" cy="134.99" r="0.6" fill="#7a7a7a" stroke="#444" stroke-width="0.3"/>
<circle cx="565.75" cy="113.54" r="0.6" fill="#7a7a7a" stroke="#444" stroke-width="0.3"/>
<circle cx="567.65" cy="125.75" r="0.6" fill="#7a7a7a" stroke="#444" stroke-width="0.3"/>
<circle cx="567.85" cy="191.18" r="0.6" fill="#7a7a7a" stroke="#444" stroke-width="0.3"/>
<circle cx="566.10" cy="187.92" r="0.6" fill="#7a7a7a" stroke="#444" stroke-width="0.3"/>
<circle cx="566.07" cy="118.65" r="0.6" fill="#7a7a7a" stroke="#444" stroke-width="0.3"/>
<circle cx="566.73" cy="92.39" r="0.6" fill="#7a7a7a" stroke="#444" stroke-width="0.3"/>
<circle cx="568.90" cy="177.42" r="0.6" fill="#7a7a7a" stroke="#444" stroke-width="0.3"/>
<circle cx="567.43" cy="121.13" r="0.6" fill="#7a7a7a" stroke="#444" stroke-width="0.3"/>
<circle cx="565.15" cy="157.94" r="0.6" fill="#7a7a7a" stroke="#444" stroke-width="0.3"/>
<circle cx="567.06" cy="154.52" r="0.6" fill="#7a7a7a" stroke="#444" stroke-width="0.3"/>
<circle cx="565.96" cy="159.05" r="0.6" fill="#7a7a7a" stroke="#444" stroke-width="0.3"/>
<circle cx="565.12" cy="112.45" r="0.6" fill="#7a7a7a" stroke="#444" stroke-width="0.3"/>
<circle cx="567.17" cy="157.52" r="0.6" fill="#7a7a7a" stroke="#444" stroke-width="0.3"/>
<circle cx="568.50" cy="113.84" r="0.6" fill="#7a7a7a" stroke="#444" stroke-width="0.3"/>
<circle cx="566.47" cy="145.23" r="0.6" fill="#7a7a7a" stroke="#444" stroke-width="0.3"/>
<circle cx="566.20" cy="84.81" r="0.6" fill="#7a7a7a" stroke="#444" stroke-width="0.3"/>
<circle cx="566.76" cy="155.37" r="0.6" fill="#7a7a7a" stroke="#444" stroke-width="0.3"/>
<circle cx="567.65" cy="132.22" r="0.6" fill="#7a7a7a" stroke="#444" stroke-width="0.3"/>
<circle cx="565.55" cy="169.53" r="0.6" fill="#7a7a7a" stroke="#444" stroke-width="0.3"/>
<circle cx="565.89" cy="119.67" r="0.6" fill="#7a7a7a" stroke="#444" stroke-width="0.3"/>
<circle cx="565.58" cy="172.98" r="0.6" fill="#7a7a7a" stroke="#444" stroke-width="0.3"/>
<circle cx="568.22" cy="119.90" r="0.6" fill="#7a7a7a" stroke="#444" stroke-width="0.3"/>
<circle cx="565.15" cy="157.24" r="0.6" fill="#7a7a7a" stroke="#444" stroke-width="0.3"/>
<circle cx="568.28" cy="189.78" r="0.6" fill="#7a7a7a" stroke="#444" stroke-width="0.3"/>
<circle cx="566.64" cy="139.54" r="0.6" fill="#7a7a7a" stroke="#444" stroke-width="0.3"/>
<circle cx="568.34" cy="100.31" r="0.6" fill="#7a7a7a" stroke="#444" stroke-width="0.3"/>
<circle cx="564.78" cy="133.79" r="0.6" fill="#7a7a7a" stroke="#444" stroke-width="0.3"/>
<circle cx="566.66" cy="157.58" r="0.6" fill="#7a7a7a" stroke="#444" stroke-width="0.3"/>
<circle cx="565.25" cy="100.90" r="0.6" fill="#7a7a7a" stroke="#444" stroke-width="0.3"/>
<circle cx="565.58" cy="167.58" r="0.6" fill="#7a7a7a" stroke="#444" stroke-width="0.3"/>
<circle cx="566.21" cy="127.60" r="0.6" fill="#7a7a7a" stroke="#444" stroke-width="0.3"/>
<circle cx="567.24" cy="150.02" r="0.6" fill="#7a7a7a" stroke="#444" stroke-width="0.3"/>
<circle cx="565.45" cy="160.84" r="0.6" fill="#7a7a7a" stroke="#444" stroke-width="0.3"/>
<circle cx="567.64" cy="86.31" r="0.6" fill="#7a7a7a" stroke="#444" stroke-width="0.3"/>
<circle cx="568.00" cy="152.96" r="0.6" fill="#7a7a7a" stroke="#444" stroke-width="0.3"/>
<circle cx="566.39" cy="105.87" r="0.6" fill="#7a7a7a" stroke="#444" stroke-width="0.3"/>
<circle cx="565.57" cy="87.68" r="0.6" fill="#7a7a7a" stroke="#444" stroke-width="0.3"/>
<circle cx="567.05" cy="133.17" r="0.6" fill="#7a7a7a" stroke="#444" stroke-width="0.3"/>
<circle cx="567.36" cy="96.92" r="0.6" fill="#7a7a7a" stroke="#444" stroke-width="0.3"/>
<circle cx="567.30" cy="116.37" r="0.6" fill="#7a7a7a" stroke="#444" stroke-width="0.3"/>
<circle cx="567.66" cy="87.08" r="0.6" fill="#7a7a7a" stroke="#444" stroke-width="0.3"/>
<circle cx="565.89" cy="132.48" r="0.6" fill="#7a7a7a" stroke="#444" stroke-width="0.3"/>
<circle cx="568.03" cy="146.28" r="0.6" fill="#7a7a7a" stroke="#444" stroke-width="0.3"/>
<circle cx="567.03" cy="107.86" r="0.6" fill="#7a7a7a" stroke="#444" stroke-width="0.3"/>
<circle cx="566.98" cy="125.92" r="0.6" fill="#7a7a7a" stroke="#444" stroke-width="0.3"/>
<circle cx="566.54" cy="112.20" r="0.6" fill="#7a7a7a" stroke="#444" stroke-width="0.3"/>
<circle cx="567.29" cy="173.34" r="0.6" fill="#7a7a7a" stroke="#444" stroke-width="0.3"/>
<circle cx="568.48" cy="122.49" r="0.6" fill="#7a7a7a" stroke="#444" stroke-width="0.3"/>
<circle cx="567.34" cy="92.96" r="0.6" fill="#7a7a7a" stroke="#444" stroke-width="0.3"/>
<circle cx="566.23" cy="141.30" r="0.6" fill="#7a7a7a" stroke="#444" stroke-width="0.3"/>
<circle cx="568.23" cy="187.75" r="0.6" fill="#7a7a7a" stroke="#444" stroke-width="0.3"/>
<circle cx="565.24" cy="171.89" r="0.6" fill="#7a7a7a" stroke="#444" stroke-width="0.3"/>
<circle cx="567.98" cy="152.09" r="0.6" fill="#7a7a7a" stroke="#444" stroke-width="0.3"/>
<circle cx="567.93" cy="122.01" r="0.6" fill="#7a7a7a" stroke="#444" stroke-width="0.3"/>
<circle cx="568.15" cy="143.36" r="0.6" fill="#7a7a7a" stroke="#444" stroke-width="0.3"/>
<circle cx="568.48" cy="187.62" r="0.6" fill="#7a7a7a" stroke="#444" stroke-width="0.3"/>
<circle cx="566.70" cy="120.02" r="0.6" fill="#7a7a7a" stroke="#444" stroke-width="0.3"/>
<circle cx="567.53" cy="180.37" r="0.6" fill="#7a7a7a" stroke="#444" stroke-width="0.3"/>
<circle cx="567.00" cy="143.58" r="0.6" fill="#7a7a7a" stroke="#444" stroke-width="0.3"/>
<circle cx="567.98" cy="149.06" r="0.6" fill="#7a7a7a" stroke="#444" stroke-width="0.3"/>
<circle cx="568.20" cy="180.13" r="0.6" fill="#7a7a7a" stroke="#444" stroke-width="0.3"/>
<circle cx="566.28" cy="122.70" r="0.6" fill="#7a7a7a" stroke="#444" stroke-width="0.3"/>
<circle cx="567.33" cy="113.59" r="0.6" fill="#7a7a7a" stroke="#444" stroke-width="0.3"/>
<circle cx="564.96" cy="189.36" r="0.6" fill="#7a7a7a" stroke="#444" stroke-width="0.3"/>
<circle cx="568.92" cy="182.68" r="0.6" fill="#7a7a7a" stroke="#444" stroke-width="0.3"/>
<circle cx="566.81" cy="146.91" r="0.6" fill="#7a7a7a" stroke="#444" stroke-width="0.3"/>
<circle cx="570.09" cy="135.89" r="0.6" fill="#7a7a7a" stroke="#444" stroke-width="0.3"/>
<circle cx="565.67" cy="127.02" r="0.6" fill="#7a7a7a" stroke="#444" stroke-width="0.3"/>
<circle cx="569.88" cy="135.39" r="0.6" fill="#7a7a7a" stroke="#444" stroke-width="0.3"/>
<circle cx="566.45" cy="113.04" r="0.6" fill="#7a7a7a" stroke="#444" stroke-width="0.3"/>
<circle cx="567.08" cy="149.79" r="0.6" fill="#7a7a7a" stroke="#444" stroke-width="0.3"/>
<circle cx="566.49" cy="130.08" r="0.6" fill="#7a7a7a" stroke="#444" stroke-width="0.3"/>
<circle cx="568.85" cy="172.82" r="0.6" fill="#7a7a7a" stroke="#444" stroke-width="0.3"/>
<circle cx="566.14" cy="84.96" r="0.6" fill="#7a7a7a" stroke="#444" stroke-width="0.3"/>
<circle cx="566.82" cy="185.12" r="0.6" fill="#7a7a7a" stroke="#444" stroke-width="0.3"/>
<circle cx="567.02" cy="167.75" r="0.6" fill="#7a7a7a" stroke="#444" stroke-width="0.3"/>
<circle cx="567.87" cy="99.12" r="0.6" fill="#7a7a7a" stroke="#444" stroke-width="0.3"/>
<circle cx="566.60" cy="191.22" r="0.6" fill="#7a7a7a" stroke="#444" stroke-width="0.3"/>
<circle cx="568.45" cy="133.51" r="0.6" fill="#7a7a7a" stroke="#444" stroke-width="0.3"/>
<circle cx="565.56" cy="152.38" r="0.6" fill="#7a7a7a" stroke="#444" stroke-width="0.3"/>
<circle cx="565.90" cy="95.35" r="0.6" fill="#7a7a7a" stroke="#444" stroke-width="0.3"/>
<circle cx="566.57" cy="165.33" r="0.6" fill="#7a7a7a" stroke="#444" stroke-width="0.3"/>
<circle cx="568.29" cy="118.40" r="0.6" fill="#7a7a7a" stroke="#444" stroke-width="0.3"/>
<circle cx="565.79" cy="114.16" r="0.6" fill="#7a7a7a" stroke="#444" stroke-width="0.3"/>
<circle cx="566.77" cy="121.10" r="0.6" fill="#7a7a7a" stroke="#444" stroke-width="0.3"/>
<circle cx="566.75" cy="163.60" r="0.6" fill="#7a7a7a" stroke="#444" stroke-width="0.3"/>
<circle cx="566.84" cy="109.41" r="0.6" fill="#7a7a7a" stroke="#444" stroke-width="0.3"/>
<circle cx="568.99" cy="131.42" r="0.6" fill="#7a7a7a" stroke="#444" stroke-width="0.3"/>
<circle cx="565.85" cy="141.34" r="0.6" fill="#7a7a7a" stroke="#444" stroke-width="0.3"/>
<circle cx="567.21" cy="85.08" r="0.6" fill="#7a7a7a" stroke="#444" stroke-width="0.3"/>
<circle cx="565.86" cy="144.67" r="0.6" fill="#7a7a7a" stroke="#444" stroke-width="0.3"/>
<circle cx="566.15" cy="159.46" r="0.6" fill="#7a7a7a" stroke="#444" stroke-width="0.3"/>
<circle cx="566.07" cy="182.45" r="0.6" fill="#7a7a7a" stroke="#444" stroke-width="0.3"/>
<circle cx="565.33" cy="123.75" r="0.6" fill="#7a7a7a" stroke="#444" stroke-width="0.3"/>
<circle cx="568.35" cy="103.49" r="0.6" fill="#7a7a7a" stroke="#444" stroke-width="0.3"/>
<circle cx="567.20" cy="114.12" r="0.6" fill="#7a7a7a" stroke="#444" stroke-width="0.3"/>
<circle cx="566.64" cy="173.89" r="0.6" fill="#7a7a7a" stroke="#444" stroke-width="0.3"/>
<circle cx="566.18" cy="157.94" r="0.6" fill="#7a7a7a" stroke="#444" stroke-width="0.3"/>
<circle cx="567.37" cy="167.62" r="0.6" fill="#7a7a7a" stroke="#444" stroke-width="0.3"/>
<circle cx="567.78" cy="182.33" r="0.6" fill="#7a7a7a" stroke="#444" stroke-width="0.3"/>
<circle cx="567.98" cy="141.72" r="0.6" fill="#7a7a7a" stroke="#444" stroke-width="0.3"/>
<circle cx="566.69" cy="136.04" r="0.6" fill="#7a7a7a" stroke="#444" stroke-width="0.3"/>
<circle cx="567.56" cy="145.80" r="0.6" fill="#7a7a7a" stroke="#444" stroke-width="0.3"/>
<circle cx="567.72" cy="171.13" r="0.6" fill="#7a7a7a" stroke="#444" stroke-width="0.3"/>
<circle cx="567.33" cy="172.01" r="0.6" fill="#7a7a7a" stroke="#444" stroke-width="0.3"/>
<circle cx="566.87" cy="168.86" r="0.6" fill="#7a7a7a" stroke="#444" stroke-width="0.3"/>
<circle cx="566.79" cy="161.08" r="0.6" fill="#7a7a7a" stroke="#444" stroke-width="0.3"/>
<circle cx="568.71" cy="190.07" r="0.6" fill="#7a7a7a" stroke="#444" stroke-width="0.3"/>
<circle cx="566.98" cy="88.37" r="0.6" fill="#7a7a7a" stroke="#444" stroke-width="0.3"/>
<circle cx="567.30" cy="174.55" r="0.6" fill="#7a7a7a" stroke="#444" stroke-width="0.3"/>
<circle cx="568.56" cy="187.06" r="0.6" fill="#7a7a7a" stroke="#444" stroke-width="0.3"/>
<circle cx="567.61" cy="159.94" r="0.6" fill="#7a7a7a" stroke="#444" stroke-width="0.3"/>
<circle cx="567.68" cy="183.16" r="0.6" fill="#7a7a7a" stroke="#444" stroke-width="0.3"/>
<circle cx="566.13" cy="98.60" r="0.6" fill="#7a7a7a" stroke="#444" stroke-width="0.3"/>
<circle cx="566.27" cy="99.79" r="0.6" fill="#7a7a7a" stroke="#444" stroke-width="0.3"/>
<circle cx="567.51" cy="149.87" r="0.6" fill="#7a7a7a" stroke="#444" stroke-width="0.3"/>
<circle cx="567.14" cy="123.07" r="0.6" fill="#7a7a7a" stroke="#444" stroke-width="0.3"/>
<circle cx="568.35" cy="90.66" r="0.6" fill="#7a7a7a" stroke="#444" stroke-width="0.3"/>
<circle cx="567.51" cy="163.30" r="0.6" fill="#7a7a7a" stroke="#444" stroke-width="0.3"/>
<circle cx="567.78" cy="178.67" r="0.6" fill="#7a7a7a" stroke="#444" stroke-width="0.3"/>
<circle cx="567.87" cy="116.07" r="0.6" fill="#7a7a7a" stroke="#444" stroke-width="0.3"/>
<circle cx="564.41" cy="147.40" r="0.6" fill="#7a7a7a" stroke="#444" stroke-width="0.3"/>
<circle cx="567.17" cy="122.52" r="0.6" fill="#7a7a7a" stroke="#444" stroke-width="0.3"/>
<circle cx="566.80" cy="89.05" r="0.6" fill="#7a7a7a" stroke="#444" stroke-width="0.3"/>
<circle cx="566.40" cy="150.87" r="0.6" fill="#7a7a7a" stroke="#444" stroke-width="0.3"/>
<circle cx="568.18" cy="136.94" r="0.6" fill="#7a7a7a" stroke="#444" stroke-width="0.3"/>
<circle cx="566.25" cy="149.70" r="0.6" fill="#7a7a7a" stroke="#444" stroke-width="0.3"/>
<circle cx="566.20" cy="110.57" r="0.6" fill="#7a7a7a" stroke="#444" stroke-width="0.3"/>
<circle cx="566.73" cy="164.23" r="0.6" fill="#7a7a7a" stroke="#444" stroke-width="0.3"/>
<circle cx="567.54" cy="138.17" r="0.6" fill="#7a7a7a" stroke="#444" stroke-width="0.3"/>
<circle cx="567.60" cy="122.20" r="0.6" fill="#7a7a7a" stroke="#444" stroke-width="0.3"/>
<circle cx="567.75" cy="162.67" r="0.6" fill="#7a7a7a" stroke="#444" stroke-width="0.3"/>
<circle cx="568.57" cy="153.51" r="0.6" fill="#7a7a7a" stroke="#444" stroke-width="0.3"/>
<circle cx="566.76" cy="91.99" r="0.6" fill="#7a7a7a" stroke="#444" stroke-width="0.3"/>
<circle cx="566.58" cy="96.02" r="0.6" fill="#7a7a7a" stroke="#444" stroke-width="0.3"/>
<circle cx="567.16" cy="146.71" r="0.6" fill="#7a7a7a" stroke="#444" stroke-width="0.3"/>
<circle cx="569.25" cy="134.15" r="0.6" fill="#7a7a7a" stroke="#444" stroke-width="0.3"/>
<circle cx="567.08" cy="117.01" r="0.6" fill="#7a7a7a" stroke="#444" stroke-width="0.3"/>
<circle cx="566.74" cy="161.35" r="0.6" fill="#7a7a7a" stroke="#444" stroke-width="0.3"/>
<circle cx="568.58" cy="88.84" r="0.6" fill="#7a7a7a" stroke="#444" stroke-width="0.3"/>
<circle cx="616.70" cy="84.84" r="0.6" fill="#7a7a7a" stroke="#444" stroke-width="0.3"/>
<circle cx="613.46" cy="89.34" r="0.6" fill="#7a7a7a" stroke="#444" stroke-width="0.3"/>
<circle cx="612.74" cy="87.25" r="0.6" fill="#7a7a7a" stroke="#444" stroke-width="0.3"/>
<circle cx="613.74" cy="84.91" r="0.6" fill="#7a7a7a" stroke="#444" stroke-width="0.3"/>
<circle cx="615.81" cy="85.81" r="0.6" fill="#7a7a7a" stroke="#444" stroke-width="0.3"/>
<circle cx="613.31" cy="88.49" r="0.6" fill="#7a7a7a" stroke="#444" stroke-width="0.3"/>
<circle cx="612.91" cy="88.61" r="0.6" fill="#7a7a7a" stroke="#444" stroke-width="0.3"/>
<circle cx="612.88" cy="87.06" r="0.6" fill="#7a7a7a" stroke="#444" stroke-width="0.3"/>
<circle cx="613.70" cy="84.08" r="0.6" fill="#7a7a7a" stroke="#444" stroke-width="0.3"/>
<circle cx="616.74" cy="84.71" r="0.6" fill="#7a7a7a" stroke="#444" stroke-width="0.3"/>
<circle cx="615.07" cy="88.06" r="0.6" fill="#7a7a7a" stroke="#444" stroke-width="0.3"/>
<circle cx="615.68" cy="86.32" r="0.6" fill="#7a7a7a" stroke="#444" stroke-width="0.3"/>
<circle cx="613.52" cy="86.29" r="0.6" fill="#7a7a7a" stroke="#444" stroke-width="0.3"/>
<circle cx="615.08" cy="84.43" r="0.6" fill="#7a7a7a" stroke="#444" stroke-width="0.3"/>
<circle cx="615.40" cy="88.78" r="0.6" fill="#7a7a7a" stroke="#444" stroke-width="0.3"/>
<circle cx="614.39" cy="85.02" r="0.6" fill="#7a7a7a" stroke="#444" stroke-width="0.3"/>
<circle cx="615.14" cy="84.91" r="0.6" fill="#7a7a7a" stroke="#444" stroke-width="0.3"/>
<circle cx="615.44" cy="83.69" r="0.6" fill="#7a7a7a" stroke="#444" stroke-width="0.3"/>
<circle cx="614.02" cy="185.73" r="0.6" fill="#7a7a7a" stroke="#444" stroke-width="0.3"/>
<circle cx="613.93" cy="158.43" r="0.6" fill="#7a7a7a" stroke="#444" stroke-width="0.3"/>
<circle cx="613.40" cy="186.54" r="0.6" fill="#7a7a7a" stroke="#444" stroke-width="0.3"/>
<circle cx="614.05" cy="96.26" r="0.6" fill="#7a7a7a" stroke="#444" stroke-width="0.3"/>
<circle cx="613.70" cy="156.98" r="0.6" fill="#7a7a7a" stroke="#444" stroke-width="0.3"/>
<circle cx="614.88" cy="162.97" r="0.6" fill="#7a7a7a" stroke="#444" stroke-width="0.3"/>
<circle cx="615.13" cy="86.12" r="0.6" fill="#7a7a7a" stroke="#444" stroke-width="0.3"/>
<circle cx="615.48" cy="108.54" r="0.6" fill="#7a7a7a" stroke="#444" stroke-width="0.3"/>
<circle cx="615.03" cy="189.62" r="0.6" fill="#7a7a7a" stroke="#444" stroke-width="0.3"/>
<circle cx="614.03" cy="123.14" r="0.6" fill="#7a7a7a" stroke="#444" stroke-width="0.3"/>
<circle cx="615.64" cy="114.29" r="0.6" fill="#7a7a7a" stroke="#444" stroke-width="0.3"/>
<circle cx="614.37" cy="163.30" r="0.6" fill="#7a7a7a" stroke="#444" stroke-width="0.3"/>
<circle cx="613.86" cy="109.64" r="0.6" fill="#7a7a7a" stroke="#444" stroke-width="0.3"/>
<circle cx="615.98" cy="156.74" r="0.6" fill="#7a7a7a" stroke="#444" stroke-width="0.3"/>
<circle cx="613.92" cy="130.38" r="0.6" fill="#7a7a7a" stroke="#444" stroke-width="0.3"/>
<circle cx="614.89" cy="189.82" r="0.6" fill="#7a7a7a" stroke="#444" stroke-width="0.3"/>
<circle cx="614.52" cy="168.42" r="0.6" fill="#7a7a7a" stroke="#444" stroke-width="0.3"/>
<circle cx="615.83" cy="128.15" r="0.6" fill="#7a7a7a" stroke="#444" stroke-width="0.3"/>
<circle cx="614.89" cy="191.37" r="0.6" fill="#7a7a7a" stroke="#444" stroke-width="0.3"/>
<circle cx="614.21" cy="140.02" r="0.6" fill="#7a7a7a" stroke="#444" stroke-width="0.3"/>
<circle cx="614.89" cy="91.17" r="0.6" fill="#7a7a7a" stroke="#444" stroke-width="0.3"/>
<circle cx="611.93" cy="181.46" r="0.6" fill="#7a7a7a" stroke="#444" stroke-width="0.3"/>
<circle cx="614.64" cy="89.27" r="0.6" fill="#7a7a7a" stroke="#444" stroke-width="0.3"/>
<circle cx="615.55" cy="109.96" r="0.6" fill="#7a7a7a" stroke="#444" stroke-width="0.3"/>
<circle cx="614.85" cy="89.96" r="0.6" fill="#7a7a7a" stroke="#444" stroke-width="0.3"/>
<circle cx="613.71" cy="111.27" r="0.6" fill="#7a7a7a" stroke="#444" stroke-width="0.3"/>
<circle cx="615.02" cy="89.00" r="0.6" fill="#7a7a7a" stroke="#444" stroke-width="0.3"/>
<circle cx="615.18" cy="87.50" r="0.6" fill="#7a7a7a" stroke="#444" stroke-width="0.3"/>
<circle cx="614.38" cy="138.89" r="0.6" fill="#7a7a7a" stroke="#444" stroke-width="0.3"/>
<circle cx="614.05" cy="127.30" r="0.6" fill="#7a7a7a" stroke="#444" stroke-width="0.3"/>
<circle cx="614.41" cy="117.65" r="0.6" fill="#7a7a7a" stroke="#444" stroke-width="0.3"/>
<circle cx="612.11" cy="95.18" r="0.6" fill="#7a7a7a" stroke="#444" stroke-width="0.3"/>
<circle cx="613.85" cy="148.67" r="0.6" fill="#7a7a7a" stroke="#444" stroke-width="0.3"/>
<circle cx="614.55" cy="176.87" r="0.6" fill="#7a7a7a" stroke="#444" stroke-width="0.3"/>
<circle cx="614.70" cy="142.27" r="0.6" fill="#7a7a7a" stroke="#444" stroke-width="0.3"/>
<circle cx="613.54" cy="136.48" r="0.6" fill="#7a7a7a" stroke="#444" stroke-width="0.3"/>
<circle cx="614.04" cy="151.60" r="0.6" fill="#7a7a7a" stroke="#444" stroke-width="0.3"/>
<circle cx="615.31" cy="162.57" r="0.6" fill="#7a7a7a" stroke="#444" stroke-width="0.3"/>
<circle cx="614.01" cy="132.39" r="0.6" fill="#7a7a7a" stroke="#444" stroke-width="0.3"/>
<circle cx="614.59" cy="173.56" r="0.6" fill="#7a7a7a" stroke="#444" stroke-width="0.3"/>
<circle cx="615.04" cy="117.41" r="0.6" fill="#7a7a7a" stroke="#444" stroke-width="0.3"/>
<circle cx="614.79" cy="92.96" r="0.6" fill="#7a7a7a" stroke="#444" stroke-width="0.3"/>
<circle cx="612.48" cy="117.53" r="0.6" fill="#7a7a7a" stroke="#444" stroke-width="0.3"/>
<circle cx="615.22" cy="97.56" r="0.6" fill="#7a7a7a" stroke="#444" stroke-width="0.3"/>
<circle cx="614.91" cy="92.60" r="0.6" fill="#7a7a7a" stroke="#444" stroke-width="0.3"/>
<circle cx="613.77" cy="130.17" r="0.6" fill="#7a7a7a" stroke="#444" stroke-width="0.3"/>
<circle cx="614.12" cy="90.10" r="0.6" fill="#7a7a7a" stroke="#444" stroke-width="0.3"/>
<circle cx="615.20" cy="159.84" r="0.6" fill="#7a7a7a" stroke="#444" stroke-width="0.3"/>
<circle cx="614.72" cy="114.60" r="0.6" fill="#7a7a7a" stroke="#444" stroke-width="0.3"/>
<circle cx="615.44" cy="124.18" r="0.6" fill="#7a7a7a" stroke="#444" stroke-width="0.3"/>
<circle cx="615.17" cy="117.65" r="0.6" fill="#7a7a7a" stroke="#444" stroke-width="0.3"/>
<circle cx="612.30" cy="165.48" r="0.6" fill="#7a7a7a" stroke="#444" stroke-width="0.3"/>
<circle cx="613.69" cy="154.76" r="0.6" fill="#7a7a7a" stroke="#444" stroke-width="0.3"/>
<circle cx="613.44" cy="166.29" r="0.6" fill="#7a7a7a" stroke="#444" stroke-width="0.3"/>
<circle cx="613.96" cy="172.51" r="0.6" fill="#7a7a7a" stroke="#444" stroke-width="0.3"/>
<circle cx="616.20" cy="154.91" r="0.6" fill="#7a7a7a" stroke="#444" stroke-width="0.3"/>
<circle cx="614.00" cy="159.90" r="0.6" fill="#7a7a7a" stroke="#444" stroke-width="0.3"/>
<circle cx="614.91" cy="112.61" r="0.6" fill="#7a7a7a" stroke="#444" stroke-width="0.3"/>
<circle cx="613.50" cy="97.61" r="0.6" fill="#7a7a7a" stroke="#444" stroke-width="0.3"/>
<circle cx="614.92" cy="90.59" r="0.6" fill="#7a7a7a" stroke="#444" stroke-width="0.3"/>
<circle cx="615.25" cy="157.14" r="0.6" fill="#7a7a7a" stroke="#444" stroke-width="0.3"/>
<circle cx="616.22" cy="114.55" r="0.6" fill="#7a7a7a" stroke="#444" stroke-width="0.3"/>
<circle cx="615.23" cy="144.19" r="0.6" fill="#7a7a7a" stroke="#444" stroke-width="0.3"/>
<circle cx="615.05" cy="86.40" r="0.6" fill="#7a7a7a" stroke="#444" stroke-width="0.3"/>
<circle cx="614.68" cy="122.36" r="0.6" fill="#7a7a7a" stroke="#444" stroke-width="0.3"/>
<circle cx="615.94" cy="177.20" r="0.6" fill="#7a7a7a" stroke="#444" stroke-width="0.3"/>
<circle cx="614.03" cy="108.61" r="0.6" fill="#7a7a7a" stroke="#444" stroke-width="0.3"/>
<circle cx="613.86" cy="130.19" r="0.6" fill="#7a7a7a" stroke="#444" stroke-width="0.3"/>
<circle cx="615.25" cy="84.76" r="0.6" fill="#7a7a7a" stroke="#444" stroke-width="0.3"/>
<circle cx="615.32" cy="147.16" r="0.6" fill="#7a7a7a" stroke="#444" stroke-width="0.3"/>
<circle cx="612.93" cy="93.80" r="0.6" fill="#7a7a7a" stroke="#444" stroke-width="0.3"/>
<circle cx="615.32" cy="141.26" r="0.6" fill="#7a7a7a" stroke="#444" stroke-width="0.3"/>
<circle cx="616.02" cy="132.08" r="0.6" fill="#7a7a7a" stroke="#444" stroke-width="0.3"/>
<circle cx="614.65" cy="185.79" r="0.6" fill="#7a7a7a" stroke="#444" stroke-width="0.3"/>
<circle cx="613.97" cy="117.99" r="0.6" fill="#7a7a7a" stroke="#444" stroke-width="0.3"/>
<circle cx="613.36" cy="183.23" r="0.6" fill="#7a7a7a" stroke="#444" stroke-width="0.3"/>
<circle cx="614.78" cy="131.56" r="0.6" fill="#7a7a7a" stroke="#444" stroke-width="0.3"/>
<circle cx="615.75" cy="167.13" r="0.6" fill="#7a7a7a" stroke="#444" stroke-width="0.3"/>
<circle cx="613.97" cy="189.19" r="0.6" fill="#7a7a7a" stroke="#444" stroke-width="0.3"/>
<circle cx="616.11" cy="148.43" r="0.6" fill="#7a7a7a" stroke="#444" stroke-width="0.3"/>
<circle cx="615.72" cy="129.16" r="0.6" fill="#7a7a7a" stroke="#444" stroke-width="0.3"/>
<circle cx="614.78" cy="89.11" r="0.6" fill="#7a7a7a" stroke="#444" stroke-width="0.3"/>
<circle cx="614.46" cy="146.35" r="0.6" fill="#7a7a7a" stroke="#444" stroke-width="0.3"/>
<circle cx="615.31" cy="135.99" r="0.6" fill="#7a7a7a" stroke="#444" stroke-width="0.3"/>
<circle cx="613.76" cy="106.92" r="0.6" fill="#7a7a7a" stroke="#444" stroke-width="0.3"/>
<circle cx="614.93" cy="113.63" r="0.6" fill="#7a7a7a" stroke="#444" stroke-width="0.3"/>
<circle cx="615.85" cy="122.35" r="0.6" fill="#7a7a7a" stroke="#444" stroke-width="0.3"/>
<circle cx="614.55" cy="165.34" r="0.6" fill="#7a7a7a" stroke="#444" stroke-width="0.3"/>
<circle cx="615.52" cy="110.48" r="0.6" fill="#7a7a7a" stroke="#444" stroke-width="0.3"/>
<circle cx="615.65" cy="190.58" r="0.6" fill="#7a7a7a" stroke="#444" stroke-width="0.3"/>
<circle cx="612.69" cy="150.84" r="0.6" fill="#7a7a7a" stroke="#444" stroke-width="0.3"/>
<circle cx="615.79" cy="127.13" r="0.6" fill="#7a7a7a" stroke="#444" stroke-width="0.3"/>
<circle cx="616.13" cy="136.87" r="0.6" fill="#7a7a7a" stroke="#444" stroke-width="0.3"/>
<circle cx="614.74" cy="87.52" r="0.6" fill="#7a7a7a" stroke="#444" stroke-width="0.3"/>
<circle cx="614.94" cy="161.70" r="0.6" fill="#7a7a7a" stroke="#444" stroke-width="0.3"/>
<circle cx="615.12" cy="181.61" r="0.6" fill="#7a7a7a" stroke="#444" stroke-width="0.3"/>
<circle cx="616.37" cy="118.75" r="0.6" fill="#7a7a7a" stroke="#444" stroke-width="0.3"/>
<circle cx="615.50" cy="157.90" r="0.6" fill="#7a7a7a" stroke="#444" stroke-width="0.3"/>
<circle cx="613.34" cy="170.72" r="0.6" fill="#7a7a7a" stroke="#444" stroke-width="0.3"/>
<circle cx="615.81" cy="124.47" r="0.6" fill="#7a7a7a" stroke="#444" stroke-width="0.3"/>
<circle cx="614.58" cy="147.41" r="0.6" fill="#7a7a7a" stroke="#444" stroke-width="0.3"/>
<circle cx="613.76" cy="103.56" r="0.6" fill="#7a7a7a" stroke="#444" stroke-width="0.3"/>
<circle cx="615.12" cy="86.35" r="0.6" fill="#7a7a7a" stroke="#444" stroke-width="0.3"/>
<circle cx="613.57" cy="117.45" r="0.6" fill="#7a7a7a" stroke="#444" stroke-width="0.3"/>
<circle cx="615.34" cy="160.14" r="0.6" fill="#7a7a7a" stroke="#444" stroke-width="0.3"/>
<circle cx="616.51" cy="126.94" r="0.6" fill="#7a7a7a" stroke="#444" stroke-width="0.3"/>
<circle cx="614.28" cy="184.20" r="0.6" fill="#7a7a7a" stroke="#444" stroke-width="0.3"/>
<circle cx="613.84" cy="158.99" r="0.6" fill="#7a7a7a" stroke="#444" stroke-width="0.3"/>
<circle cx="613.30" cy="170.54" r="0.6" fill="#7a7a7a" stroke="#444" stroke-width="0.3"/>
<circle cx="613.12" cy="122.98" r="0.6" fill="#7a7a7a" stroke="#444" stroke-width="0.3"/>
<circle cx="613.58" cy="140.37" r="0.6" fill="#7a7a7a" stroke="#444" stroke-width="0.3"/>
<circle cx="614.92" cy="114.40" r="0.6" fill="#7a7a7a" stroke="#444" stroke-width="0.3"/>
<circle cx="614.72" cy="122.23" r="0.6" fill="#7a7a7a" stroke="#444" stroke-width="0.3"/>
<circle cx="614.61" cy="146.72" r="0.6" fill="#7a7a7a" stroke="#444" stroke-width="0.3"/>
<circle cx="612.76" cy="116.87" r="0.6" fill="#7a7a7a" stroke="#444" stroke-width="0.3"/>
<circle cx="614.23" cy="184.77" r="0.6" fill="#7a7a7a" stroke="#444" stroke-width="0.3"/>
<circle cx="616.22" cy="91.26" r="0.6" fill="#7a7a7a" stroke="#444" stroke-width="0.3"/>
<circle cx="613.17" cy="165.60" r="0.6" fill="#7a7a7a" stroke="#444" stroke-width="0.3"/>
<circle cx="612.08" cy="181.28" r="0.6" fill="#7a7a7a" stroke="#444" stroke-width="0.3"/>
<circle cx="615.45" cy="158.43" r="0.6" fill="#7a7a7a" stroke="#444" stroke-width="0.3"/>
<circle cx="612.97" cy="150.06" r="0.6" fill="#7a7a7a" stroke="#444" stroke-width="0.3"/>
<circle cx="612.17" cy="106.17" r="0.6" fill="#7a7a7a" stroke="#444" stroke-width="0.3"/>
<circle cx="614.25" cy="109.48" r="0.6" fill="#7a7a7a" stroke="#444" stroke-width="0.3"/>
<circle cx="613.44" cy="189.74" r="0.6" fill="#7a7a7a" stroke="#444" stroke-width="0.3"/>
<circle cx="614.20" cy="83.72" r="0.6" fill="#7a7a7a" stroke="#444" stroke-width="0.3"/>
<circle cx="615.20" cy="125.97" r="0.6" fill="#7a7a7a" stroke="#444" stroke-width="0.3"/>
<circle cx="615.94" cy="181.54" r="0.6" fill="#7a7a7a" stroke="#444" stroke-width="0.3"/>
<circle cx="613.68" cy="182.70" r="0.6" fill="#7a7a7a" stroke="#444" stroke-width="0.3"/>
<circle cx="613.79" cy="95.28" r="0.6" fill="#7a7a7a" stroke="#444" stroke-width="0.3"/>
<circle cx="612.85" cy="158.55" r="0.6" fill="#7a7a7a" stroke="#444" stroke-width="0.3"/>
<circle cx="613.93" cy="124.21" r="0.6" fill="#7a7a7a" stroke="#444" stroke-width="0.3"/>
<circle cx="614.72" cy="180.15" r="0.6" fill="#7a7a7a" stroke="#444" stroke-width="0.3"/>
<circle cx="615.41" cy="112.60" r="0.6" fill="#7a7a7a" stroke="#444" stroke-width="0.3"/>
<circle cx="615.03" cy="151.28" r="0.6" fill="#7a7a7a" stroke="#444" stroke-width="0.3"/>
<circle cx="614.10" cy="152.44" r="0.6" fill="#7a7a7a" stroke="#444" stroke-width="0.3"/>
<circle cx="614.56" cy="167.02" r="0.6" fill="#7a7a7a" stroke="#444" stroke-width="0.3"/>
<circle cx="614.89" cy="145.14" r="0.6" fill="#7a7a7a" stroke="#444" stroke-width="0.3"/>
<circle cx="615.78" cy="173.98" r="0.6" fill="#7a7a7a" stroke="#444" stroke-width="0.3"/>
<circle cx="613.27" cy="128.88" r="0.6" fill="#7a7a7a" stroke="#444" stroke-width="0.3"/>
<circle cx="612.15" cy="129.81" r="0.6" fill="#7a7a7a" stroke="#444" stroke-width="0.3"/>
<circle cx="614.07" cy="116.38" r="0.6" fill="#7a7a7a" stroke="#444" stroke-width="0.3"/>
<circle cx="612.24" cy="114.03" r="0.6" fill="#7a7a7a" stroke="#444" stroke-width="0.3"/>
<circle cx="612.74" cy="103.83" r="0.6" fill="#7a7a7a" stroke="#444" stroke-width="0.3"/>
<circle cx="615.56" cy="86.73" r="0.6" fill="#7a7a7a" stroke="#444" stroke-width="0.3"/>
<circle cx="615.44" cy="149.24" r="0.6" fill="#7a7a7a" stroke="#444" stroke-width="0.3"/>
<circle cx="615.04" cy="103.46" r="0.6" fill="#7a7a7a" stroke="#444" stroke-width="0.3"/>
<circle cx="615.88" cy="153.92" r="0.6" fill="#7a7a7a" stroke="#444" stroke-width="0.3"/>
<circle cx="614.45" cy="158.70" r="0.6" fill="#7a7a7a" stroke="#444" stroke-width="0.3"/>
<circle cx="614.11" cy="136.28" r="0.6" fill="#7a7a7a" stroke="#444" stroke-width="0.3"/>
<circle cx="615.43" cy="174.46" r="0.6" fill="#7a7a7a" stroke="#444" stroke-width="0.3"/>
<circle cx="614.24" cy="176.17" r="0.6" fill="#7a7a7a" stroke="#444" stroke-width="0.3"/>
<circle cx="615.21" cy="153.79" r="0.6" fill="#7a7a7a" stroke="#444" stroke-width="0.3"/>
<circle cx="614.15" cy="159.42" r="0.6" fill="#7a7a7a" stroke="#444" stroke-width="0.3"/>
<circle cx="614.00" cy="175.12" r="0.6" fill="#7a7a7a" stroke="#444" stroke-width="0.3"/>
<circle cx="614.57" cy="104.51" r="0.6" fill="#7a7a7a" stroke="#444" stroke-width="0.3"/>
<circle cx="615.03" cy="100.49" r="0.6" fill="#7a7a7a" stroke="#444" stroke-width="0.3"/>
<circle cx="614.85" cy="150.58" r="0.6" fill="#7a7a7a" stroke="#444" stroke-width="0.3"/>
<circle cx="614.59" cy="94.84" r="0.6" fill="#7a7a7a" stroke="#444" stroke-width="0.3"/>
<circle cx="612.71" cy="172.47" r="0.6" fill="#7a7a7a" stroke="#444" stroke-width="0.3"/>
<circle cx="613.93" cy="171.09" r="0.6" fill="#7a7a7a" stroke="#444" stroke-width="0.3"/>
<circle cx="612.07" cy="187.80" r="0.6" fill="#7a7a7a" stroke="#444" stroke-width="0.3"/>
<circle cx="615.00" cy="151.60" r="0.6" fill="#7a7a7a" stroke="#444" stroke-width="0.3"/>
<circle cx="614.39" cy="94.62" r="0.6" fill="#7a7a7a" stroke="#444" stroke-width="0.3"/>
<circle cx="614.79" cy="90.43" r="0.6" fill="#7a7a7a" stroke="#444" stroke-width="0.3"/>
<circle cx="615.53" cy="133.44" r="0.6" fill="#7a7a7a" stroke="#444" stroke-width="0.3"/>
<circle cx="614.48" cy="157.64" r="0.6" fill="#7a7a7a" stroke="#444" stroke-width="0.3"/>
<circle cx="614.04" cy="127.39" r="0.6" fill="#7a7a7a" stroke="#444" stroke-width="0.3"/>
<circle cx="614.11" cy="142.69" r="0.6" fill="#7a7a7a" stroke="#444" stroke-width="0.3"/>
<circle cx="614.89" cy="148.54" r="0.6" fill="#7a7a7a" stroke="#444" stroke-width="0.3"/>
<circle cx="613.98" cy="124.25" r="0.6" fill="#7a7a7a" stroke="#444" stroke-width="0.3"/>
<circle cx="613.32" cy="188.43" r="0.6" fill="#7a7a7a" stroke="#444" stroke-width="0.3"/>
<circle cx="616.17" cy="186.50" r="0.6" fill="#7a7a7a" stroke="#444" stroke-width="0.3"/>
<circle cx="615.31" cy="162.09" r="0.6" fill="#7a7a7a" stroke="#444" stroke-width="0.3"/>
<circle cx="615.43" cy="115.69" r="0.6" fill="#7a7a7a" stroke="#444" stroke-width="0.3"/>
<circle cx="615.34" cy="122.04" r="0.6" fill="#7a7a7a" stroke="#444" stroke-width="0.3"/>
<circle cx="615.44" cy="163.84" r="0.6" fill="#7a7a7a" stroke="#444" stroke-width="0.3"/>
<circle cx="613.97" cy="115.10" r="0.6" fill="#7a7a7a" stroke="#444" stroke-width="0.3"/>
<circle cx="613.86" cy="137.81" r="0.6" fill="#7a7a7a" stroke="#444" stroke-width="0.3"/>
<circle cx="612.67" cy="146.21" r="0.6" fill="#7a7a7a" stroke="#444" stroke-width="0.3"/>
<circle cx="613.39" cy="115.69" r="0.6" fill="#7a7a7a" stroke="#444" stroke-width="0.3"/>
<circle cx="616.32" cy="140.05" r="0.6" fill="#7a7a7a" stroke="#444" stroke-width="0.3"/>
<circle cx="613.79" cy="88.90" r="0.6" fill="#7a7a7a" stroke="#444" stroke-width="0.3"/>
<circle cx="614.89" cy="156.08" r="0.6" fill="#7a7a7a" stroke="#444" stroke-width="0.3"/>
<circle cx="614.43" cy="91.41" r="0.6" fill="#7a7a7a" stroke="#444" stroke-width="0.3"/>
<circle cx="614.99" cy="135.50" r="0.6" fill="#7a7a7a" stroke="#444" stroke-width="0.3"/>
<circle cx="613.45" cy="190.82" r="0.6" fill="#7a7a7a" stroke="#444" stroke-width="0.3"/>
<circle cx="614.22" cy="185.29" r="0.6" fill="#7a7a7a" stroke="#444" stroke-width="0.3"/>
<circle cx="613.26" cy="93.42" r="0.6" fill="#7a7a7a" stroke="#444" stroke-width="0.3"/>
<circle cx="616.08" cy="83.96" r="0.6" fill="#7a7a7a" stroke="#444" stroke-width="0.3"/>
<circle cx="614.37" cy="166.96" r="0.6" fill="#7a7a7a" stroke="#444" stroke-width="0.3"/>
<circle cx="614.65" cy="110.77" r="0.6" fill="#7a7a7a" stroke="#444" stroke-width="0.3"/>
<circle cx="613.52" cy="133.39" r="0.6" fill="#7a7a7a" stroke="#444" stroke-width="0.3"/>
<circle cx="615.39" cy="89.20" r="0.6" fill="#7a7a7a" stroke="#444" stroke-width="0.3"/>
<circle cx="615.67" cy="107.25" r="0.6" fill="#7a7a7a" stroke="#444" stroke-width="0.3"/>
<circle cx="614.31" cy="134.88" r="0.6" fill="#7a7a7a" stroke="#444" stroke-width="0.3"/>
<circle cx="614.00" cy="92.71" r="0.6" fill="#7a7a7a" stroke="#444" stroke-width="0.3"/>
<circle cx="617.19" cy="158.36" r="0.6" fill="#7a7a7a" stroke="#444" stroke-width="0.3"/>
<circle cx="613.01" cy="185.40" r="0.6" fill="#7a7a7a" stroke="#444" stroke-width="0.3"/>
<circle cx="615.69" cy="189.45" r="0.6" fill="#7a7a7a" stroke="#444" stroke-width="0.3"/>
<circle cx="614.30" cy="189.84" r="0.6" fill="#7a7a7a" stroke="#444" stroke-width="0.3"/>
<circle cx="614.28" cy="190.77" r="0.6" fill="#7a7a7a" stroke="#444" stroke-width="0.3"/>
<circle cx="615.62" cy="191.56" r="0.6" fill="#7a7a7a" stroke="#444" stroke-width="0.3"/>
<circle cx="612.33" cy="192.49" r="0.6" fill="#7a7a7a" stroke="#444" stroke-width="0.3"/>
<circle cx="615.64" cy="191.69" r="0.6" fill="#7a7a7a" stroke="#444" stroke-width="0.3"/>
<circle cx="616.04" cy="192.29" r="0.6" fill="#7a7a7a" stroke="#444" stroke-width="0.3"/>
<circle cx="613.73" cy="186.63" r="0.6" fill="#7a7a7a" stroke="#444" stroke-width="0.3"/>
<circle cx="614.91" cy="187.15" r="0.6" fill="#7a7a7a" stroke="#444" stroke-width="0.3"/>
<circle cx="615.09" cy="185.93" r="0.6" fill="#7a7a7a" stroke="#444" stroke-width="0.3"/>
<circle cx="615.56" cy="187.86" r="0.6" fill="#7a7a7a" stroke="#444" stroke-width="0.3"/>
<circle cx="614.57" cy="191.64" r="0.6" fill="#7a7a7a" stroke="#444" stroke-width="0.3"/>
<circle cx="614.70" cy="192.21" r="0.6" fill="#7a7a7a" stroke="#444" stroke-width="0.3"/>
<circle cx="614.71" cy="186.02" r="0.6" fill="#7a7a7a" stroke="#444" stroke-width="0.3"/>
<circle cx="616.96" cy="185.23" r="0.6" fill="#7a7a7a" stroke="#444" stroke-width="0.3"/>
<circle cx="614.31" cy="188.22" r="0.6" fill="#7a7a7a" stroke="#444" stroke-width="0.3"/>
<circle cx="616.33" cy="190.81" r="0.6" fill="#7a7a7a" stroke="#444" stroke-width="0.3"/>
<circle cx="616.19" cy="188.89" r="0.6" fill="#7a7a7a" stroke="#444" stroke-width="0.3"/>
<circle cx="614.23" cy="185.83" r="0.6" fill="#7a7a7a" stroke="#444" stroke-width="0.3"/>
<circle cx="613.65" cy="187.81" r="0.6" fill="#7a7a7a" stroke="#444" stroke-width="0.3"/>
<circle cx="615.42" cy="192.24" r="0.6" fill="#7a7a7a" stroke="#444" stroke-width="0.3"/>
<circle cx="614.39" cy="189.27" r="0.6" fill="#7a7a7a" stroke="#444" stroke-width="0.3"/>
<circle cx="615.88" cy="186.00" r="0.6" fill="#7a7a7a" stroke="#444" stroke-width="0.3"/>
<circle cx="616.39" cy="190.29" r="0.6" fill="#7a7a7a" stroke="#444" stroke-width="0.3"/>
<line x1="571.90" y1="45.80" x2="609.30" y2="45.80" stroke="#999" stroke-width="1.2"/>
<text x="590.40" y="42.00" font-size="7.6" text-anchor="middle" fill="#000">p = 0.003</text>
<text x="517.00" y="112.10" font-size="10.0" text-anchor="middle" fill="#000" transform="rotate(-90 517.00 112.10)">Shannon's diversity index</text>
<text x="564.90" y="202.40" font-size="7.6" text-anchor="middle" fill="#000">Grade 2</text>
<text x="614.10" y="202.40" font-size="7.6" text-anchor="middle" fill="#000">Grade 3</text>
<path d="M385.7,247.0 L385.7,409.8 L484,409.8" fill="none" stroke="#7a7a7a" stroke-width="1.1"/>
<text x="382.60" y="410.60" font-size="7.3" text-anchor="middle" fill="#000" transform="rotate(-90 382.60 410.60)">0</text>
<text x="382.60" y="359.00" font-size="7.3" text-anchor="middle" fill="#000" transform="rotate(-90 382.60 359.00)">0.1</text>
<text x="382.60" y="306.80" font-size="7.3" text-anchor="middle" fill="#000" transform="rotate(-90 382.60 306.80)">0.2</text>
<text x="382.60" y="255.60" font-size="7.3" text-anchor="middle" fill="#000" transform="rotate(-90 382.60 255.60)">0.3</text>
<line x1="414.20" y1="302.20" x2="414.20" y2="364.20" stroke="#555" stroke-width="0.6"/>
<rect x="402.30" y="334.30" width="24.20" height="24.40" fill="#87B86A" stroke="#555" stroke-width="0.6"/>
<line x1="402.30" y1="346.60" x2="426.50" y2="346.60" stroke="#3F5E36" stroke-width="1.3"/>
<line x1="461.40" y1="284.60" x2="461.40" y2="375.10" stroke="#777" stroke-width="0.6"/>
<rect x="449.10" y="290.20" width="24.30" height="58.10" fill="#8966AF" stroke="#555" stroke-width="0.6"/>
<line x1="449.10" y1="317.10" x2="473.40" y2="317.10" stroke="#4B3868" stroke-width="1.3"/>
<circle cx="413.60" cy="302.20" r="0.6" fill="#8a8a8a" stroke="#555" stroke-width="0.3"/>
<circle cx="413.90" cy="304.50" r="0.6" fill="#8a8a8a" stroke="#555" stroke-width="0.3"/>
<circle cx="414.20" cy="331.50" r="0.6" fill="#8a8a8a" stroke="#555" stroke-width="0.3"/>
<circle cx="414.90" cy="340.00" r="0.6" fill="#8a8a8a" stroke="#555" stroke-width="0.3"/>
<circle cx="415.20" cy="341.50" r="0.6" fill="#8a8a8a" stroke="#555" stroke-width="0.3"/>
<circle cx="413.60" cy="352.50" r="0.6" fill="#8a8a8a" stroke="#555" stroke-width="0.3"/>
<circle cx="415.00" cy="355.00" r="0.6" fill="#8a8a8a" stroke="#555" stroke-width="0.3"/>
<circle cx="415.80" cy="357.00" r="0.6" fill="#8a8a8a" stroke="#555" stroke-width="0.3"/>
<circle cx="414.50" cy="361.00" r="0.6" fill="#8a8a8a" stroke="#555" stroke-width="0.3"/>
<circle cx="413.80" cy="363.00" r="0.6" fill="#8a8a8a" stroke="#555" stroke-width="0.3"/>
<circle cx="413.50" cy="365.00" r="0.6" fill="#8a8a8a" stroke="#555" stroke-width="0.3"/>
<circle cx="460.50" cy="284.50" r="0.6" fill="#8a8a8a" stroke="#555" stroke-width="0.3"/>
<circle cx="462.50" cy="284.00" r="0.6" fill="#8a8a8a" stroke="#555" stroke-width="0.3"/>
<circle cx="460.00" cy="287.00" r="0.6" fill="#8a8a8a" stroke="#555" stroke-width="0.3"/>
<circle cx="460.40" cy="288.50" r="0.6" fill="#8a8a8a" stroke="#555" stroke-width="0.3"/>
<circle cx="462.00" cy="297.50" r="0.6" fill="#8a8a8a" stroke="#555" stroke-width="0.3"/>
<circle cx="462.00" cy="315.50" r="0.6" fill="#8a8a8a" stroke="#555" stroke-width="0.3"/>
<circle cx="462.20" cy="317.60" r="0.6" fill="#8a8a8a" stroke="#555" stroke-width="0.3"/>
<circle cx="460.50" cy="339.60" r="0.6" fill="#8a8a8a" stroke="#555" stroke-width="0.3"/>
<circle cx="460.80" cy="351.70" r="0.6" fill="#8a8a8a" stroke="#555" stroke-width="0.3"/>
<circle cx="460.60" cy="354.60" r="0.6" fill="#8a8a8a" stroke="#555" stroke-width="0.3"/>
<circle cx="461.50" cy="375.50" r="0.6" fill="#8a8a8a" stroke="#555" stroke-width="0.3"/>
<line x1="422.90" y1="263.40" x2="453.50" y2="263.40" stroke="#555" stroke-width="0.8"/>
<text x="438.20" y="260.50" font-size="7.4" text-anchor="middle" fill="#000">p = 0.03</text>
<text x="369.50" y="320.40" font-size="9.6" text-anchor="middle" fill="#000" transform="rotate(-90 369.50 320.40)">Mean P−ITH</text>
<text x="413.30" y="418.40" font-size="7.6" text-anchor="middle" fill="#000">Grade 2</text>
<text x="461.60" y="418.40" font-size="7.6" text-anchor="middle" fill="#000">Grade 3</text>
<rect x="522.40" y="247.20" width="23.10" height="23.10" fill="none" stroke="#D4D4D4" stroke-width="0.7"/>
<rect x="522.40" y="270.30" width="23.10" height="23.10" fill="none" stroke="#D4D4D4" stroke-width="0.7"/>
<rect x="545.50" y="270.30" width="23.10" height="23.10" fill="none" stroke="#D4D4D4" stroke-width="0.7"/>
<rect x="522.40" y="293.40" width="23.10" height="23.10" fill="none" stroke="#D4D4D4" stroke-width="0.7"/>
<rect x="545.50" y="293.40" width="23.10" height="23.10" fill="none" stroke="#D4D4D4" stroke-width="0.7"/>
<rect x="568.60" y="293.40" width="23.10" height="23.10" fill="none" stroke="#D4D4D4" stroke-width="0.7"/>
<rect x="522.40" y="316.50" width="23.10" height="23.10" fill="none" stroke="#D4D4D4" stroke-width="0.7"/>
<rect x="545.50" y="316.50" width="23.10" height="23.10" fill="none" stroke="#D4D4D4" stroke-width="0.7"/>
<rect x="568.60" y="316.50" width="23.10" height="23.10" fill="none" stroke="#D4D4D4" stroke-width="0.7"/>
<rect x="591.70" y="316.50" width="23.10" height="23.10" fill="none" stroke="#D4D4D4" stroke-width="0.7"/>
<rect x="522.40" y="339.60" width="23.10" height="23.10" fill="none" stroke="#D4D4D4" stroke-width="0.7"/>
<rect x="545.50" y="339.60" width="23.10" height="23.10" fill="none" stroke="#D4D4D4" stroke-width="0.7"/>
<rect x="568.60" y="339.60" width="23.10" height="23.10" fill="none" stroke="#D4D4D4" stroke-width="0.7"/>
<rect x="591.70" y="339.60" width="23.10" height="23.10" fill="none" stroke="#D4D4D4" stroke-width="0.7"/>
<rect x="614.80" y="339.60" width="23.10" height="23.10" fill="none" stroke="#D4D4D4" stroke-width="0.7"/>
<rect x="522.40" y="362.70" width="23.10" height="23.10" fill="none" stroke="#D4D4D4" stroke-width="0.7"/>
<rect x="545.50" y="362.70" width="23.10" height="23.10" fill="none" stroke="#D4D4D4" stroke-width="0.7"/>
<rect x="568.60" y="362.70" width="23.10" height="23.10" fill="none" stroke="#D4D4D4" stroke-width="0.7"/>
<rect x="591.70" y="362.70" width="23.10" height="23.10" fill="none" stroke="#D4D4D4" stroke-width="0.7"/>
<rect x="614.80" y="362.70" width="23.10" height="23.10" fill="none" stroke="#D4D4D4" stroke-width="0.7"/>
<rect x="637.90" y="362.70" width="23.10" height="23.10" fill="none" stroke="#D4D4D4" stroke-width="0.7"/>
<rect x="522.40" y="385.80" width="23.10" height="23.10" fill="none" stroke="#D4D4D4" stroke-width="0.7"/>
<rect x="545.50" y="385.80" width="23.10" height="23.10" fill="none" stroke="#D4D4D4" stroke-width="0.7"/>
<rect x="568.60" y="385.80" width="23.10" height="23.10" fill="none" stroke="#D4D4D4" stroke-width="0.7"/>
<rect x="591.70" y="385.80" width="23.10" height="23.10" fill="none" stroke="#D4D4D4" stroke-width="0.7"/>
<rect x="614.80" y="385.80" width="23.10" height="23.10" fill="none" stroke="#D4D4D4" stroke-width="0.7"/>
<rect x="637.90" y="385.80" width="23.10" height="23.10" fill="none" stroke="#D4D4D4" stroke-width="0.7"/>
<rect x="661.00" y="385.80" width="23.10" height="23.10" fill="none" stroke="#D4D4D4" stroke-width="0.7"/>
<circle cx="533.95" cy="281.85" r="7.20" fill="#D6604D"/>
<circle cx="533.95" cy="304.95" r="8.10" fill="#D6604D"/>
<circle cx="533.95" cy="305.25" r="0.70" fill="#1a1a1a"/>
<circle cx="557.05" cy="304.95" r="9.10" fill="#B2182B"/>
<circle cx="555.25" cy="305.25" r="0.70" fill="#1a1a1a"/>
<circle cx="558.85" cy="305.25" r="0.70" fill="#1a1a1a"/>
<circle cx="533.95" cy="328.05" r="6.00" fill="#92C5DE"/>
<circle cx="532.15" cy="328.35" r="0.70" fill="#1a1a1a"/>
<circle cx="535.75" cy="328.35" r="0.70" fill="#1a1a1a"/>
<circle cx="557.05" cy="328.05" r="2.50" fill="#D1E5F0"/>
<circle cx="580.15" cy="328.05" r="2.50" fill="#D1E5F0"/>
<circle cx="533.95" cy="351.15" r="6.30" fill="#92C5DE"/>
<circle cx="532.15" cy="351.45" r="0.70" fill="#1a1a1a"/>
<circle cx="535.75" cy="351.45" r="0.70" fill="#1a1a1a"/>
<circle cx="557.05" cy="351.15" r="7.00" fill="#4393C3"/>
<circle cx="555.25" cy="351.45" r="0.70" fill="#1a1a1a"/>
<circle cx="558.85" cy="351.45" r="0.70" fill="#1a1a1a"/>
<circle cx="580.15" cy="351.15" r="7.00" fill="#4393C3"/>
<circle cx="580.15" cy="351.45" r="0.70" fill="#1a1a1a"/>
<circle cx="603.25" cy="351.15" r="9.10" fill="#B2182B"/>
<circle cx="601.45" cy="351.45" r="0.70" fill="#1a1a1a"/>
<circle cx="605.05" cy="351.45" r="0.70" fill="#1a1a1a"/>
<circle cx="533.95" cy="374.25" r="4.80" fill="#FDDBC7"/>
<circle cx="557.05" cy="374.25" r="5.80" fill="#F4A582"/>
<circle cx="580.15" cy="374.25" r="1.00" fill="#D1E5F0"/>
<circle cx="603.25" cy="374.25" r="2.70" fill="#D1E5F0"/>
<circle cx="626.35" cy="374.25" r="4.10" fill="#D1E5F0"/>
<circle cx="533.95" cy="397.35" r="5.30" fill="#F4A582"/>
<circle cx="557.05" cy="397.35" r="5.10" fill="#92C5DE"/>
<circle cx="580.15" cy="397.35" r="5.50" fill="#92C5DE"/>
<circle cx="603.25" cy="397.35" r="2.70" fill="#D1E5F0"/>
<circle cx="626.35" cy="397.35" r="4.80" fill="#F4A582"/>
<circle cx="649.45" cy="397.35" r="4.60" fill="#FDDBC7"/>
<circle cx="533.95" cy="258.75" r="10.50" fill="#67001F"/>
<circle cx="557.05" cy="281.85" r="10.50" fill="#67001F"/>
<circle cx="580.15" cy="304.95" r="10.50" fill="#67001F"/>
<circle cx="603.25" cy="328.05" r="10.50" fill="#67001F"/>
<circle cx="626.35" cy="351.15" r="10.50" fill="#67001F"/>
<circle cx="649.45" cy="374.25" r="10.50" fill="#67001F"/>
<circle cx="672.55" cy="397.35" r="10.50" fill="#67001F"/>
<text x="521.00" y="260.65" font-size="7.6" text-anchor="end" fill="#000">Grade</text>
<text x="521.00" y="283.75" font-size="7.6" text-anchor="end" fill="#000">Cellularity</text>
<text x="521.00" y="306.85" font-size="7.6" text-anchor="end" fill="#000">P−ITH</text>
<text x="521.00" y="326.45" font-size="7.6" text-anchor="end" fill="#000">Receptor−</text>
<text x="521.00" y="335.05" font-size="7.6" text-anchor="end" fill="#000">ITH</text>
<text x="521.00" y="353.05" font-size="7.6" text-anchor="end" fill="#000">DFS</text>
<text x="521.00" y="376.15" font-size="7.6" text-anchor="end" fill="#000">Age</text>
<text x="521.00" y="395.75" font-size="7.6" text-anchor="end" fill="#000">Tumor</text>
<text x="521.00" y="404.35" font-size="7.6" text-anchor="end" fill="#000">Size</text>
<text x="529.70" y="244.20" font-size="7.6" fill="#000" transform="rotate(-45 529.70 244.20)">Grade</text>
<text x="552.80" y="267.30" font-size="7.6" fill="#000" transform="rotate(-45 552.80 267.30)">Cellularity</text>
<text x="575.90" y="290.40" font-size="7.6" fill="#000" transform="rotate(-45 575.90 290.40)">P−ITH</text>
<text x="599.00" y="313.50" font-size="7.6" fill="#000" transform="rotate(-45 599.00 313.50)">Receptor−ITH</text>
<text x="622.10" y="336.60" font-size="7.6" fill="#000" transform="rotate(-45 622.10 336.60)">DFS</text>
<text x="645.20" y="359.70" font-size="7.6" fill="#000" transform="rotate(-45 645.20 359.70)">Age</text>
<text x="666.10" y="378.00" font-size="7.6" fill="#000" transform="rotate(-45 666.10 378.00)">Tumor</text>
<text x="673.60" y="385.60" font-size="7.6" fill="#000" transform="rotate(-45 673.60 385.60)">Size</text>
<rect x="522.00" y="412.00" width="16.05" height="7.50" fill="#053061"/>
<rect x="538.00" y="412.00" width="16.05" height="7.50" fill="#2166AC"/>
<rect x="554.00" y="412.00" width="16.05" height="7.50" fill="#4393C3"/>
<rect x="570.00" y="412.00" width="16.05" height="7.50" fill="#92C5DE"/>
<rect x="586.00" y="412.00" width="16.05" height="7.50" fill="#D1E5F0"/>
<rect x="602.00" y="412.00" width="16.05" height="7.50" fill="#FDDBC7"/>
<rect x="618.00" y="412.00" width="16.05" height="7.50" fill="#F4A582"/>
<rect x="634.00" y="412.00" width="16.05" height="7.50" fill="#D6604D"/>
<rect x="650.00" y="412.00" width="16.05" height="7.50" fill="#B2182B"/>
<rect x="666.00" y="412.00" width="16.05" height="7.50" fill="#67001F"/>
<line x1="522.00" y1="419.50" x2="522.00" y2="421.00" stroke="#333" stroke-width="0.4"/>
<text x="522.00" y="427.60" font-size="6.6" text-anchor="middle" fill="#000">−1</text>
<line x1="538.00" y1="419.50" x2="538.00" y2="421.00" stroke="#333" stroke-width="0.4"/>
<text x="538.00" y="427.60" font-size="6.6" text-anchor="middle" fill="#000">−0.8</text>
<line x1="554.00" y1="419.50" x2="554.00" y2="421.00" stroke="#333" stroke-width="0.4"/>
<text x="554.00" y="427.60" font-size="6.6" text-anchor="middle" fill="#000">−0.6</text>
<line x1="570.00" y1="419.50" x2="570.00" y2="421.00" stroke="#333" stroke-width="0.4"/>
<text x="570.00" y="427.60" font-size="6.6" text-anchor="middle" fill="#000">−0.4</text>
<line x1="586.00" y1="419.50" x2="586.00" y2="421.00" stroke="#333" stroke-width="0.4"/>
<text x="586.00" y="427.60" font-size="6.6" text-anchor="middle" fill="#000">−0.2</text>
<line x1="602.00" y1="419.50" x2="602.00" y2="421.00" stroke="#333" stroke-width="0.4"/>
<text x="602.00" y="427.60" font-size="6.6" text-anchor="middle" fill="#000">0</text>
<line x1="618.00" y1="419.50" x2="618.00" y2="421.00" stroke="#333" stroke-width="0.4"/>
<text x="618.00" y="427.60" font-size="6.6" text-anchor="middle" fill="#000">0.2</text>
<line x1="634.00" y1="419.50" x2="634.00" y2="421.00" stroke="#333" stroke-width="0.4"/>
<text x="634.00" y="427.60" font-size="6.6" text-anchor="middle" fill="#000">0.4</text>
<line x1="650.00" y1="419.50" x2="650.00" y2="421.00" stroke="#333" stroke-width="0.4"/>
<text x="650.00" y="427.60" font-size="6.6" text-anchor="middle" fill="#000">0.6</text>
<line x1="666.00" y1="419.50" x2="666.00" y2="421.00" stroke="#333" stroke-width="0.4"/>
<text x="666.00" y="427.60" font-size="6.6" text-anchor="middle" fill="#000">0.8</text>
<line x1="682.00" y1="419.50" x2="682.00" y2="421.00" stroke="#333" stroke-width="0.4"/>
<text x="682.00" y="427.60" font-size="6.6" text-anchor="middle" fill="#000">1</text>
<text x="597.30" y="438.30" font-size="7.6" text-anchor="middle" fill="#000">Pearson's Correlation Coefficient</text>
</svg></body></html>
